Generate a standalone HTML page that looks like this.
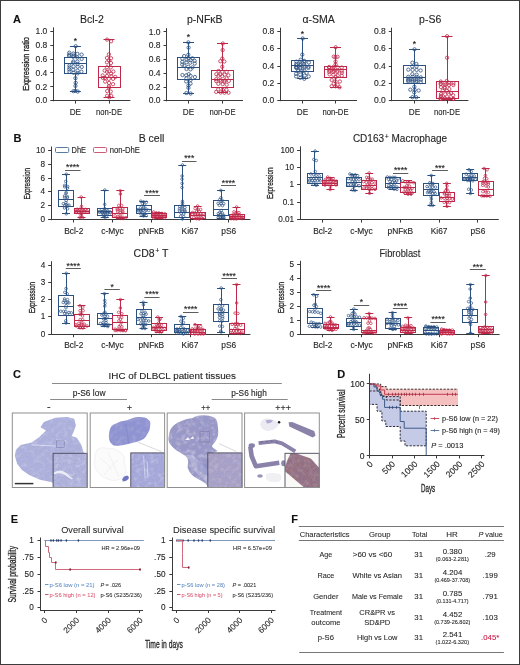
<!DOCTYPE html>
<html><head><meta charset="utf-8"><style>
html,body{margin:0;padding:0;background:#fff;}
body{width:520px;height:665px;position:relative;overflow:hidden;font-family:"Liberation Sans",sans-serif;}
#frame{position:absolute;left:0;top:0;width:518px;height:663px;border:1px solid #3c3c3c;pointer-events:none;}
</style></head><body>
<svg width="520" height="665" viewBox="0 0 520 665" style="position:absolute;left:0;top:0;will-change:transform">
<g font-family='"Liberation Sans", sans-serif' fill="#262626">
<rect x="0" y="0" width="520" height="665" fill="#fff"/>
<text x="13.00" y="23.00" font-size="11" fill="#111" font-weight="bold" stroke="#111" stroke-width="0.12" >A</text>
<line x1="53.50" y1="27.40" x2="53.50" y2="101.30" stroke="#3a3a3a" stroke-width="1" />
<line x1="50.30" y1="100.50" x2="53.40" y2="100.50" stroke="#3a3a3a" stroke-width="1" />
<text x="47.30" y="103.44" font-size="8.5" text-anchor="end" stroke="#262626" stroke-width="0.12" >0.0</text>
<line x1="50.30" y1="86.50" x2="53.40" y2="86.50" stroke="#3a3a3a" stroke-width="1" />
<text x="47.30" y="89.52" font-size="8.5" text-anchor="end" stroke="#262626" stroke-width="0.12" >0.2</text>
<line x1="50.30" y1="72.50" x2="53.40" y2="72.50" stroke="#3a3a3a" stroke-width="1" />
<text x="47.30" y="75.60" font-size="8.5" text-anchor="end" stroke="#262626" stroke-width="0.12" >0.4</text>
<line x1="50.30" y1="59.50" x2="53.40" y2="59.50" stroke="#3a3a3a" stroke-width="1" />
<text x="47.30" y="61.67" font-size="8.5" text-anchor="end" stroke="#262626" stroke-width="0.12" >0.6</text>
<line x1="50.30" y1="45.50" x2="53.40" y2="45.50" stroke="#3a3a3a" stroke-width="1" />
<text x="47.30" y="47.76" font-size="8.5" text-anchor="end" stroke="#262626" stroke-width="0.12" >0.8</text>
<line x1="50.30" y1="31.50" x2="53.40" y2="31.50" stroke="#3a3a3a" stroke-width="1" />
<text x="47.30" y="33.84" font-size="8.5" text-anchor="end" stroke="#262626" stroke-width="0.12" >1.0</text>
<line x1="52.90" y1="100.50" x2="130.40" y2="100.50" stroke="#3a3a3a" stroke-width="1" />
<line x1="75.50" y1="46.20" x2="75.50" y2="57.30" stroke="#2b5182" stroke-width="1.0" />
<line x1="75.50" y1="73.90" x2="75.50" y2="91.50" stroke="#2b5182" stroke-width="1.0" />
<line x1="69.90" y1="46.50" x2="80.90" y2="46.50" stroke="#2b5182" stroke-width="1.0" />
<line x1="69.90" y1="91.50" x2="80.90" y2="91.50" stroke="#2b5182" stroke-width="1.0" />
<rect x="64.50" y="57.50" width="22.00" height="16.00" fill="none" stroke="#2b5182" stroke-width="1.0"/>
<line x1="64.50" y1="63.50" x2="86.50" y2="63.50" stroke="#2b5182" stroke-width="1.0" />
<circle cx="75.68" cy="46.20" r="1.65" fill="none" stroke="#2b5182" stroke-width="0.8"/>
<circle cx="69.31" cy="52.69" r="1.65" fill="none" stroke="#2b5182" stroke-width="0.8"/>
<circle cx="73.40" cy="53.54" r="1.65" fill="none" stroke="#2b5182" stroke-width="0.8"/>
<circle cx="77.42" cy="53.93" r="1.65" fill="none" stroke="#2b5182" stroke-width="0.8"/>
<circle cx="81.61" cy="54.61" r="1.65" fill="none" stroke="#2b5182" stroke-width="0.8"/>
<circle cx="69.18" cy="54.66" r="1.65" fill="none" stroke="#2b5182" stroke-width="0.8"/>
<circle cx="73.40" cy="55.46" r="1.65" fill="none" stroke="#2b5182" stroke-width="0.8"/>
<circle cx="69.12" cy="56.00" r="1.65" fill="none" stroke="#2b5182" stroke-width="0.8"/>
<circle cx="73.16" cy="56.80" r="1.65" fill="none" stroke="#2b5182" stroke-width="0.8"/>
<circle cx="77.26" cy="57.53" r="1.65" fill="none" stroke="#2b5182" stroke-width="0.8"/>
<circle cx="81.62" cy="58.97" r="1.65" fill="none" stroke="#2b5182" stroke-width="0.8"/>
<circle cx="73.44" cy="61.46" r="1.65" fill="none" stroke="#2b5182" stroke-width="0.8"/>
<circle cx="77.44" cy="61.60" r="1.65" fill="none" stroke="#2b5182" stroke-width="0.8"/>
<circle cx="73.10" cy="62.61" r="1.65" fill="none" stroke="#2b5182" stroke-width="0.8"/>
<circle cx="77.60" cy="64.02" r="1.65" fill="none" stroke="#2b5182" stroke-width="0.8"/>
<circle cx="69.48" cy="65.49" r="1.65" fill="none" stroke="#2b5182" stroke-width="0.8"/>
<circle cx="73.60" cy="66.45" r="1.65" fill="none" stroke="#2b5182" stroke-width="0.8"/>
<circle cx="77.66" cy="66.72" r="1.65" fill="none" stroke="#2b5182" stroke-width="0.8"/>
<circle cx="81.79" cy="66.98" r="1.65" fill="none" stroke="#2b5182" stroke-width="0.8"/>
<circle cx="69.50" cy="67.44" r="1.65" fill="none" stroke="#2b5182" stroke-width="0.8"/>
<circle cx="69.27" cy="69.42" r="1.65" fill="none" stroke="#2b5182" stroke-width="0.8"/>
<circle cx="73.28" cy="69.85" r="1.65" fill="none" stroke="#2b5182" stroke-width="0.8"/>
<circle cx="77.57" cy="70.66" r="1.65" fill="none" stroke="#2b5182" stroke-width="0.8"/>
<circle cx="81.42" cy="71.66" r="1.65" fill="none" stroke="#2b5182" stroke-width="0.8"/>
<circle cx="69.44" cy="71.75" r="1.65" fill="none" stroke="#2b5182" stroke-width="0.8"/>
<circle cx="73.56" cy="72.79" r="1.65" fill="none" stroke="#2b5182" stroke-width="0.8"/>
<circle cx="77.69" cy="73.36" r="1.65" fill="none" stroke="#2b5182" stroke-width="0.8"/>
<circle cx="75.45" cy="78.19" r="1.65" fill="none" stroke="#2b5182" stroke-width="0.8"/>
<circle cx="75.67" cy="82.78" r="1.65" fill="none" stroke="#2b5182" stroke-width="0.8"/>
<circle cx="75.45" cy="85.94" r="1.65" fill="none" stroke="#2b5182" stroke-width="0.8"/>
<circle cx="75.37" cy="90.91" r="1.65" fill="none" stroke="#2b5182" stroke-width="0.8"/>
<circle cx="73.45" cy="91.20" r="1.65" fill="none" stroke="#2b5182" stroke-width="0.8"/>
<circle cx="77.75" cy="91.50" r="1.65" fill="none" stroke="#2b5182" stroke-width="0.8"/>
<line x1="75.50" y1="100.80" x2="75.50" y2="103.60" stroke="#3a3a3a" stroke-width="1" />
<line x1="109.50" y1="39.60" x2="109.50" y2="66.80" stroke="#c0284a" stroke-width="1.0" />
<line x1="109.50" y1="87.30" x2="109.50" y2="97.30" stroke="#c0284a" stroke-width="1.0" />
<line x1="103.50" y1="39.50" x2="114.50" y2="39.50" stroke="#c0284a" stroke-width="1.0" />
<line x1="103.50" y1="97.50" x2="114.50" y2="97.50" stroke="#c0284a" stroke-width="1.0" />
<rect x="98.50" y="66.50" width="22.00" height="21.00" fill="none" stroke="#c0284a" stroke-width="1.0"/>
<line x1="98.50" y1="77.50" x2="120.50" y2="77.50" stroke="#c0284a" stroke-width="1.0" />
<circle cx="107.07" cy="39.60" r="1.65" fill="none" stroke="#c0284a" stroke-width="0.8"/>
<circle cx="111.15" cy="41.30" r="1.65" fill="none" stroke="#c0284a" stroke-width="0.8"/>
<circle cx="108.92" cy="54.31" r="1.65" fill="none" stroke="#c0284a" stroke-width="0.8"/>
<circle cx="106.91" cy="57.90" r="1.65" fill="none" stroke="#c0284a" stroke-width="0.8"/>
<circle cx="111.06" cy="58.26" r="1.65" fill="none" stroke="#c0284a" stroke-width="0.8"/>
<circle cx="109.17" cy="60.49" r="1.65" fill="none" stroke="#c0284a" stroke-width="0.8"/>
<circle cx="106.96" cy="62.32" r="1.65" fill="none" stroke="#c0284a" stroke-width="0.8"/>
<circle cx="110.99" cy="62.93" r="1.65" fill="none" stroke="#c0284a" stroke-width="0.8"/>
<circle cx="106.94" cy="67.24" r="1.65" fill="none" stroke="#c0284a" stroke-width="0.8"/>
<circle cx="110.77" cy="67.38" r="1.65" fill="none" stroke="#c0284a" stroke-width="0.8"/>
<circle cx="104.63" cy="70.61" r="1.65" fill="none" stroke="#c0284a" stroke-width="0.8"/>
<circle cx="109.12" cy="71.34" r="1.65" fill="none" stroke="#c0284a" stroke-width="0.8"/>
<circle cx="113.39" cy="71.53" r="1.65" fill="none" stroke="#c0284a" stroke-width="0.8"/>
<circle cx="107.01" cy="71.78" r="1.65" fill="none" stroke="#c0284a" stroke-width="0.8"/>
<circle cx="110.99" cy="73.62" r="1.65" fill="none" stroke="#c0284a" stroke-width="0.8"/>
<circle cx="102.65" cy="75.45" r="1.65" fill="none" stroke="#c0284a" stroke-width="0.8"/>
<circle cx="106.95" cy="76.01" r="1.65" fill="none" stroke="#c0284a" stroke-width="0.8"/>
<circle cx="111.34" cy="76.22" r="1.65" fill="none" stroke="#c0284a" stroke-width="0.8"/>
<circle cx="115.31" cy="76.96" r="1.65" fill="none" stroke="#c0284a" stroke-width="0.8"/>
<circle cx="102.87" cy="77.90" r="1.65" fill="none" stroke="#c0284a" stroke-width="0.8"/>
<circle cx="105.12" cy="78.05" r="1.65" fill="none" stroke="#c0284a" stroke-width="0.8"/>
<circle cx="108.84" cy="78.85" r="1.65" fill="none" stroke="#c0284a" stroke-width="0.8"/>
<circle cx="113.11" cy="78.87" r="1.65" fill="none" stroke="#c0284a" stroke-width="0.8"/>
<circle cx="105.17" cy="81.59" r="1.65" fill="none" stroke="#c0284a" stroke-width="0.8"/>
<circle cx="109.05" cy="82.97" r="1.65" fill="none" stroke="#c0284a" stroke-width="0.8"/>
<circle cx="113.08" cy="84.17" r="1.65" fill="none" stroke="#c0284a" stroke-width="0.8"/>
<circle cx="108.86" cy="86.18" r="1.65" fill="none" stroke="#c0284a" stroke-width="0.8"/>
<circle cx="109.03" cy="87.61" r="1.65" fill="none" stroke="#c0284a" stroke-width="0.8"/>
<circle cx="107.22" cy="91.11" r="1.65" fill="none" stroke="#c0284a" stroke-width="0.8"/>
<circle cx="110.75" cy="91.52" r="1.65" fill="none" stroke="#c0284a" stroke-width="0.8"/>
<circle cx="107.12" cy="95.76" r="1.65" fill="none" stroke="#c0284a" stroke-width="0.8"/>
<circle cx="111.24" cy="95.90" r="1.65" fill="none" stroke="#c0284a" stroke-width="0.8"/>
<circle cx="109.23" cy="97.30" r="1.65" fill="none" stroke="#c0284a" stroke-width="0.8"/>
<line x1="109.50" y1="100.80" x2="109.50" y2="103.60" stroke="#3a3a3a" stroke-width="1" />
<text x="75.40" y="43.80" font-size="8.6" text-anchor="middle" fill="#111" stroke="#111" stroke-width="0.12" >*</text>
<text x="75.40" y="115.00" font-size="8.2" text-anchor="middle" stroke="#262626" stroke-width="0.12" >DE</text>
<text x="109.00" y="115.00" font-size="8.2" text-anchor="middle" textLength="26.00" lengthAdjust="spacingAndGlyphs" stroke="#262626" stroke-width="0.12" >non-DE</text>
<text x="91.90" y="22.70" font-size="10.5" text-anchor="middle" stroke="#262626" stroke-width="0.12" >Bcl-2</text>
<line x1="166.50" y1="28.10" x2="166.50" y2="101.30" stroke="#3a3a3a" stroke-width="1" />
<line x1="163.50" y1="100.50" x2="166.60" y2="100.50" stroke="#3a3a3a" stroke-width="1" />
<text x="160.50" y="103.44" font-size="8.5" text-anchor="end" stroke="#262626" stroke-width="0.12" >0.0</text>
<line x1="163.50" y1="87.50" x2="166.60" y2="87.50" stroke="#3a3a3a" stroke-width="1" />
<text x="160.50" y="89.66" font-size="8.5" text-anchor="end" stroke="#262626" stroke-width="0.12" >0.2</text>
<line x1="163.50" y1="73.50" x2="166.60" y2="73.50" stroke="#3a3a3a" stroke-width="1" />
<text x="160.50" y="75.88" font-size="8.5" text-anchor="end" stroke="#262626" stroke-width="0.12" >0.4</text>
<line x1="163.50" y1="59.50" x2="166.60" y2="59.50" stroke="#3a3a3a" stroke-width="1" />
<text x="160.50" y="62.09" font-size="8.5" text-anchor="end" stroke="#262626" stroke-width="0.12" >0.6</text>
<line x1="163.50" y1="45.50" x2="166.60" y2="45.50" stroke="#3a3a3a" stroke-width="1" />
<text x="160.50" y="48.31" font-size="8.5" text-anchor="end" stroke="#262626" stroke-width="0.12" >0.8</text>
<line x1="163.50" y1="31.50" x2="166.60" y2="31.50" stroke="#3a3a3a" stroke-width="1" />
<text x="160.50" y="34.53" font-size="8.5" text-anchor="end" stroke="#262626" stroke-width="0.12" >1.0</text>
<line x1="166.10" y1="100.50" x2="243.00" y2="100.50" stroke="#3a3a3a" stroke-width="1" />
<line x1="188.50" y1="42.40" x2="188.50" y2="57.30" stroke="#2b5182" stroke-width="1.0" />
<line x1="188.50" y1="79.30" x2="188.50" y2="93.50" stroke="#2b5182" stroke-width="1.0" />
<line x1="183.00" y1="42.50" x2="194.00" y2="42.50" stroke="#2b5182" stroke-width="1.0" />
<line x1="183.00" y1="93.50" x2="194.00" y2="93.50" stroke="#2b5182" stroke-width="1.0" />
<rect x="177.50" y="57.50" width="22.00" height="22.00" fill="none" stroke="#2b5182" stroke-width="1.0"/>
<line x1="177.50" y1="67.50" x2="199.50" y2="67.50" stroke="#2b5182" stroke-width="1.0" />
<circle cx="188.36" cy="42.40" r="1.65" fill="none" stroke="#2b5182" stroke-width="0.8"/>
<circle cx="188.57" cy="47.61" r="1.65" fill="none" stroke="#2b5182" stroke-width="0.8"/>
<circle cx="188.31" cy="54.77" r="1.65" fill="none" stroke="#2b5182" stroke-width="0.8"/>
<circle cx="184.17" cy="56.05" r="1.65" fill="none" stroke="#2b5182" stroke-width="0.8"/>
<circle cx="188.47" cy="58.11" r="1.65" fill="none" stroke="#2b5182" stroke-width="0.8"/>
<circle cx="192.40" cy="58.27" r="1.65" fill="none" stroke="#2b5182" stroke-width="0.8"/>
<circle cx="182.44" cy="58.73" r="1.65" fill="none" stroke="#2b5182" stroke-width="0.8"/>
<circle cx="186.64" cy="59.78" r="1.65" fill="none" stroke="#2b5182" stroke-width="0.8"/>
<circle cx="190.72" cy="60.25" r="1.65" fill="none" stroke="#2b5182" stroke-width="0.8"/>
<circle cx="194.64" cy="60.83" r="1.65" fill="none" stroke="#2b5182" stroke-width="0.8"/>
<circle cx="182.26" cy="61.83" r="1.65" fill="none" stroke="#2b5182" stroke-width="0.8"/>
<circle cx="186.41" cy="62.23" r="1.65" fill="none" stroke="#2b5182" stroke-width="0.8"/>
<circle cx="190.25" cy="62.70" r="1.65" fill="none" stroke="#2b5182" stroke-width="0.8"/>
<circle cx="194.78" cy="63.54" r="1.65" fill="none" stroke="#2b5182" stroke-width="0.8"/>
<circle cx="182.25" cy="64.51" r="1.65" fill="none" stroke="#2b5182" stroke-width="0.8"/>
<circle cx="184.29" cy="65.53" r="1.65" fill="none" stroke="#2b5182" stroke-width="0.8"/>
<circle cx="188.25" cy="66.74" r="1.65" fill="none" stroke="#2b5182" stroke-width="0.8"/>
<circle cx="192.57" cy="67.35" r="1.65" fill="none" stroke="#2b5182" stroke-width="0.8"/>
<circle cx="186.50" cy="69.04" r="1.65" fill="none" stroke="#2b5182" stroke-width="0.8"/>
<circle cx="190.48" cy="69.38" r="1.65" fill="none" stroke="#2b5182" stroke-width="0.8"/>
<circle cx="188.72" cy="74.19" r="1.65" fill="none" stroke="#2b5182" stroke-width="0.8"/>
<circle cx="182.45" cy="75.06" r="1.65" fill="none" stroke="#2b5182" stroke-width="0.8"/>
<circle cx="186.29" cy="75.30" r="1.65" fill="none" stroke="#2b5182" stroke-width="0.8"/>
<circle cx="190.57" cy="75.87" r="1.65" fill="none" stroke="#2b5182" stroke-width="0.8"/>
<circle cx="194.90" cy="77.06" r="1.65" fill="none" stroke="#2b5182" stroke-width="0.8"/>
<circle cx="186.46" cy="78.26" r="1.65" fill="none" stroke="#2b5182" stroke-width="0.8"/>
<circle cx="190.61" cy="79.93" r="1.65" fill="none" stroke="#2b5182" stroke-width="0.8"/>
<circle cx="186.19" cy="81.43" r="1.65" fill="none" stroke="#2b5182" stroke-width="0.8"/>
<circle cx="190.54" cy="83.60" r="1.65" fill="none" stroke="#2b5182" stroke-width="0.8"/>
<circle cx="188.48" cy="85.45" r="1.65" fill="none" stroke="#2b5182" stroke-width="0.8"/>
<circle cx="188.44" cy="87.87" r="1.65" fill="none" stroke="#2b5182" stroke-width="0.8"/>
<circle cx="186.40" cy="93.07" r="1.65" fill="none" stroke="#2b5182" stroke-width="0.8"/>
<circle cx="190.60" cy="93.50" r="1.65" fill="none" stroke="#2b5182" stroke-width="0.8"/>
<line x1="188.50" y1="100.80" x2="188.50" y2="103.60" stroke="#3a3a3a" stroke-width="1" />
<line x1="222.50" y1="43.50" x2="222.50" y2="70.70" stroke="#c0284a" stroke-width="1.0" />
<line x1="222.50" y1="87.30" x2="222.50" y2="92.70" stroke="#c0284a" stroke-width="1.0" />
<line x1="217.00" y1="43.50" x2="228.00" y2="43.50" stroke="#c0284a" stroke-width="1.0" />
<line x1="217.00" y1="92.50" x2="228.00" y2="92.50" stroke="#c0284a" stroke-width="1.0" />
<rect x="211.50" y="70.50" width="22.00" height="17.00" fill="none" stroke="#c0284a" stroke-width="1.0"/>
<line x1="211.50" y1="79.50" x2="233.50" y2="79.50" stroke="#c0284a" stroke-width="1.0" />
<circle cx="222.78" cy="43.50" r="1.65" fill="none" stroke="#c0284a" stroke-width="0.8"/>
<circle cx="222.65" cy="50.02" r="1.65" fill="none" stroke="#c0284a" stroke-width="0.8"/>
<circle cx="222.27" cy="58.58" r="1.65" fill="none" stroke="#c0284a" stroke-width="0.8"/>
<circle cx="220.30" cy="61.23" r="1.65" fill="none" stroke="#c0284a" stroke-width="0.8"/>
<circle cx="224.31" cy="61.52" r="1.65" fill="none" stroke="#c0284a" stroke-width="0.8"/>
<circle cx="222.24" cy="66.78" r="1.65" fill="none" stroke="#c0284a" stroke-width="0.8"/>
<circle cx="218.58" cy="70.95" r="1.65" fill="none" stroke="#c0284a" stroke-width="0.8"/>
<circle cx="222.31" cy="71.69" r="1.65" fill="none" stroke="#c0284a" stroke-width="0.8"/>
<circle cx="226.64" cy="71.87" r="1.65" fill="none" stroke="#c0284a" stroke-width="0.8"/>
<circle cx="216.32" cy="74.18" r="1.65" fill="none" stroke="#c0284a" stroke-width="0.8"/>
<circle cx="220.26" cy="74.51" r="1.65" fill="none" stroke="#c0284a" stroke-width="0.8"/>
<circle cx="224.69" cy="74.72" r="1.65" fill="none" stroke="#c0284a" stroke-width="0.8"/>
<circle cx="228.43" cy="75.32" r="1.65" fill="none" stroke="#c0284a" stroke-width="0.8"/>
<circle cx="218.49" cy="75.74" r="1.65" fill="none" stroke="#c0284a" stroke-width="0.8"/>
<circle cx="222.27" cy="76.22" r="1.65" fill="none" stroke="#c0284a" stroke-width="0.8"/>
<circle cx="226.55" cy="78.40" r="1.65" fill="none" stroke="#c0284a" stroke-width="0.8"/>
<circle cx="216.18" cy="79.20" r="1.65" fill="none" stroke="#c0284a" stroke-width="0.8"/>
<circle cx="220.31" cy="79.99" r="1.65" fill="none" stroke="#c0284a" stroke-width="0.8"/>
<circle cx="224.83" cy="80.45" r="1.65" fill="none" stroke="#c0284a" stroke-width="0.8"/>
<circle cx="228.83" cy="80.92" r="1.65" fill="none" stroke="#c0284a" stroke-width="0.8"/>
<circle cx="216.23" cy="81.15" r="1.65" fill="none" stroke="#c0284a" stroke-width="0.8"/>
<circle cx="220.68" cy="81.33" r="1.65" fill="none" stroke="#c0284a" stroke-width="0.8"/>
<circle cx="224.38" cy="81.70" r="1.65" fill="none" stroke="#c0284a" stroke-width="0.8"/>
<circle cx="218.34" cy="83.86" r="1.65" fill="none" stroke="#c0284a" stroke-width="0.8"/>
<circle cx="222.71" cy="84.14" r="1.65" fill="none" stroke="#c0284a" stroke-width="0.8"/>
<circle cx="226.69" cy="84.68" r="1.65" fill="none" stroke="#c0284a" stroke-width="0.8"/>
<circle cx="218.16" cy="89.45" r="1.65" fill="none" stroke="#c0284a" stroke-width="0.8"/>
<circle cx="222.79" cy="89.81" r="1.65" fill="none" stroke="#c0284a" stroke-width="0.8"/>
<circle cx="226.43" cy="89.84" r="1.65" fill="none" stroke="#c0284a" stroke-width="0.8"/>
<circle cx="216.20" cy="91.88" r="1.65" fill="none" stroke="#c0284a" stroke-width="0.8"/>
<circle cx="220.61" cy="92.51" r="1.65" fill="none" stroke="#c0284a" stroke-width="0.8"/>
<circle cx="224.45" cy="92.68" r="1.65" fill="none" stroke="#c0284a" stroke-width="0.8"/>
<circle cx="228.53" cy="92.70" r="1.65" fill="none" stroke="#c0284a" stroke-width="0.8"/>
<line x1="222.50" y1="100.80" x2="222.50" y2="103.60" stroke="#3a3a3a" stroke-width="1" />
<text x="188.50" y="40.10" font-size="8.6" text-anchor="middle" fill="#111" stroke="#111" stroke-width="0.12" >*</text>
<text x="188.50" y="115.00" font-size="8.2" text-anchor="middle" stroke="#262626" stroke-width="0.12" >DE</text>
<text x="222.50" y="115.00" font-size="8.2" text-anchor="middle" textLength="26.00" lengthAdjust="spacingAndGlyphs" stroke="#262626" stroke-width="0.12" >non-DE</text>
<text x="204.80" y="22.70" font-size="10.5" text-anchor="middle" stroke="#262626" stroke-width="0.12" >p-NF&#954;B</text>
<line x1="280.50" y1="27.70" x2="280.50" y2="101.20" stroke="#3a3a3a" stroke-width="1" />
<line x1="277.30" y1="100.50" x2="280.40" y2="100.50" stroke="#3a3a3a" stroke-width="1" />
<text x="274.30" y="103.34" font-size="8.5" text-anchor="end" stroke="#262626" stroke-width="0.12" >0.0</text>
<line x1="277.30" y1="83.50" x2="280.40" y2="83.50" stroke="#3a3a3a" stroke-width="1" />
<text x="274.30" y="86.04" font-size="8.5" text-anchor="end" stroke="#262626" stroke-width="0.12" >0.2</text>
<line x1="277.30" y1="66.50" x2="280.40" y2="66.50" stroke="#3a3a3a" stroke-width="1" />
<text x="274.30" y="68.73" font-size="8.5" text-anchor="end" stroke="#262626" stroke-width="0.12" >0.4</text>
<line x1="277.30" y1="48.50" x2="280.40" y2="48.50" stroke="#3a3a3a" stroke-width="1" />
<text x="274.30" y="51.43" font-size="8.5" text-anchor="end" stroke="#262626" stroke-width="0.12" >0.6</text>
<line x1="277.30" y1="31.50" x2="280.40" y2="31.50" stroke="#3a3a3a" stroke-width="1" />
<text x="274.30" y="34.13" font-size="8.5" text-anchor="end" stroke="#262626" stroke-width="0.12" >0.8</text>
<line x1="279.90" y1="100.50" x2="357.00" y2="100.50" stroke="#3a3a3a" stroke-width="1" />
<line x1="302.50" y1="38.50" x2="302.50" y2="60.70" stroke="#2b5182" stroke-width="1.0" />
<line x1="302.50" y1="71.20" x2="302.50" y2="78.80" stroke="#2b5182" stroke-width="1.0" />
<line x1="297.00" y1="38.50" x2="308.00" y2="38.50" stroke="#2b5182" stroke-width="1.0" />
<line x1="297.00" y1="78.50" x2="308.00" y2="78.50" stroke="#2b5182" stroke-width="1.0" />
<rect x="291.50" y="60.50" width="22.00" height="11.00" fill="none" stroke="#2b5182" stroke-width="1.0"/>
<line x1="291.50" y1="65.50" x2="313.50" y2="65.50" stroke="#2b5182" stroke-width="1.0" />
<circle cx="302.70" cy="38.50" r="1.65" fill="none" stroke="#2b5182" stroke-width="0.8"/>
<circle cx="302.27" cy="54.64" r="1.65" fill="none" stroke="#2b5182" stroke-width="0.8"/>
<circle cx="300.68" cy="59.72" r="1.65" fill="none" stroke="#2b5182" stroke-width="0.8"/>
<circle cx="304.25" cy="60.84" r="1.65" fill="none" stroke="#2b5182" stroke-width="0.8"/>
<circle cx="296.44" cy="61.69" r="1.65" fill="none" stroke="#2b5182" stroke-width="0.8"/>
<circle cx="300.34" cy="61.92" r="1.65" fill="none" stroke="#2b5182" stroke-width="0.8"/>
<circle cx="304.69" cy="61.94" r="1.65" fill="none" stroke="#2b5182" stroke-width="0.8"/>
<circle cx="308.92" cy="62.48" r="1.65" fill="none" stroke="#2b5182" stroke-width="0.8"/>
<circle cx="296.37" cy="63.86" r="1.65" fill="none" stroke="#2b5182" stroke-width="0.8"/>
<circle cx="300.61" cy="64.03" r="1.65" fill="none" stroke="#2b5182" stroke-width="0.8"/>
<circle cx="304.28" cy="64.05" r="1.65" fill="none" stroke="#2b5182" stroke-width="0.8"/>
<circle cx="296.45" cy="65.25" r="1.65" fill="none" stroke="#2b5182" stroke-width="0.8"/>
<circle cx="300.22" cy="65.40" r="1.65" fill="none" stroke="#2b5182" stroke-width="0.8"/>
<circle cx="304.52" cy="66.15" r="1.65" fill="none" stroke="#2b5182" stroke-width="0.8"/>
<circle cx="308.55" cy="66.72" r="1.65" fill="none" stroke="#2b5182" stroke-width="0.8"/>
<circle cx="296.09" cy="67.29" r="1.65" fill="none" stroke="#2b5182" stroke-width="0.8"/>
<circle cx="296.50" cy="67.38" r="1.65" fill="none" stroke="#2b5182" stroke-width="0.8"/>
<circle cx="300.21" cy="67.41" r="1.65" fill="none" stroke="#2b5182" stroke-width="0.8"/>
<circle cx="304.40" cy="67.49" r="1.65" fill="none" stroke="#2b5182" stroke-width="0.8"/>
<circle cx="308.40" cy="67.95" r="1.65" fill="none" stroke="#2b5182" stroke-width="0.8"/>
<circle cx="296.45" cy="67.98" r="1.65" fill="none" stroke="#2b5182" stroke-width="0.8"/>
<circle cx="300.33" cy="68.11" r="1.65" fill="none" stroke="#2b5182" stroke-width="0.8"/>
<circle cx="304.28" cy="70.45" r="1.65" fill="none" stroke="#2b5182" stroke-width="0.8"/>
<circle cx="298.12" cy="71.12" r="1.65" fill="none" stroke="#2b5182" stroke-width="0.8"/>
<circle cx="302.33" cy="71.14" r="1.65" fill="none" stroke="#2b5182" stroke-width="0.8"/>
<circle cx="306.60" cy="72.87" r="1.65" fill="none" stroke="#2b5182" stroke-width="0.8"/>
<circle cx="296.06" cy="73.75" r="1.65" fill="none" stroke="#2b5182" stroke-width="0.8"/>
<circle cx="300.16" cy="74.62" r="1.65" fill="none" stroke="#2b5182" stroke-width="0.8"/>
<circle cx="304.65" cy="75.61" r="1.65" fill="none" stroke="#2b5182" stroke-width="0.8"/>
<circle cx="308.67" cy="76.42" r="1.65" fill="none" stroke="#2b5182" stroke-width="0.8"/>
<circle cx="296.13" cy="76.44" r="1.65" fill="none" stroke="#2b5182" stroke-width="0.8"/>
<circle cx="300.34" cy="77.83" r="1.65" fill="none" stroke="#2b5182" stroke-width="0.8"/>
<circle cx="304.33" cy="78.80" r="1.65" fill="none" stroke="#2b5182" stroke-width="0.8"/>
<line x1="302.50" y1="100.70" x2="302.50" y2="103.50" stroke="#3a3a3a" stroke-width="1" />
<line x1="335.50" y1="47.30" x2="335.50" y2="66.50" stroke="#c0284a" stroke-width="1.0" />
<line x1="335.50" y1="77.80" x2="335.50" y2="87.30" stroke="#c0284a" stroke-width="1.0" />
<line x1="330.00" y1="47.50" x2="341.00" y2="47.50" stroke="#c0284a" stroke-width="1.0" />
<line x1="330.00" y1="87.50" x2="341.00" y2="87.50" stroke="#c0284a" stroke-width="1.0" />
<rect x="324.50" y="66.50" width="22.00" height="11.00" fill="none" stroke="#c0284a" stroke-width="1.0"/>
<line x1="324.50" y1="69.50" x2="346.50" y2="69.50" stroke="#c0284a" stroke-width="1.0" />
<circle cx="335.63" cy="47.30" r="1.65" fill="none" stroke="#c0284a" stroke-width="0.8"/>
<circle cx="333.75" cy="56.63" r="1.65" fill="none" stroke="#c0284a" stroke-width="0.8"/>
<circle cx="337.55" cy="56.78" r="1.65" fill="none" stroke="#c0284a" stroke-width="0.8"/>
<circle cx="335.49" cy="57.25" r="1.65" fill="none" stroke="#c0284a" stroke-width="0.8"/>
<circle cx="335.53" cy="61.51" r="1.65" fill="none" stroke="#c0284a" stroke-width="0.8"/>
<circle cx="335.65" cy="64.30" r="1.65" fill="none" stroke="#c0284a" stroke-width="0.8"/>
<circle cx="329.18" cy="66.92" r="1.65" fill="none" stroke="#c0284a" stroke-width="0.8"/>
<circle cx="333.52" cy="66.98" r="1.65" fill="none" stroke="#c0284a" stroke-width="0.8"/>
<circle cx="337.58" cy="67.28" r="1.65" fill="none" stroke="#c0284a" stroke-width="0.8"/>
<circle cx="341.72" cy="67.55" r="1.65" fill="none" stroke="#c0284a" stroke-width="0.8"/>
<circle cx="329.16" cy="67.81" r="1.65" fill="none" stroke="#c0284a" stroke-width="0.8"/>
<circle cx="333.25" cy="69.17" r="1.65" fill="none" stroke="#c0284a" stroke-width="0.8"/>
<circle cx="329.26" cy="70.22" r="1.65" fill="none" stroke="#c0284a" stroke-width="0.8"/>
<circle cx="333.71" cy="70.63" r="1.65" fill="none" stroke="#c0284a" stroke-width="0.8"/>
<circle cx="337.46" cy="70.69" r="1.65" fill="none" stroke="#c0284a" stroke-width="0.8"/>
<circle cx="341.71" cy="70.86" r="1.65" fill="none" stroke="#c0284a" stroke-width="0.8"/>
<circle cx="329.23" cy="71.88" r="1.65" fill="none" stroke="#c0284a" stroke-width="0.8"/>
<circle cx="333.21" cy="71.91" r="1.65" fill="none" stroke="#c0284a" stroke-width="0.8"/>
<circle cx="337.29" cy="71.98" r="1.65" fill="none" stroke="#c0284a" stroke-width="0.8"/>
<circle cx="341.84" cy="72.74" r="1.65" fill="none" stroke="#c0284a" stroke-width="0.8"/>
<circle cx="329.52" cy="74.29" r="1.65" fill="none" stroke="#c0284a" stroke-width="0.8"/>
<circle cx="333.37" cy="74.75" r="1.65" fill="none" stroke="#c0284a" stroke-width="0.8"/>
<circle cx="337.66" cy="75.46" r="1.65" fill="none" stroke="#c0284a" stroke-width="0.8"/>
<circle cx="341.76" cy="75.74" r="1.65" fill="none" stroke="#c0284a" stroke-width="0.8"/>
<circle cx="335.74" cy="76.99" r="1.65" fill="none" stroke="#c0284a" stroke-width="0.8"/>
<circle cx="331.67" cy="80.03" r="1.65" fill="none" stroke="#c0284a" stroke-width="0.8"/>
<circle cx="335.44" cy="81.30" r="1.65" fill="none" stroke="#c0284a" stroke-width="0.8"/>
<circle cx="339.89" cy="81.47" r="1.65" fill="none" stroke="#c0284a" stroke-width="0.8"/>
<circle cx="333.73" cy="83.65" r="1.65" fill="none" stroke="#c0284a" stroke-width="0.8"/>
<circle cx="337.60" cy="84.82" r="1.65" fill="none" stroke="#c0284a" stroke-width="0.8"/>
<circle cx="331.63" cy="86.23" r="1.65" fill="none" stroke="#c0284a" stroke-width="0.8"/>
<circle cx="335.49" cy="86.29" r="1.65" fill="none" stroke="#c0284a" stroke-width="0.8"/>
<circle cx="339.53" cy="87.30" r="1.65" fill="none" stroke="#c0284a" stroke-width="0.8"/>
<line x1="335.50" y1="100.70" x2="335.50" y2="103.50" stroke="#3a3a3a" stroke-width="1" />
<text x="302.50" y="37.00" font-size="8.6" text-anchor="middle" fill="#111" stroke="#111" stroke-width="0.12" >*</text>
<text x="302.50" y="115.00" font-size="8.2" text-anchor="middle" stroke="#262626" stroke-width="0.12" >DE</text>
<text x="335.50" y="115.00" font-size="8.2" text-anchor="middle" textLength="26.00" lengthAdjust="spacingAndGlyphs" stroke="#262626" stroke-width="0.12" >non-DE</text>
<text x="318.70" y="22.70" font-size="10.5" text-anchor="middle" stroke="#262626" stroke-width="0.12" >&#945;-SMA</text>
<line x1="391.50" y1="27.70" x2="391.50" y2="101.20" stroke="#3a3a3a" stroke-width="1" />
<line x1="388.80" y1="100.50" x2="391.90" y2="100.50" stroke="#3a3a3a" stroke-width="1" />
<text x="385.80" y="103.34" font-size="8.5" text-anchor="end" stroke="#262626" stroke-width="0.12" >0.0</text>
<line x1="388.80" y1="83.50" x2="391.90" y2="83.50" stroke="#3a3a3a" stroke-width="1" />
<text x="385.80" y="86.04" font-size="8.5" text-anchor="end" stroke="#262626" stroke-width="0.12" >0.2</text>
<line x1="388.80" y1="66.50" x2="391.90" y2="66.50" stroke="#3a3a3a" stroke-width="1" />
<text x="385.80" y="68.73" font-size="8.5" text-anchor="end" stroke="#262626" stroke-width="0.12" >0.4</text>
<line x1="388.80" y1="48.50" x2="391.90" y2="48.50" stroke="#3a3a3a" stroke-width="1" />
<text x="385.80" y="51.43" font-size="8.5" text-anchor="end" stroke="#262626" stroke-width="0.12" >0.6</text>
<line x1="388.80" y1="31.50" x2="391.90" y2="31.50" stroke="#3a3a3a" stroke-width="1" />
<text x="385.80" y="34.13" font-size="8.5" text-anchor="end" stroke="#262626" stroke-width="0.12" >0.8</text>
<line x1="391.40" y1="100.50" x2="468.40" y2="100.50" stroke="#3a3a3a" stroke-width="1" />
<line x1="414.50" y1="49.30" x2="414.50" y2="65.30" stroke="#2b5182" stroke-width="1.0" />
<line x1="414.50" y1="83.20" x2="414.50" y2="97.30" stroke="#2b5182" stroke-width="1.0" />
<line x1="409.00" y1="49.50" x2="420.00" y2="49.50" stroke="#2b5182" stroke-width="1.0" />
<line x1="409.00" y1="97.50" x2="420.00" y2="97.50" stroke="#2b5182" stroke-width="1.0" />
<rect x="403.50" y="65.50" width="22.00" height="18.00" fill="none" stroke="#2b5182" stroke-width="1.0"/>
<line x1="403.50" y1="77.50" x2="425.50" y2="77.50" stroke="#2b5182" stroke-width="1.0" />
<circle cx="414.51" cy="49.30" r="1.65" fill="none" stroke="#2b5182" stroke-width="0.8"/>
<circle cx="412.40" cy="62.71" r="1.65" fill="none" stroke="#2b5182" stroke-width="0.8"/>
<circle cx="416.39" cy="64.00" r="1.65" fill="none" stroke="#2b5182" stroke-width="0.8"/>
<circle cx="412.28" cy="66.51" r="1.65" fill="none" stroke="#2b5182" stroke-width="0.8"/>
<circle cx="416.47" cy="66.60" r="1.65" fill="none" stroke="#2b5182" stroke-width="0.8"/>
<circle cx="408.31" cy="69.65" r="1.65" fill="none" stroke="#2b5182" stroke-width="0.8"/>
<circle cx="412.59" cy="69.88" r="1.65" fill="none" stroke="#2b5182" stroke-width="0.8"/>
<circle cx="416.62" cy="69.91" r="1.65" fill="none" stroke="#2b5182" stroke-width="0.8"/>
<circle cx="420.66" cy="70.48" r="1.65" fill="none" stroke="#2b5182" stroke-width="0.8"/>
<circle cx="412.38" cy="74.15" r="1.65" fill="none" stroke="#2b5182" stroke-width="0.8"/>
<circle cx="416.63" cy="74.67" r="1.65" fill="none" stroke="#2b5182" stroke-width="0.8"/>
<circle cx="408.28" cy="76.78" r="1.65" fill="none" stroke="#2b5182" stroke-width="0.8"/>
<circle cx="412.63" cy="76.85" r="1.65" fill="none" stroke="#2b5182" stroke-width="0.8"/>
<circle cx="416.64" cy="77.00" r="1.65" fill="none" stroke="#2b5182" stroke-width="0.8"/>
<circle cx="420.77" cy="77.36" r="1.65" fill="none" stroke="#2b5182" stroke-width="0.8"/>
<circle cx="408.27" cy="78.72" r="1.65" fill="none" stroke="#2b5182" stroke-width="0.8"/>
<circle cx="412.46" cy="78.96" r="1.65" fill="none" stroke="#2b5182" stroke-width="0.8"/>
<circle cx="416.68" cy="79.08" r="1.65" fill="none" stroke="#2b5182" stroke-width="0.8"/>
<circle cx="420.92" cy="79.71" r="1.65" fill="none" stroke="#2b5182" stroke-width="0.8"/>
<circle cx="408.37" cy="80.15" r="1.65" fill="none" stroke="#2b5182" stroke-width="0.8"/>
<circle cx="412.34" cy="80.37" r="1.65" fill="none" stroke="#2b5182" stroke-width="0.8"/>
<circle cx="416.66" cy="80.74" r="1.65" fill="none" stroke="#2b5182" stroke-width="0.8"/>
<circle cx="408.12" cy="81.32" r="1.65" fill="none" stroke="#2b5182" stroke-width="0.8"/>
<circle cx="412.35" cy="81.72" r="1.65" fill="none" stroke="#2b5182" stroke-width="0.8"/>
<circle cx="416.27" cy="81.99" r="1.65" fill="none" stroke="#2b5182" stroke-width="0.8"/>
<circle cx="420.68" cy="82.08" r="1.65" fill="none" stroke="#2b5182" stroke-width="0.8"/>
<circle cx="414.35" cy="86.75" r="1.65" fill="none" stroke="#2b5182" stroke-width="0.8"/>
<circle cx="410.34" cy="89.71" r="1.65" fill="none" stroke="#2b5182" stroke-width="0.8"/>
<circle cx="414.67" cy="89.89" r="1.65" fill="none" stroke="#2b5182" stroke-width="0.8"/>
<circle cx="418.68" cy="90.53" r="1.65" fill="none" stroke="#2b5182" stroke-width="0.8"/>
<circle cx="414.22" cy="92.43" r="1.65" fill="none" stroke="#2b5182" stroke-width="0.8"/>
<circle cx="412.42" cy="97.20" r="1.65" fill="none" stroke="#2b5182" stroke-width="0.8"/>
<circle cx="416.25" cy="97.30" r="1.65" fill="none" stroke="#2b5182" stroke-width="0.8"/>
<line x1="414.50" y1="100.70" x2="414.50" y2="103.50" stroke="#3a3a3a" stroke-width="1" />
<line x1="447.50" y1="36.20" x2="447.50" y2="81.20" stroke="#c0284a" stroke-width="1.0" />
<line x1="447.50" y1="98.80" x2="447.50" y2="99.00" stroke="#c0284a" stroke-width="1.0" />
<line x1="441.50" y1="36.50" x2="452.50" y2="36.50" stroke="#c0284a" stroke-width="1.0" />
<line x1="441.50" y1="99.50" x2="452.50" y2="99.50" stroke="#c0284a" stroke-width="1.0" />
<rect x="436.50" y="81.50" width="22.00" height="17.00" fill="none" stroke="#c0284a" stroke-width="1.0"/>
<line x1="436.50" y1="91.50" x2="458.50" y2="91.50" stroke="#c0284a" stroke-width="1.0" />
<circle cx="447.06" cy="36.20" r="1.65" fill="none" stroke="#c0284a" stroke-width="0.8"/>
<circle cx="447.12" cy="57.70" r="1.65" fill="none" stroke="#c0284a" stroke-width="0.8"/>
<circle cx="446.76" cy="80.98" r="1.65" fill="none" stroke="#c0284a" stroke-width="0.8"/>
<circle cx="440.79" cy="81.56" r="1.65" fill="none" stroke="#c0284a" stroke-width="0.8"/>
<circle cx="445.20" cy="82.85" r="1.65" fill="none" stroke="#c0284a" stroke-width="0.8"/>
<circle cx="449.14" cy="83.18" r="1.65" fill="none" stroke="#c0284a" stroke-width="0.8"/>
<circle cx="453.44" cy="83.18" r="1.65" fill="none" stroke="#c0284a" stroke-width="0.8"/>
<circle cx="440.67" cy="83.60" r="1.65" fill="none" stroke="#c0284a" stroke-width="0.8"/>
<circle cx="440.82" cy="84.30" r="1.65" fill="none" stroke="#c0284a" stroke-width="0.8"/>
<circle cx="445.13" cy="84.79" r="1.65" fill="none" stroke="#c0284a" stroke-width="0.8"/>
<circle cx="449.02" cy="85.02" r="1.65" fill="none" stroke="#c0284a" stroke-width="0.8"/>
<circle cx="453.32" cy="85.06" r="1.65" fill="none" stroke="#c0284a" stroke-width="0.8"/>
<circle cx="440.89" cy="87.01" r="1.65" fill="none" stroke="#c0284a" stroke-width="0.8"/>
<circle cx="444.72" cy="87.11" r="1.65" fill="none" stroke="#c0284a" stroke-width="0.8"/>
<circle cx="444.71" cy="88.17" r="1.65" fill="none" stroke="#c0284a" stroke-width="0.8"/>
<circle cx="449.34" cy="89.08" r="1.65" fill="none" stroke="#c0284a" stroke-width="0.8"/>
<circle cx="442.67" cy="90.81" r="1.65" fill="none" stroke="#c0284a" stroke-width="0.8"/>
<circle cx="446.82" cy="90.83" r="1.65" fill="none" stroke="#c0284a" stroke-width="0.8"/>
<circle cx="451.00" cy="93.24" r="1.65" fill="none" stroke="#c0284a" stroke-width="0.8"/>
<circle cx="440.98" cy="94.14" r="1.65" fill="none" stroke="#c0284a" stroke-width="0.8"/>
<circle cx="445.16" cy="94.24" r="1.65" fill="none" stroke="#c0284a" stroke-width="0.8"/>
<circle cx="449.04" cy="94.53" r="1.65" fill="none" stroke="#c0284a" stroke-width="0.8"/>
<circle cx="453.15" cy="95.22" r="1.65" fill="none" stroke="#c0284a" stroke-width="0.8"/>
<circle cx="441.02" cy="95.92" r="1.65" fill="none" stroke="#c0284a" stroke-width="0.8"/>
<circle cx="440.72" cy="97.41" r="1.65" fill="none" stroke="#c0284a" stroke-width="0.8"/>
<circle cx="444.87" cy="98.01" r="1.65" fill="none" stroke="#c0284a" stroke-width="0.8"/>
<circle cx="449.12" cy="98.74" r="1.65" fill="none" stroke="#c0284a" stroke-width="0.8"/>
<circle cx="453.23" cy="98.88" r="1.65" fill="none" stroke="#c0284a" stroke-width="0.8"/>
<circle cx="440.57" cy="98.93" r="1.65" fill="none" stroke="#c0284a" stroke-width="0.8"/>
<circle cx="444.72" cy="98.96" r="1.65" fill="none" stroke="#c0284a" stroke-width="0.8"/>
<circle cx="448.83" cy="98.97" r="1.65" fill="none" stroke="#c0284a" stroke-width="0.8"/>
<circle cx="453.29" cy="99.00" r="1.65" fill="none" stroke="#c0284a" stroke-width="0.8"/>
<circle cx="440.97" cy="99.00" r="1.65" fill="none" stroke="#c0284a" stroke-width="0.8"/>
<line x1="447.50" y1="100.70" x2="447.50" y2="103.50" stroke="#3a3a3a" stroke-width="1" />
<text x="414.50" y="47.30" font-size="8.6" text-anchor="middle" fill="#111" stroke="#111" stroke-width="0.12" >*</text>
<text x="414.50" y="115.00" font-size="8.2" text-anchor="middle" stroke="#262626" stroke-width="0.12" >DE</text>
<text x="447.00" y="115.00" font-size="8.2" text-anchor="middle" textLength="26.00" lengthAdjust="spacingAndGlyphs" stroke="#262626" stroke-width="0.12" >non-DE</text>
<text x="430.15" y="22.70" font-size="10.5" text-anchor="middle" stroke="#262626" stroke-width="0.12" >p-S6</text>
<text x="29.30" y="63.80" font-size="9.4" text-anchor="middle" textLength="53.70" lengthAdjust="spacingAndGlyphs" transform="rotate(-90 29.30 63.80)" stroke="#262626" stroke-width="0.32" >Expression ratio</text>
<text x="13.40" y="141.80" font-size="11" fill="#111" font-weight="bold" stroke="#111" stroke-width="0.12" >B</text>
<line x1="51.50" y1="146.50" x2="51.50" y2="220.20" stroke="#3a3a3a" stroke-width="1" />
<line x1="48.10" y1="219.50" x2="51.20" y2="219.50" stroke="#3a3a3a" stroke-width="1" />
<text x="45.10" y="222.24" font-size="8.2" text-anchor="end" stroke="#262626" stroke-width="0.12" >0</text>
<line x1="48.10" y1="205.50" x2="51.20" y2="205.50" stroke="#3a3a3a" stroke-width="1" />
<text x="45.10" y="208.36" font-size="8.2" text-anchor="end" stroke="#262626" stroke-width="0.12" >2</text>
<line x1="48.10" y1="191.50" x2="51.20" y2="191.50" stroke="#3a3a3a" stroke-width="1" />
<text x="45.10" y="194.48" font-size="8.2" text-anchor="end" stroke="#262626" stroke-width="0.12" >4</text>
<line x1="48.10" y1="178.50" x2="51.20" y2="178.50" stroke="#3a3a3a" stroke-width="1" />
<text x="45.10" y="180.60" font-size="8.2" text-anchor="end" stroke="#262626" stroke-width="0.12" >6</text>
<line x1="48.10" y1="164.50" x2="51.20" y2="164.50" stroke="#3a3a3a" stroke-width="1" />
<text x="45.10" y="166.72" font-size="8.2" text-anchor="end" stroke="#262626" stroke-width="0.12" >8</text>
<line x1="48.10" y1="150.50" x2="51.20" y2="150.50" stroke="#3a3a3a" stroke-width="1" />
<text x="45.10" y="152.84" font-size="8.2" text-anchor="end" stroke="#262626" stroke-width="0.12" >10</text>
<line x1="50.70" y1="219.50" x2="250.40" y2="219.50" stroke="#3a3a3a" stroke-width="1" />
<line x1="73.50" y1="219.70" x2="73.50" y2="222.50" stroke="#3a3a3a" stroke-width="1" />
<text x="73.75" y="234.10" font-size="8.4" text-anchor="middle" stroke="#262626" stroke-width="0.12" >Bcl-2</text>
<line x1="66.50" y1="174.20" x2="66.50" y2="190.50" stroke="#2b5182" stroke-width="1.0" />
<line x1="66.50" y1="206.20" x2="66.50" y2="213.80" stroke="#2b5182" stroke-width="1.0" />
<line x1="62.00" y1="174.50" x2="70.00" y2="174.50" stroke="#2b5182" stroke-width="1.0" />
<line x1="62.00" y1="213.50" x2="70.00" y2="213.50" stroke="#2b5182" stroke-width="1.0" />
<rect x="58.50" y="190.50" width="15.00" height="16.00" fill="none" stroke="#2b5182" stroke-width="1.0"/>
<line x1="58.50" y1="199.50" x2="73.50" y2="199.50" stroke="#2b5182" stroke-width="1.0" />
<circle cx="66.24" cy="174.20" r="1.3" fill="none" stroke="#2b5182" stroke-width="0.7"/>
<circle cx="65.78" cy="181.35" r="1.3" fill="none" stroke="#2b5182" stroke-width="0.7"/>
<circle cx="64.67" cy="185.39" r="1.3" fill="none" stroke="#2b5182" stroke-width="0.7"/>
<circle cx="67.65" cy="186.48" r="1.3" fill="none" stroke="#2b5182" stroke-width="0.7"/>
<circle cx="64.70" cy="186.82" r="1.3" fill="none" stroke="#2b5182" stroke-width="0.7"/>
<circle cx="67.50" cy="188.13" r="1.3" fill="none" stroke="#2b5182" stroke-width="0.7"/>
<circle cx="66.16" cy="192.45" r="1.3" fill="none" stroke="#2b5182" stroke-width="0.7"/>
<circle cx="66.00" cy="193.30" r="1.3" fill="none" stroke="#2b5182" stroke-width="0.7"/>
<circle cx="64.51" cy="195.95" r="1.3" fill="none" stroke="#2b5182" stroke-width="0.7"/>
<circle cx="67.42" cy="196.71" r="1.3" fill="none" stroke="#2b5182" stroke-width="0.7"/>
<circle cx="64.65" cy="197.64" r="1.3" fill="none" stroke="#2b5182" stroke-width="0.7"/>
<circle cx="67.27" cy="197.66" r="1.3" fill="none" stroke="#2b5182" stroke-width="0.7"/>
<circle cx="66.21" cy="200.51" r="1.3" fill="none" stroke="#2b5182" stroke-width="0.7"/>
<circle cx="65.92" cy="202.56" r="1.3" fill="none" stroke="#2b5182" stroke-width="0.7"/>
<circle cx="63.26" cy="203.71" r="1.3" fill="none" stroke="#2b5182" stroke-width="0.7"/>
<circle cx="66.16" cy="204.65" r="1.3" fill="none" stroke="#2b5182" stroke-width="0.7"/>
<circle cx="68.92" cy="205.15" r="1.3" fill="none" stroke="#2b5182" stroke-width="0.7"/>
<circle cx="64.87" cy="205.51" r="1.3" fill="none" stroke="#2b5182" stroke-width="0.7"/>
<circle cx="67.46" cy="205.62" r="1.3" fill="none" stroke="#2b5182" stroke-width="0.7"/>
<circle cx="64.49" cy="208.00" r="1.3" fill="none" stroke="#2b5182" stroke-width="0.7"/>
<circle cx="67.57" cy="208.75" r="1.3" fill="none" stroke="#2b5182" stroke-width="0.7"/>
<circle cx="66.25" cy="213.80" r="1.3" fill="none" stroke="#2b5182" stroke-width="0.7"/>
<line x1="81.50" y1="197.00" x2="81.50" y2="208.20" stroke="#c0284a" stroke-width="1.0" />
<line x1="81.50" y1="213.80" x2="81.50" y2="217.70" stroke="#c0284a" stroke-width="1.0" />
<line x1="77.50" y1="197.50" x2="85.50" y2="197.50" stroke="#c0284a" stroke-width="1.0" />
<line x1="77.50" y1="217.50" x2="85.50" y2="217.50" stroke="#c0284a" stroke-width="1.0" />
<rect x="74.50" y="208.50" width="15.00" height="5.00" fill="none" stroke="#c0284a" stroke-width="1.0"/>
<line x1="74.50" y1="211.50" x2="89.50" y2="211.50" stroke="#c0284a" stroke-width="1.0" />
<circle cx="81.21" cy="197.00" r="1.3" fill="none" stroke="#c0284a" stroke-width="0.7"/>
<circle cx="81.54" cy="206.32" r="1.3" fill="none" stroke="#c0284a" stroke-width="0.7"/>
<circle cx="77.20" cy="209.28" r="1.3" fill="none" stroke="#c0284a" stroke-width="0.7"/>
<circle cx="79.86" cy="209.29" r="1.3" fill="none" stroke="#c0284a" stroke-width="0.7"/>
<circle cx="82.67" cy="209.37" r="1.3" fill="none" stroke="#c0284a" stroke-width="0.7"/>
<circle cx="85.33" cy="209.44" r="1.3" fill="none" stroke="#c0284a" stroke-width="0.7"/>
<circle cx="75.83" cy="209.90" r="1.3" fill="none" stroke="#c0284a" stroke-width="0.7"/>
<circle cx="78.88" cy="210.13" r="1.3" fill="none" stroke="#c0284a" stroke-width="0.7"/>
<circle cx="81.64" cy="210.57" r="1.3" fill="none" stroke="#c0284a" stroke-width="0.7"/>
<circle cx="84.15" cy="210.80" r="1.3" fill="none" stroke="#c0284a" stroke-width="0.7"/>
<circle cx="87.05" cy="210.84" r="1.3" fill="none" stroke="#c0284a" stroke-width="0.7"/>
<circle cx="76.03" cy="211.77" r="1.3" fill="none" stroke="#c0284a" stroke-width="0.7"/>
<circle cx="78.77" cy="211.92" r="1.3" fill="none" stroke="#c0284a" stroke-width="0.7"/>
<circle cx="81.73" cy="211.95" r="1.3" fill="none" stroke="#c0284a" stroke-width="0.7"/>
<circle cx="84.12" cy="212.08" r="1.3" fill="none" stroke="#c0284a" stroke-width="0.7"/>
<circle cx="87.18" cy="212.15" r="1.3" fill="none" stroke="#c0284a" stroke-width="0.7"/>
<circle cx="76.15" cy="212.51" r="1.3" fill="none" stroke="#c0284a" stroke-width="0.7"/>
<circle cx="78.88" cy="212.81" r="1.3" fill="none" stroke="#c0284a" stroke-width="0.7"/>
<circle cx="81.20" cy="213.64" r="1.3" fill="none" stroke="#c0284a" stroke-width="0.7"/>
<circle cx="81.25" cy="215.34" r="1.3" fill="none" stroke="#c0284a" stroke-width="0.7"/>
<circle cx="79.85" cy="217.40" r="1.3" fill="none" stroke="#c0284a" stroke-width="0.7"/>
<circle cx="82.77" cy="217.70" r="1.3" fill="none" stroke="#c0284a" stroke-width="0.7"/>
<line x1="112.50" y1="219.70" x2="112.50" y2="222.50" stroke="#3a3a3a" stroke-width="1" />
<text x="112.50" y="234.10" font-size="8.4" text-anchor="middle" stroke="#262626" stroke-width="0.12" >c-Myc</text>
<line x1="104.50" y1="190.00" x2="104.50" y2="208.00" stroke="#2b5182" stroke-width="1.0" />
<line x1="104.50" y1="215.00" x2="104.50" y2="217.20" stroke="#2b5182" stroke-width="1.0" />
<line x1="100.75" y1="190.50" x2="108.75" y2="190.50" stroke="#2b5182" stroke-width="1.0" />
<line x1="100.75" y1="217.50" x2="108.75" y2="217.50" stroke="#2b5182" stroke-width="1.0" />
<rect x="97.50" y="208.50" width="15.00" height="7.00" fill="none" stroke="#2b5182" stroke-width="1.0"/>
<line x1="97.50" y1="211.50" x2="112.50" y2="211.50" stroke="#2b5182" stroke-width="1.0" />
<circle cx="104.83" cy="190.00" r="1.3" fill="none" stroke="#2b5182" stroke-width="0.7"/>
<circle cx="104.71" cy="204.40" r="1.3" fill="none" stroke="#2b5182" stroke-width="0.7"/>
<circle cx="104.78" cy="208.64" r="1.3" fill="none" stroke="#2b5182" stroke-width="0.7"/>
<circle cx="101.98" cy="209.59" r="1.3" fill="none" stroke="#2b5182" stroke-width="0.7"/>
<circle cx="104.85" cy="210.69" r="1.3" fill="none" stroke="#2b5182" stroke-width="0.7"/>
<circle cx="107.71" cy="210.79" r="1.3" fill="none" stroke="#2b5182" stroke-width="0.7"/>
<circle cx="99.49" cy="211.51" r="1.3" fill="none" stroke="#2b5182" stroke-width="0.7"/>
<circle cx="102.10" cy="211.64" r="1.3" fill="none" stroke="#2b5182" stroke-width="0.7"/>
<circle cx="104.73" cy="211.71" r="1.3" fill="none" stroke="#2b5182" stroke-width="0.7"/>
<circle cx="107.75" cy="211.71" r="1.3" fill="none" stroke="#2b5182" stroke-width="0.7"/>
<circle cx="110.18" cy="211.96" r="1.3" fill="none" stroke="#2b5182" stroke-width="0.7"/>
<circle cx="99.37" cy="212.12" r="1.3" fill="none" stroke="#2b5182" stroke-width="0.7"/>
<circle cx="102.24" cy="212.31" r="1.3" fill="none" stroke="#2b5182" stroke-width="0.7"/>
<circle cx="104.86" cy="212.35" r="1.3" fill="none" stroke="#2b5182" stroke-width="0.7"/>
<circle cx="107.41" cy="212.69" r="1.3" fill="none" stroke="#2b5182" stroke-width="0.7"/>
<circle cx="110.36" cy="212.81" r="1.3" fill="none" stroke="#2b5182" stroke-width="0.7"/>
<circle cx="102.08" cy="212.99" r="1.3" fill="none" stroke="#2b5182" stroke-width="0.7"/>
<circle cx="105.00" cy="213.23" r="1.3" fill="none" stroke="#2b5182" stroke-width="0.7"/>
<circle cx="107.55" cy="213.67" r="1.3" fill="none" stroke="#2b5182" stroke-width="0.7"/>
<circle cx="103.41" cy="215.37" r="1.3" fill="none" stroke="#2b5182" stroke-width="0.7"/>
<circle cx="106.40" cy="216.62" r="1.3" fill="none" stroke="#2b5182" stroke-width="0.7"/>
<circle cx="104.77" cy="217.20" r="1.3" fill="none" stroke="#2b5182" stroke-width="0.7"/>
<line x1="120.50" y1="190.80" x2="120.50" y2="207.70" stroke="#c0284a" stroke-width="1.0" />
<line x1="120.50" y1="217.50" x2="120.50" y2="218.50" stroke="#c0284a" stroke-width="1.0" />
<line x1="116.25" y1="190.50" x2="124.25" y2="190.50" stroke="#c0284a" stroke-width="1.0" />
<line x1="116.25" y1="218.50" x2="124.25" y2="218.50" stroke="#c0284a" stroke-width="1.0" />
<rect x="112.50" y="207.50" width="15.00" height="10.00" fill="none" stroke="#c0284a" stroke-width="1.0"/>
<line x1="112.50" y1="213.50" x2="127.50" y2="213.50" stroke="#c0284a" stroke-width="1.0" />
<circle cx="120.27" cy="190.80" r="1.3" fill="none" stroke="#c0284a" stroke-width="0.7"/>
<circle cx="120.38" cy="194.00" r="1.3" fill="none" stroke="#c0284a" stroke-width="0.7"/>
<circle cx="118.76" cy="205.40" r="1.3" fill="none" stroke="#c0284a" stroke-width="0.7"/>
<circle cx="121.60" cy="205.51" r="1.3" fill="none" stroke="#c0284a" stroke-width="0.7"/>
<circle cx="117.31" cy="208.46" r="1.3" fill="none" stroke="#c0284a" stroke-width="0.7"/>
<circle cx="120.20" cy="208.75" r="1.3" fill="none" stroke="#c0284a" stroke-width="0.7"/>
<circle cx="122.83" cy="208.89" r="1.3" fill="none" stroke="#c0284a" stroke-width="0.7"/>
<circle cx="117.28" cy="209.88" r="1.3" fill="none" stroke="#c0284a" stroke-width="0.7"/>
<circle cx="120.50" cy="210.46" r="1.3" fill="none" stroke="#c0284a" stroke-width="0.7"/>
<circle cx="122.74" cy="211.32" r="1.3" fill="none" stroke="#c0284a" stroke-width="0.7"/>
<circle cx="117.71" cy="211.71" r="1.3" fill="none" stroke="#c0284a" stroke-width="0.7"/>
<circle cx="120.37" cy="212.35" r="1.3" fill="none" stroke="#c0284a" stroke-width="0.7"/>
<circle cx="122.73" cy="212.83" r="1.3" fill="none" stroke="#c0284a" stroke-width="0.7"/>
<circle cx="120.24" cy="215.40" r="1.3" fill="none" stroke="#c0284a" stroke-width="0.7"/>
<circle cx="115.09" cy="215.80" r="1.3" fill="none" stroke="#c0284a" stroke-width="0.7"/>
<circle cx="117.81" cy="216.42" r="1.3" fill="none" stroke="#c0284a" stroke-width="0.7"/>
<circle cx="120.29" cy="216.97" r="1.3" fill="none" stroke="#c0284a" stroke-width="0.7"/>
<circle cx="123.14" cy="217.37" r="1.3" fill="none" stroke="#c0284a" stroke-width="0.7"/>
<circle cx="125.84" cy="217.62" r="1.3" fill="none" stroke="#c0284a" stroke-width="0.7"/>
<circle cx="117.40" cy="217.96" r="1.3" fill="none" stroke="#c0284a" stroke-width="0.7"/>
<circle cx="120.28" cy="218.39" r="1.3" fill="none" stroke="#c0284a" stroke-width="0.7"/>
<circle cx="123.04" cy="218.50" r="1.3" fill="none" stroke="#c0284a" stroke-width="0.7"/>
<line x1="151.50" y1="219.70" x2="151.50" y2="222.50" stroke="#3a3a3a" stroke-width="1" />
<text x="151.25" y="234.10" font-size="8.4" text-anchor="middle" stroke="#262626" stroke-width="0.12" >pNF&#954;B</text>
<line x1="143.50" y1="201.20" x2="143.50" y2="205.40" stroke="#2b5182" stroke-width="1.0" />
<line x1="143.50" y1="213.00" x2="143.50" y2="216.00" stroke="#2b5182" stroke-width="1.0" />
<line x1="139.50" y1="201.50" x2="147.50" y2="201.50" stroke="#2b5182" stroke-width="1.0" />
<line x1="139.50" y1="216.50" x2="147.50" y2="216.50" stroke="#2b5182" stroke-width="1.0" />
<rect x="136.50" y="205.50" width="15.00" height="8.00" fill="none" stroke="#2b5182" stroke-width="1.0"/>
<line x1="136.50" y1="209.50" x2="151.50" y2="209.50" stroke="#2b5182" stroke-width="1.0" />
<circle cx="140.80" cy="201.20" r="1.3" fill="none" stroke="#2b5182" stroke-width="0.7"/>
<circle cx="143.58" cy="201.87" r="1.3" fill="none" stroke="#2b5182" stroke-width="0.7"/>
<circle cx="146.48" cy="202.20" r="1.3" fill="none" stroke="#2b5182" stroke-width="0.7"/>
<circle cx="142.43" cy="203.36" r="1.3" fill="none" stroke="#2b5182" stroke-width="0.7"/>
<circle cx="144.67" cy="205.06" r="1.3" fill="none" stroke="#2b5182" stroke-width="0.7"/>
<circle cx="143.51" cy="207.36" r="1.3" fill="none" stroke="#2b5182" stroke-width="0.7"/>
<circle cx="140.49" cy="207.85" r="1.3" fill="none" stroke="#2b5182" stroke-width="0.7"/>
<circle cx="143.43" cy="208.55" r="1.3" fill="none" stroke="#2b5182" stroke-width="0.7"/>
<circle cx="146.02" cy="208.94" r="1.3" fill="none" stroke="#2b5182" stroke-width="0.7"/>
<circle cx="137.84" cy="209.72" r="1.3" fill="none" stroke="#2b5182" stroke-width="0.7"/>
<circle cx="140.84" cy="209.94" r="1.3" fill="none" stroke="#2b5182" stroke-width="0.7"/>
<circle cx="143.25" cy="210.18" r="1.3" fill="none" stroke="#2b5182" stroke-width="0.7"/>
<circle cx="146.02" cy="210.31" r="1.3" fill="none" stroke="#2b5182" stroke-width="0.7"/>
<circle cx="148.67" cy="210.38" r="1.3" fill="none" stroke="#2b5182" stroke-width="0.7"/>
<circle cx="138.23" cy="210.82" r="1.3" fill="none" stroke="#2b5182" stroke-width="0.7"/>
<circle cx="140.62" cy="211.52" r="1.3" fill="none" stroke="#2b5182" stroke-width="0.7"/>
<circle cx="141.88" cy="212.21" r="1.3" fill="none" stroke="#2b5182" stroke-width="0.7"/>
<circle cx="144.94" cy="213.60" r="1.3" fill="none" stroke="#2b5182" stroke-width="0.7"/>
<circle cx="140.90" cy="214.05" r="1.3" fill="none" stroke="#2b5182" stroke-width="0.7"/>
<circle cx="143.58" cy="214.74" r="1.3" fill="none" stroke="#2b5182" stroke-width="0.7"/>
<circle cx="146.26" cy="215.62" r="1.3" fill="none" stroke="#2b5182" stroke-width="0.7"/>
<circle cx="143.52" cy="216.00" r="1.3" fill="none" stroke="#2b5182" stroke-width="0.7"/>
<line x1="159.50" y1="212.00" x2="159.50" y2="213.00" stroke="#c0284a" stroke-width="1.0" />
<line x1="159.50" y1="217.00" x2="159.50" y2="218.00" stroke="#c0284a" stroke-width="1.0" />
<line x1="155.00" y1="212.50" x2="163.00" y2="212.50" stroke="#c0284a" stroke-width="1.0" />
<line x1="155.00" y1="218.50" x2="163.00" y2="218.50" stroke="#c0284a" stroke-width="1.0" />
<rect x="151.50" y="213.50" width="15.00" height="4.00" fill="none" stroke="#c0284a" stroke-width="1.0"/>
<line x1="151.50" y1="215.50" x2="166.50" y2="215.50" stroke="#c0284a" stroke-width="1.0" />
<circle cx="153.62" cy="212.00" r="1.3" fill="none" stroke="#c0284a" stroke-width="0.7"/>
<circle cx="156.47" cy="212.89" r="1.3" fill="none" stroke="#c0284a" stroke-width="0.7"/>
<circle cx="159.01" cy="212.98" r="1.3" fill="none" stroke="#c0284a" stroke-width="0.7"/>
<circle cx="161.78" cy="213.47" r="1.3" fill="none" stroke="#c0284a" stroke-width="0.7"/>
<circle cx="164.74" cy="213.66" r="1.3" fill="none" stroke="#c0284a" stroke-width="0.7"/>
<circle cx="153.72" cy="213.68" r="1.3" fill="none" stroke="#c0284a" stroke-width="0.7"/>
<circle cx="156.53" cy="214.00" r="1.3" fill="none" stroke="#c0284a" stroke-width="0.7"/>
<circle cx="153.66" cy="214.55" r="1.3" fill="none" stroke="#c0284a" stroke-width="0.7"/>
<circle cx="156.04" cy="215.13" r="1.3" fill="none" stroke="#c0284a" stroke-width="0.7"/>
<circle cx="158.95" cy="215.64" r="1.3" fill="none" stroke="#c0284a" stroke-width="0.7"/>
<circle cx="161.60" cy="216.00" r="1.3" fill="none" stroke="#c0284a" stroke-width="0.7"/>
<circle cx="164.32" cy="216.04" r="1.3" fill="none" stroke="#c0284a" stroke-width="0.7"/>
<circle cx="153.32" cy="216.07" r="1.3" fill="none" stroke="#c0284a" stroke-width="0.7"/>
<circle cx="153.31" cy="216.52" r="1.3" fill="none" stroke="#c0284a" stroke-width="0.7"/>
<circle cx="156.26" cy="217.23" r="1.3" fill="none" stroke="#c0284a" stroke-width="0.7"/>
<circle cx="159.17" cy="217.35" r="1.3" fill="none" stroke="#c0284a" stroke-width="0.7"/>
<circle cx="161.95" cy="217.61" r="1.3" fill="none" stroke="#c0284a" stroke-width="0.7"/>
<circle cx="164.74" cy="217.74" r="1.3" fill="none" stroke="#c0284a" stroke-width="0.7"/>
<circle cx="153.59" cy="217.82" r="1.3" fill="none" stroke="#c0284a" stroke-width="0.7"/>
<circle cx="155.98" cy="217.98" r="1.3" fill="none" stroke="#c0284a" stroke-width="0.7"/>
<circle cx="158.81" cy="218.00" r="1.3" fill="none" stroke="#c0284a" stroke-width="0.7"/>
<circle cx="161.46" cy="218.00" r="1.3" fill="none" stroke="#c0284a" stroke-width="0.7"/>
<line x1="190.50" y1="219.70" x2="190.50" y2="222.50" stroke="#3a3a3a" stroke-width="1" />
<text x="190.00" y="234.10" font-size="8.4" text-anchor="middle" stroke="#262626" stroke-width="0.12" >Ki67</text>
<line x1="182.50" y1="165.00" x2="182.50" y2="205.00" stroke="#2b5182" stroke-width="1.0" />
<line x1="182.50" y1="217.00" x2="182.50" y2="219.00" stroke="#2b5182" stroke-width="1.0" />
<line x1="178.25" y1="165.50" x2="186.25" y2="165.50" stroke="#2b5182" stroke-width="1.0" />
<line x1="178.25" y1="219.50" x2="186.25" y2="219.50" stroke="#2b5182" stroke-width="1.0" />
<rect x="174.50" y="205.50" width="15.00" height="12.00" fill="none" stroke="#2b5182" stroke-width="1.0"/>
<line x1="174.50" y1="212.50" x2="189.50" y2="212.50" stroke="#2b5182" stroke-width="1.0" />
<circle cx="182.49" cy="165.00" r="1.3" fill="none" stroke="#2b5182" stroke-width="0.7"/>
<circle cx="182.08" cy="175.99" r="1.3" fill="none" stroke="#2b5182" stroke-width="0.7"/>
<circle cx="182.03" cy="179.20" r="1.3" fill="none" stroke="#2b5182" stroke-width="0.7"/>
<circle cx="182.11" cy="183.43" r="1.3" fill="none" stroke="#2b5182" stroke-width="0.7"/>
<circle cx="182.03" cy="187.49" r="1.3" fill="none" stroke="#2b5182" stroke-width="0.7"/>
<circle cx="182.45" cy="201.27" r="1.3" fill="none" stroke="#2b5182" stroke-width="0.7"/>
<circle cx="182.52" cy="203.17" r="1.3" fill="none" stroke="#2b5182" stroke-width="0.7"/>
<circle cx="182.41" cy="205.45" r="1.3" fill="none" stroke="#2b5182" stroke-width="0.7"/>
<circle cx="179.79" cy="206.65" r="1.3" fill="none" stroke="#2b5182" stroke-width="0.7"/>
<circle cx="182.28" cy="206.84" r="1.3" fill="none" stroke="#2b5182" stroke-width="0.7"/>
<circle cx="184.95" cy="207.45" r="1.3" fill="none" stroke="#2b5182" stroke-width="0.7"/>
<circle cx="179.45" cy="208.86" r="1.3" fill="none" stroke="#2b5182" stroke-width="0.7"/>
<circle cx="182.34" cy="209.19" r="1.3" fill="none" stroke="#2b5182" stroke-width="0.7"/>
<circle cx="184.82" cy="210.41" r="1.3" fill="none" stroke="#2b5182" stroke-width="0.7"/>
<circle cx="179.53" cy="210.89" r="1.3" fill="none" stroke="#2b5182" stroke-width="0.7"/>
<circle cx="182.18" cy="210.96" r="1.3" fill="none" stroke="#2b5182" stroke-width="0.7"/>
<circle cx="185.08" cy="211.64" r="1.3" fill="none" stroke="#2b5182" stroke-width="0.7"/>
<circle cx="181.11" cy="213.28" r="1.3" fill="none" stroke="#2b5182" stroke-width="0.7"/>
<circle cx="183.71" cy="213.94" r="1.3" fill="none" stroke="#2b5182" stroke-width="0.7"/>
<circle cx="180.67" cy="216.30" r="1.3" fill="none" stroke="#2b5182" stroke-width="0.7"/>
<circle cx="183.67" cy="216.66" r="1.3" fill="none" stroke="#2b5182" stroke-width="0.7"/>
<circle cx="182.39" cy="219.00" r="1.3" fill="none" stroke="#2b5182" stroke-width="0.7"/>
<line x1="197.50" y1="206.00" x2="197.50" y2="212.00" stroke="#c0284a" stroke-width="1.0" />
<line x1="197.50" y1="218.00" x2="197.50" y2="219.00" stroke="#c0284a" stroke-width="1.0" />
<line x1="193.75" y1="206.50" x2="201.75" y2="206.50" stroke="#c0284a" stroke-width="1.0" />
<line x1="193.75" y1="219.50" x2="201.75" y2="219.50" stroke="#c0284a" stroke-width="1.0" />
<rect x="190.50" y="212.50" width="15.00" height="6.00" fill="none" stroke="#c0284a" stroke-width="1.0"/>
<line x1="190.50" y1="215.50" x2="205.50" y2="215.50" stroke="#c0284a" stroke-width="1.0" />
<circle cx="197.59" cy="206.00" r="1.3" fill="none" stroke="#c0284a" stroke-width="0.7"/>
<circle cx="195.06" cy="208.47" r="1.3" fill="none" stroke="#c0284a" stroke-width="0.7"/>
<circle cx="197.82" cy="209.22" r="1.3" fill="none" stroke="#c0284a" stroke-width="0.7"/>
<circle cx="200.65" cy="209.48" r="1.3" fill="none" stroke="#c0284a" stroke-width="0.7"/>
<circle cx="196.63" cy="211.56" r="1.3" fill="none" stroke="#c0284a" stroke-width="0.7"/>
<circle cx="199.29" cy="211.69" r="1.3" fill="none" stroke="#c0284a" stroke-width="0.7"/>
<circle cx="192.58" cy="212.46" r="1.3" fill="none" stroke="#c0284a" stroke-width="0.7"/>
<circle cx="195.12" cy="213.12" r="1.3" fill="none" stroke="#c0284a" stroke-width="0.7"/>
<circle cx="197.86" cy="213.62" r="1.3" fill="none" stroke="#c0284a" stroke-width="0.7"/>
<circle cx="200.66" cy="213.79" r="1.3" fill="none" stroke="#c0284a" stroke-width="0.7"/>
<circle cx="203.21" cy="213.85" r="1.3" fill="none" stroke="#c0284a" stroke-width="0.7"/>
<circle cx="192.47" cy="214.40" r="1.3" fill="none" stroke="#c0284a" stroke-width="0.7"/>
<circle cx="195.25" cy="214.53" r="1.3" fill="none" stroke="#c0284a" stroke-width="0.7"/>
<circle cx="197.76" cy="214.96" r="1.3" fill="none" stroke="#c0284a" stroke-width="0.7"/>
<circle cx="200.39" cy="215.49" r="1.3" fill="none" stroke="#c0284a" stroke-width="0.7"/>
<circle cx="203.14" cy="216.25" r="1.3" fill="none" stroke="#c0284a" stroke-width="0.7"/>
<circle cx="193.72" cy="217.53" r="1.3" fill="none" stroke="#c0284a" stroke-width="0.7"/>
<circle cx="196.42" cy="217.99" r="1.3" fill="none" stroke="#c0284a" stroke-width="0.7"/>
<circle cx="199.11" cy="218.24" r="1.3" fill="none" stroke="#c0284a" stroke-width="0.7"/>
<circle cx="201.78" cy="218.28" r="1.3" fill="none" stroke="#c0284a" stroke-width="0.7"/>
<circle cx="196.53" cy="218.66" r="1.3" fill="none" stroke="#c0284a" stroke-width="0.7"/>
<circle cx="199.23" cy="219.00" r="1.3" fill="none" stroke="#c0284a" stroke-width="0.7"/>
<line x1="228.50" y1="219.70" x2="228.50" y2="222.50" stroke="#3a3a3a" stroke-width="1" />
<text x="228.75" y="234.10" font-size="8.4" text-anchor="middle" stroke="#262626" stroke-width="0.12" >pS6</text>
<line x1="221.50" y1="190.40" x2="221.50" y2="200.60" stroke="#2b5182" stroke-width="1.0" />
<line x1="221.50" y1="215.00" x2="221.50" y2="218.00" stroke="#2b5182" stroke-width="1.0" />
<line x1="217.00" y1="190.50" x2="225.00" y2="190.50" stroke="#2b5182" stroke-width="1.0" />
<line x1="217.00" y1="218.50" x2="225.00" y2="218.50" stroke="#2b5182" stroke-width="1.0" />
<rect x="213.50" y="200.50" width="15.00" height="15.00" fill="none" stroke="#2b5182" stroke-width="1.0"/>
<line x1="213.50" y1="209.50" x2="228.50" y2="209.50" stroke="#2b5182" stroke-width="1.0" />
<circle cx="220.84" cy="190.40" r="1.3" fill="none" stroke="#2b5182" stroke-width="0.7"/>
<circle cx="220.96" cy="197.80" r="1.3" fill="none" stroke="#2b5182" stroke-width="0.7"/>
<circle cx="219.71" cy="199.70" r="1.3" fill="none" stroke="#2b5182" stroke-width="0.7"/>
<circle cx="222.28" cy="200.55" r="1.3" fill="none" stroke="#2b5182" stroke-width="0.7"/>
<circle cx="221.17" cy="201.40" r="1.3" fill="none" stroke="#2b5182" stroke-width="0.7"/>
<circle cx="218.08" cy="203.34" r="1.3" fill="none" stroke="#2b5182" stroke-width="0.7"/>
<circle cx="221.06" cy="203.42" r="1.3" fill="none" stroke="#2b5182" stroke-width="0.7"/>
<circle cx="223.76" cy="203.69" r="1.3" fill="none" stroke="#2b5182" stroke-width="0.7"/>
<circle cx="219.35" cy="205.25" r="1.3" fill="none" stroke="#2b5182" stroke-width="0.7"/>
<circle cx="222.54" cy="205.58" r="1.3" fill="none" stroke="#2b5182" stroke-width="0.7"/>
<circle cx="221.17" cy="210.56" r="1.3" fill="none" stroke="#2b5182" stroke-width="0.7"/>
<circle cx="219.85" cy="212.35" r="1.3" fill="none" stroke="#2b5182" stroke-width="0.7"/>
<circle cx="222.18" cy="212.90" r="1.3" fill="none" stroke="#2b5182" stroke-width="0.7"/>
<circle cx="218.29" cy="213.59" r="1.3" fill="none" stroke="#2b5182" stroke-width="0.7"/>
<circle cx="220.79" cy="214.23" r="1.3" fill="none" stroke="#2b5182" stroke-width="0.7"/>
<circle cx="223.87" cy="215.33" r="1.3" fill="none" stroke="#2b5182" stroke-width="0.7"/>
<circle cx="218.34" cy="215.60" r="1.3" fill="none" stroke="#2b5182" stroke-width="0.7"/>
<circle cx="221.23" cy="216.16" r="1.3" fill="none" stroke="#2b5182" stroke-width="0.7"/>
<circle cx="223.51" cy="216.17" r="1.3" fill="none" stroke="#2b5182" stroke-width="0.7"/>
<circle cx="218.12" cy="217.75" r="1.3" fill="none" stroke="#2b5182" stroke-width="0.7"/>
<circle cx="220.74" cy="217.91" r="1.3" fill="none" stroke="#2b5182" stroke-width="0.7"/>
<circle cx="223.99" cy="218.00" r="1.3" fill="none" stroke="#2b5182" stroke-width="0.7"/>
<line x1="236.50" y1="207.00" x2="236.50" y2="214.00" stroke="#c0284a" stroke-width="1.0" />
<line x1="236.50" y1="218.00" x2="236.50" y2="219.00" stroke="#c0284a" stroke-width="1.0" />
<line x1="232.50" y1="207.50" x2="240.50" y2="207.50" stroke="#c0284a" stroke-width="1.0" />
<line x1="232.50" y1="219.50" x2="240.50" y2="219.50" stroke="#c0284a" stroke-width="1.0" />
<rect x="229.50" y="214.50" width="15.00" height="4.00" fill="none" stroke="#c0284a" stroke-width="1.0"/>
<line x1="229.50" y1="216.50" x2="244.50" y2="216.50" stroke="#c0284a" stroke-width="1.0" />
<circle cx="236.59" cy="207.00" r="1.3" fill="none" stroke="#c0284a" stroke-width="0.7"/>
<circle cx="233.95" cy="211.89" r="1.3" fill="none" stroke="#c0284a" stroke-width="0.7"/>
<circle cx="236.60" cy="212.24" r="1.3" fill="none" stroke="#c0284a" stroke-width="0.7"/>
<circle cx="238.96" cy="212.65" r="1.3" fill="none" stroke="#c0284a" stroke-width="0.7"/>
<circle cx="233.75" cy="214.26" r="1.3" fill="none" stroke="#c0284a" stroke-width="0.7"/>
<circle cx="236.55" cy="214.41" r="1.3" fill="none" stroke="#c0284a" stroke-width="0.7"/>
<circle cx="239.33" cy="214.61" r="1.3" fill="none" stroke="#c0284a" stroke-width="0.7"/>
<circle cx="231.30" cy="215.56" r="1.3" fill="none" stroke="#c0284a" stroke-width="0.7"/>
<circle cx="233.94" cy="215.78" r="1.3" fill="none" stroke="#c0284a" stroke-width="0.7"/>
<circle cx="236.45" cy="215.84" r="1.3" fill="none" stroke="#c0284a" stroke-width="0.7"/>
<circle cx="239.22" cy="216.08" r="1.3" fill="none" stroke="#c0284a" stroke-width="0.7"/>
<circle cx="242.13" cy="216.90" r="1.3" fill="none" stroke="#c0284a" stroke-width="0.7"/>
<circle cx="231.19" cy="217.09" r="1.3" fill="none" stroke="#c0284a" stroke-width="0.7"/>
<circle cx="233.69" cy="217.36" r="1.3" fill="none" stroke="#c0284a" stroke-width="0.7"/>
<circle cx="230.98" cy="217.56" r="1.3" fill="none" stroke="#c0284a" stroke-width="0.7"/>
<circle cx="233.84" cy="217.83" r="1.3" fill="none" stroke="#c0284a" stroke-width="0.7"/>
<circle cx="236.50" cy="217.87" r="1.3" fill="none" stroke="#c0284a" stroke-width="0.7"/>
<circle cx="239.33" cy="217.93" r="1.3" fill="none" stroke="#c0284a" stroke-width="0.7"/>
<circle cx="242.17" cy="218.55" r="1.3" fill="none" stroke="#c0284a" stroke-width="0.7"/>
<circle cx="230.99" cy="218.69" r="1.3" fill="none" stroke="#c0284a" stroke-width="0.7"/>
<circle cx="233.82" cy="218.87" r="1.3" fill="none" stroke="#c0284a" stroke-width="0.7"/>
<circle cx="236.32" cy="219.00" r="1.3" fill="none" stroke="#c0284a" stroke-width="0.7"/>
<line x1="65.00" y1="170.50" x2="80.50" y2="170.50" stroke="#333" stroke-width="0.8" />
<text x="72.75" y="170.20" font-size="8.6" text-anchor="middle" fill="#1a1a1a" stroke="#1a1a1a" stroke-width="0.12" >****</text>
<line x1="144.00" y1="195.50" x2="160.00" y2="195.50" stroke="#333" stroke-width="0.8" />
<text x="152.00" y="195.90" font-size="8.6" text-anchor="middle" fill="#1a1a1a" stroke="#1a1a1a" stroke-width="0.12" >****</text>
<line x1="182.00" y1="161.50" x2="196.50" y2="161.50" stroke="#333" stroke-width="0.8" />
<text x="189.25" y="161.40" font-size="8.6" text-anchor="middle" fill="#1a1a1a" stroke="#1a1a1a" stroke-width="0.12" >***</text>
<line x1="221.00" y1="185.50" x2="236.00" y2="185.50" stroke="#333" stroke-width="0.8" />
<text x="228.50" y="186.00" font-size="8.6" text-anchor="middle" fill="#1a1a1a" stroke="#1a1a1a" stroke-width="0.12" >****</text>
<text x="151.50" y="142.10" font-size="10.5" text-anchor="middle" stroke="#262626" stroke-width="0.12" >B cell</text>
<text x="30.00" y="183.75" font-size="9.4" text-anchor="middle" textLength="31.50" lengthAdjust="spacingAndGlyphs" transform="rotate(-90 30.00 183.75)" stroke="#262626" stroke-width="0.32" >Expression</text>
<rect x="55.5" y="147.5" width="13.2" height="5" rx="1" fill="none" stroke="#5a7aa6" stroke-width="1"/>
<text x="71.50" y="153.00" font-size="8.2" textLength="14.50" lengthAdjust="spacingAndGlyphs" stroke="#262626" stroke-width="0.12" >DhE</text>
<rect x="93.5" y="147.5" width="13.1" height="5" rx="1" fill="none" stroke="#cc5a78" stroke-width="1"/>
<text x="109.70" y="153.30" font-size="8.2" textLength="30.30" lengthAdjust="spacingAndGlyphs" stroke="#262626" stroke-width="0.12" >non-DhE</text>
<line x1="300.50" y1="146.30" x2="300.50" y2="219.80" stroke="#3a3a3a" stroke-width="1" />
<line x1="297.10" y1="150.50" x2="300.20" y2="150.50" stroke="#3a3a3a" stroke-width="1" />
<text x="294.10" y="152.64" font-size="8.2" text-anchor="end" stroke="#262626" stroke-width="0.12" >100</text>
<line x1="297.10" y1="167.50" x2="300.20" y2="167.50" stroke="#3a3a3a" stroke-width="1" />
<text x="294.10" y="169.94" font-size="8.2" text-anchor="end" stroke="#262626" stroke-width="0.12" >10</text>
<line x1="297.10" y1="184.50" x2="300.20" y2="184.50" stroke="#3a3a3a" stroke-width="1" />
<text x="294.10" y="187.24" font-size="8.2" text-anchor="end" stroke="#262626" stroke-width="0.12" >1</text>
<line x1="297.10" y1="202.50" x2="300.20" y2="202.50" stroke="#3a3a3a" stroke-width="1" />
<text x="294.10" y="204.54" font-size="8.2" text-anchor="end" stroke="#262626" stroke-width="0.12" >0.1</text>
<line x1="297.10" y1="219.50" x2="300.20" y2="219.50" stroke="#3a3a3a" stroke-width="1" />
<text x="294.10" y="221.84" font-size="8.2" text-anchor="end" stroke="#262626" stroke-width="0.12" >0.01</text>
<line x1="299.70" y1="219.50" x2="498.80" y2="219.50" stroke="#3a3a3a" stroke-width="1" />
<line x1="322.50" y1="219.80" x2="322.50" y2="222.60" stroke="#3a3a3a" stroke-width="1" />
<text x="322.70" y="234.20" font-size="8.4" text-anchor="middle" stroke="#262626" stroke-width="0.12" >Bcl-2</text>
<line x1="314.50" y1="151.00" x2="314.50" y2="173.80" stroke="#2b5182" stroke-width="1.0" />
<line x1="314.50" y1="183.80" x2="314.50" y2="185.30" stroke="#2b5182" stroke-width="1.0" />
<line x1="310.95" y1="151.50" x2="318.95" y2="151.50" stroke="#2b5182" stroke-width="1.0" />
<line x1="310.95" y1="185.50" x2="318.95" y2="185.50" stroke="#2b5182" stroke-width="1.0" />
<rect x="307.50" y="173.50" width="15.00" height="10.00" fill="none" stroke="#2b5182" stroke-width="1.0"/>
<line x1="307.50" y1="177.50" x2="322.50" y2="177.50" stroke="#2b5182" stroke-width="1.0" />
<circle cx="315.12" cy="151.00" r="1.3" fill="none" stroke="#2b5182" stroke-width="0.7"/>
<circle cx="313.88" cy="159.49" r="1.3" fill="none" stroke="#2b5182" stroke-width="0.7"/>
<circle cx="316.29" cy="160.50" r="1.3" fill="none" stroke="#2b5182" stroke-width="0.7"/>
<circle cx="315.25" cy="171.55" r="1.3" fill="none" stroke="#2b5182" stroke-width="0.7"/>
<circle cx="310.73" cy="173.96" r="1.3" fill="none" stroke="#2b5182" stroke-width="0.7"/>
<circle cx="313.81" cy="174.81" r="1.3" fill="none" stroke="#2b5182" stroke-width="0.7"/>
<circle cx="316.08" cy="175.20" r="1.3" fill="none" stroke="#2b5182" stroke-width="0.7"/>
<circle cx="319.17" cy="175.83" r="1.3" fill="none" stroke="#2b5182" stroke-width="0.7"/>
<circle cx="311.09" cy="178.20" r="1.3" fill="none" stroke="#2b5182" stroke-width="0.7"/>
<circle cx="313.62" cy="178.40" r="1.3" fill="none" stroke="#2b5182" stroke-width="0.7"/>
<circle cx="316.23" cy="178.72" r="1.3" fill="none" stroke="#2b5182" stroke-width="0.7"/>
<circle cx="319.24" cy="179.21" r="1.3" fill="none" stroke="#2b5182" stroke-width="0.7"/>
<circle cx="309.68" cy="180.22" r="1.3" fill="none" stroke="#2b5182" stroke-width="0.7"/>
<circle cx="312.35" cy="180.53" r="1.3" fill="none" stroke="#2b5182" stroke-width="0.7"/>
<circle cx="314.86" cy="180.66" r="1.3" fill="none" stroke="#2b5182" stroke-width="0.7"/>
<circle cx="317.69" cy="180.69" r="1.3" fill="none" stroke="#2b5182" stroke-width="0.7"/>
<circle cx="320.11" cy="180.81" r="1.3" fill="none" stroke="#2b5182" stroke-width="0.7"/>
<circle cx="309.51" cy="181.29" r="1.3" fill="none" stroke="#2b5182" stroke-width="0.7"/>
<circle cx="313.47" cy="182.33" r="1.3" fill="none" stroke="#2b5182" stroke-width="0.7"/>
<circle cx="316.42" cy="184.20" r="1.3" fill="none" stroke="#2b5182" stroke-width="0.7"/>
<circle cx="313.30" cy="184.37" r="1.3" fill="none" stroke="#2b5182" stroke-width="0.7"/>
<circle cx="316.28" cy="185.30" r="1.3" fill="none" stroke="#2b5182" stroke-width="0.7"/>
<line x1="330.50" y1="177.00" x2="330.50" y2="180.00" stroke="#c0284a" stroke-width="1.0" />
<line x1="330.50" y1="185.70" x2="330.50" y2="189.50" stroke="#c0284a" stroke-width="1.0" />
<line x1="326.45" y1="177.50" x2="334.45" y2="177.50" stroke="#c0284a" stroke-width="1.0" />
<line x1="326.45" y1="189.50" x2="334.45" y2="189.50" stroke="#c0284a" stroke-width="1.0" />
<rect x="322.50" y="180.50" width="15.00" height="5.00" fill="none" stroke="#c0284a" stroke-width="1.0"/>
<line x1="322.50" y1="183.50" x2="337.50" y2="183.50" stroke="#c0284a" stroke-width="1.0" />
<circle cx="327.67" cy="177.00" r="1.3" fill="none" stroke="#c0284a" stroke-width="0.7"/>
<circle cx="330.58" cy="178.42" r="1.3" fill="none" stroke="#c0284a" stroke-width="0.7"/>
<circle cx="333.13" cy="178.73" r="1.3" fill="none" stroke="#c0284a" stroke-width="0.7"/>
<circle cx="325.27" cy="179.50" r="1.3" fill="none" stroke="#c0284a" stroke-width="0.7"/>
<circle cx="327.43" cy="179.55" r="1.3" fill="none" stroke="#c0284a" stroke-width="0.7"/>
<circle cx="330.40" cy="179.68" r="1.3" fill="none" stroke="#c0284a" stroke-width="0.7"/>
<circle cx="333.39" cy="180.80" r="1.3" fill="none" stroke="#c0284a" stroke-width="0.7"/>
<circle cx="336.18" cy="181.03" r="1.3" fill="none" stroke="#c0284a" stroke-width="0.7"/>
<circle cx="324.99" cy="181.23" r="1.3" fill="none" stroke="#c0284a" stroke-width="0.7"/>
<circle cx="327.57" cy="181.37" r="1.3" fill="none" stroke="#c0284a" stroke-width="0.7"/>
<circle cx="330.50" cy="181.61" r="1.3" fill="none" stroke="#c0284a" stroke-width="0.7"/>
<circle cx="333.07" cy="181.86" r="1.3" fill="none" stroke="#c0284a" stroke-width="0.7"/>
<circle cx="336.03" cy="182.72" r="1.3" fill="none" stroke="#c0284a" stroke-width="0.7"/>
<circle cx="324.90" cy="183.07" r="1.3" fill="none" stroke="#c0284a" stroke-width="0.7"/>
<circle cx="324.81" cy="183.28" r="1.3" fill="none" stroke="#c0284a" stroke-width="0.7"/>
<circle cx="327.77" cy="183.33" r="1.3" fill="none" stroke="#c0284a" stroke-width="0.7"/>
<circle cx="330.61" cy="183.67" r="1.3" fill="none" stroke="#c0284a" stroke-width="0.7"/>
<circle cx="333.17" cy="184.30" r="1.3" fill="none" stroke="#c0284a" stroke-width="0.7"/>
<circle cx="335.97" cy="184.93" r="1.3" fill="none" stroke="#c0284a" stroke-width="0.7"/>
<circle cx="325.03" cy="185.09" r="1.3" fill="none" stroke="#c0284a" stroke-width="0.7"/>
<circle cx="330.46" cy="186.41" r="1.3" fill="none" stroke="#c0284a" stroke-width="0.7"/>
<circle cx="330.15" cy="189.50" r="1.3" fill="none" stroke="#c0284a" stroke-width="0.7"/>
<line x1="361.50" y1="219.80" x2="361.50" y2="222.60" stroke="#3a3a3a" stroke-width="1" />
<text x="361.50" y="234.20" font-size="8.4" text-anchor="middle" stroke="#262626" stroke-width="0.12" >c-Myc</text>
<line x1="353.50" y1="174.00" x2="353.50" y2="177.50" stroke="#2b5182" stroke-width="1.0" />
<line x1="353.50" y1="186.00" x2="353.50" y2="190.50" stroke="#2b5182" stroke-width="1.0" />
<line x1="349.75" y1="174.50" x2="357.75" y2="174.50" stroke="#2b5182" stroke-width="1.0" />
<line x1="349.75" y1="190.50" x2="357.75" y2="190.50" stroke="#2b5182" stroke-width="1.0" />
<rect x="346.50" y="177.50" width="15.00" height="9.00" fill="none" stroke="#2b5182" stroke-width="1.0"/>
<line x1="346.50" y1="182.50" x2="361.50" y2="182.50" stroke="#2b5182" stroke-width="1.0" />
<circle cx="349.95" cy="174.00" r="1.3" fill="none" stroke="#2b5182" stroke-width="0.7"/>
<circle cx="352.27" cy="174.79" r="1.3" fill="none" stroke="#2b5182" stroke-width="0.7"/>
<circle cx="355.21" cy="174.81" r="1.3" fill="none" stroke="#2b5182" stroke-width="0.7"/>
<circle cx="357.66" cy="175.69" r="1.3" fill="none" stroke="#2b5182" stroke-width="0.7"/>
<circle cx="352.26" cy="176.87" r="1.3" fill="none" stroke="#2b5182" stroke-width="0.7"/>
<circle cx="355.33" cy="177.89" r="1.3" fill="none" stroke="#2b5182" stroke-width="0.7"/>
<circle cx="348.59" cy="178.59" r="1.3" fill="none" stroke="#2b5182" stroke-width="0.7"/>
<circle cx="350.87" cy="179.00" r="1.3" fill="none" stroke="#2b5182" stroke-width="0.7"/>
<circle cx="353.66" cy="179.18" r="1.3" fill="none" stroke="#2b5182" stroke-width="0.7"/>
<circle cx="356.21" cy="179.38" r="1.3" fill="none" stroke="#2b5182" stroke-width="0.7"/>
<circle cx="359.03" cy="179.66" r="1.3" fill="none" stroke="#2b5182" stroke-width="0.7"/>
<circle cx="352.32" cy="181.70" r="1.3" fill="none" stroke="#2b5182" stroke-width="0.7"/>
<circle cx="355.13" cy="181.99" r="1.3" fill="none" stroke="#2b5182" stroke-width="0.7"/>
<circle cx="353.79" cy="183.58" r="1.3" fill="none" stroke="#2b5182" stroke-width="0.7"/>
<circle cx="348.20" cy="184.73" r="1.3" fill="none" stroke="#2b5182" stroke-width="0.7"/>
<circle cx="350.81" cy="184.78" r="1.3" fill="none" stroke="#2b5182" stroke-width="0.7"/>
<circle cx="353.78" cy="184.82" r="1.3" fill="none" stroke="#2b5182" stroke-width="0.7"/>
<circle cx="356.39" cy="184.89" r="1.3" fill="none" stroke="#2b5182" stroke-width="0.7"/>
<circle cx="359.12" cy="185.74" r="1.3" fill="none" stroke="#2b5182" stroke-width="0.7"/>
<circle cx="354.03" cy="186.56" r="1.3" fill="none" stroke="#2b5182" stroke-width="0.7"/>
<circle cx="352.44" cy="189.91" r="1.3" fill="none" stroke="#2b5182" stroke-width="0.7"/>
<circle cx="354.82" cy="190.50" r="1.3" fill="none" stroke="#2b5182" stroke-width="0.7"/>
<line x1="369.50" y1="173.00" x2="369.50" y2="180.80" stroke="#c0284a" stroke-width="1.0" />
<line x1="369.50" y1="189.40" x2="369.50" y2="193.30" stroke="#c0284a" stroke-width="1.0" />
<line x1="365.25" y1="173.50" x2="373.25" y2="173.50" stroke="#c0284a" stroke-width="1.0" />
<line x1="365.25" y1="193.50" x2="373.25" y2="193.50" stroke="#c0284a" stroke-width="1.0" />
<rect x="361.50" y="180.50" width="15.00" height="9.00" fill="none" stroke="#c0284a" stroke-width="1.0"/>
<line x1="361.50" y1="185.50" x2="376.50" y2="185.50" stroke="#c0284a" stroke-width="1.0" />
<circle cx="369.09" cy="173.00" r="1.3" fill="none" stroke="#c0284a" stroke-width="0.7"/>
<circle cx="366.66" cy="177.41" r="1.3" fill="none" stroke="#c0284a" stroke-width="0.7"/>
<circle cx="368.98" cy="177.52" r="1.3" fill="none" stroke="#c0284a" stroke-width="0.7"/>
<circle cx="372.15" cy="179.17" r="1.3" fill="none" stroke="#c0284a" stroke-width="0.7"/>
<circle cx="367.63" cy="179.25" r="1.3" fill="none" stroke="#c0284a" stroke-width="0.7"/>
<circle cx="370.79" cy="179.95" r="1.3" fill="none" stroke="#c0284a" stroke-width="0.7"/>
<circle cx="363.53" cy="181.62" r="1.3" fill="none" stroke="#c0284a" stroke-width="0.7"/>
<circle cx="366.35" cy="182.34" r="1.3" fill="none" stroke="#c0284a" stroke-width="0.7"/>
<circle cx="369.11" cy="182.54" r="1.3" fill="none" stroke="#c0284a" stroke-width="0.7"/>
<circle cx="371.85" cy="182.63" r="1.3" fill="none" stroke="#c0284a" stroke-width="0.7"/>
<circle cx="374.88" cy="183.05" r="1.3" fill="none" stroke="#c0284a" stroke-width="0.7"/>
<circle cx="369.25" cy="183.69" r="1.3" fill="none" stroke="#c0284a" stroke-width="0.7"/>
<circle cx="366.25" cy="185.92" r="1.3" fill="none" stroke="#c0284a" stroke-width="0.7"/>
<circle cx="369.06" cy="185.96" r="1.3" fill="none" stroke="#c0284a" stroke-width="0.7"/>
<circle cx="371.93" cy="186.25" r="1.3" fill="none" stroke="#c0284a" stroke-width="0.7"/>
<circle cx="363.92" cy="188.01" r="1.3" fill="none" stroke="#c0284a" stroke-width="0.7"/>
<circle cx="366.60" cy="188.04" r="1.3" fill="none" stroke="#c0284a" stroke-width="0.7"/>
<circle cx="369.24" cy="188.28" r="1.3" fill="none" stroke="#c0284a" stroke-width="0.7"/>
<circle cx="372.16" cy="188.93" r="1.3" fill="none" stroke="#c0284a" stroke-width="0.7"/>
<circle cx="374.98" cy="189.33" r="1.3" fill="none" stroke="#c0284a" stroke-width="0.7"/>
<circle cx="369.52" cy="189.86" r="1.3" fill="none" stroke="#c0284a" stroke-width="0.7"/>
<circle cx="369.54" cy="193.30" r="1.3" fill="none" stroke="#c0284a" stroke-width="0.7"/>
<line x1="400.50" y1="219.80" x2="400.50" y2="222.60" stroke="#3a3a3a" stroke-width="1" />
<text x="400.30" y="234.20" font-size="8.4" text-anchor="middle" stroke="#262626" stroke-width="0.12" >pNF&#954;B</text>
<line x1="392.50" y1="177.00" x2="392.50" y2="177.90" stroke="#2b5182" stroke-width="1.0" />
<line x1="392.50" y1="187.50" x2="392.50" y2="189.40" stroke="#2b5182" stroke-width="1.0" />
<line x1="388.55" y1="177.50" x2="396.55" y2="177.50" stroke="#2b5182" stroke-width="1.0" />
<line x1="388.55" y1="189.50" x2="396.55" y2="189.50" stroke="#2b5182" stroke-width="1.0" />
<rect x="385.50" y="177.50" width="15.00" height="10.00" fill="none" stroke="#2b5182" stroke-width="1.0"/>
<line x1="385.50" y1="183.50" x2="400.50" y2="183.50" stroke="#2b5182" stroke-width="1.0" />
<circle cx="387.29" cy="177.00" r="1.3" fill="none" stroke="#2b5182" stroke-width="0.7"/>
<circle cx="389.99" cy="177.36" r="1.3" fill="none" stroke="#2b5182" stroke-width="0.7"/>
<circle cx="392.76" cy="177.38" r="1.3" fill="none" stroke="#2b5182" stroke-width="0.7"/>
<circle cx="395.07" cy="177.39" r="1.3" fill="none" stroke="#2b5182" stroke-width="0.7"/>
<circle cx="398.11" cy="178.72" r="1.3" fill="none" stroke="#2b5182" stroke-width="0.7"/>
<circle cx="388.46" cy="179.17" r="1.3" fill="none" stroke="#2b5182" stroke-width="0.7"/>
<circle cx="391.48" cy="179.54" r="1.3" fill="none" stroke="#2b5182" stroke-width="0.7"/>
<circle cx="394.20" cy="180.72" r="1.3" fill="none" stroke="#2b5182" stroke-width="0.7"/>
<circle cx="396.58" cy="181.09" r="1.3" fill="none" stroke="#2b5182" stroke-width="0.7"/>
<circle cx="390.00" cy="181.52" r="1.3" fill="none" stroke="#2b5182" stroke-width="0.7"/>
<circle cx="392.47" cy="182.12" r="1.3" fill="none" stroke="#2b5182" stroke-width="0.7"/>
<circle cx="395.22" cy="182.20" r="1.3" fill="none" stroke="#2b5182" stroke-width="0.7"/>
<circle cx="391.32" cy="184.37" r="1.3" fill="none" stroke="#2b5182" stroke-width="0.7"/>
<circle cx="394.14" cy="184.91" r="1.3" fill="none" stroke="#2b5182" stroke-width="0.7"/>
<circle cx="388.62" cy="185.65" r="1.3" fill="none" stroke="#2b5182" stroke-width="0.7"/>
<circle cx="391.00" cy="186.56" r="1.3" fill="none" stroke="#2b5182" stroke-width="0.7"/>
<circle cx="393.65" cy="186.79" r="1.3" fill="none" stroke="#2b5182" stroke-width="0.7"/>
<circle cx="396.91" cy="186.97" r="1.3" fill="none" stroke="#2b5182" stroke-width="0.7"/>
<circle cx="388.48" cy="187.64" r="1.3" fill="none" stroke="#2b5182" stroke-width="0.7"/>
<circle cx="391.23" cy="187.85" r="1.3" fill="none" stroke="#2b5182" stroke-width="0.7"/>
<circle cx="394.04" cy="189.14" r="1.3" fill="none" stroke="#2b5182" stroke-width="0.7"/>
<circle cx="396.91" cy="189.40" r="1.3" fill="none" stroke="#2b5182" stroke-width="0.7"/>
<line x1="408.50" y1="180.80" x2="408.50" y2="182.70" stroke="#c0284a" stroke-width="1.0" />
<line x1="408.50" y1="192.30" x2="408.50" y2="194.20" stroke="#c0284a" stroke-width="1.0" />
<line x1="404.05" y1="180.50" x2="412.05" y2="180.50" stroke="#c0284a" stroke-width="1.0" />
<line x1="404.05" y1="194.50" x2="412.05" y2="194.50" stroke="#c0284a" stroke-width="1.0" />
<rect x="400.50" y="182.50" width="15.00" height="10.00" fill="none" stroke="#c0284a" stroke-width="1.0"/>
<line x1="400.50" y1="187.50" x2="415.50" y2="187.50" stroke="#c0284a" stroke-width="1.0" />
<circle cx="402.70" cy="180.80" r="1.3" fill="none" stroke="#c0284a" stroke-width="0.7"/>
<circle cx="405.11" cy="181.73" r="1.3" fill="none" stroke="#c0284a" stroke-width="0.7"/>
<circle cx="408.05" cy="181.77" r="1.3" fill="none" stroke="#c0284a" stroke-width="0.7"/>
<circle cx="410.91" cy="181.91" r="1.3" fill="none" stroke="#c0284a" stroke-width="0.7"/>
<circle cx="413.78" cy="182.70" r="1.3" fill="none" stroke="#c0284a" stroke-width="0.7"/>
<circle cx="407.97" cy="183.61" r="1.3" fill="none" stroke="#c0284a" stroke-width="0.7"/>
<circle cx="406.64" cy="185.92" r="1.3" fill="none" stroke="#c0284a" stroke-width="0.7"/>
<circle cx="409.60" cy="186.20" r="1.3" fill="none" stroke="#c0284a" stroke-width="0.7"/>
<circle cx="403.97" cy="187.47" r="1.3" fill="none" stroke="#c0284a" stroke-width="0.7"/>
<circle cx="406.45" cy="187.81" r="1.3" fill="none" stroke="#c0284a" stroke-width="0.7"/>
<circle cx="409.32" cy="188.51" r="1.3" fill="none" stroke="#c0284a" stroke-width="0.7"/>
<circle cx="411.99" cy="188.71" r="1.3" fill="none" stroke="#c0284a" stroke-width="0.7"/>
<circle cx="405.47" cy="189.54" r="1.3" fill="none" stroke="#c0284a" stroke-width="0.7"/>
<circle cx="408.14" cy="189.66" r="1.3" fill="none" stroke="#c0284a" stroke-width="0.7"/>
<circle cx="410.53" cy="189.78" r="1.3" fill="none" stroke="#c0284a" stroke-width="0.7"/>
<circle cx="403.95" cy="192.04" r="1.3" fill="none" stroke="#c0284a" stroke-width="0.7"/>
<circle cx="406.85" cy="192.31" r="1.3" fill="none" stroke="#c0284a" stroke-width="0.7"/>
<circle cx="409.62" cy="192.69" r="1.3" fill="none" stroke="#c0284a" stroke-width="0.7"/>
<circle cx="412.28" cy="192.91" r="1.3" fill="none" stroke="#c0284a" stroke-width="0.7"/>
<circle cx="405.37" cy="193.28" r="1.3" fill="none" stroke="#c0284a" stroke-width="0.7"/>
<circle cx="408.04" cy="194.17" r="1.3" fill="none" stroke="#c0284a" stroke-width="0.7"/>
<circle cx="411.05" cy="194.20" r="1.3" fill="none" stroke="#c0284a" stroke-width="0.7"/>
<line x1="439.50" y1="219.80" x2="439.50" y2="222.60" stroke="#3a3a3a" stroke-width="1" />
<text x="439.10" y="234.20" font-size="8.4" text-anchor="middle" stroke="#262626" stroke-width="0.12" >Ki67</text>
<line x1="431.50" y1="175.50" x2="431.50" y2="183.30" stroke="#2b5182" stroke-width="1.0" />
<line x1="431.50" y1="195.80" x2="431.50" y2="205.40" stroke="#2b5182" stroke-width="1.0" />
<line x1="427.35" y1="175.50" x2="435.35" y2="175.50" stroke="#2b5182" stroke-width="1.0" />
<line x1="427.35" y1="205.50" x2="435.35" y2="205.50" stroke="#2b5182" stroke-width="1.0" />
<rect x="423.50" y="183.50" width="15.00" height="12.00" fill="none" stroke="#2b5182" stroke-width="1.0"/>
<line x1="423.50" y1="189.50" x2="438.50" y2="189.50" stroke="#2b5182" stroke-width="1.0" />
<circle cx="431.28" cy="175.50" r="1.3" fill="none" stroke="#2b5182" stroke-width="0.7"/>
<circle cx="429.79" cy="182.72" r="1.3" fill="none" stroke="#2b5182" stroke-width="0.7"/>
<circle cx="432.94" cy="183.46" r="1.3" fill="none" stroke="#2b5182" stroke-width="0.7"/>
<circle cx="430.28" cy="184.17" r="1.3" fill="none" stroke="#2b5182" stroke-width="0.7"/>
<circle cx="432.49" cy="184.56" r="1.3" fill="none" stroke="#2b5182" stroke-width="0.7"/>
<circle cx="426.99" cy="186.55" r="1.3" fill="none" stroke="#2b5182" stroke-width="0.7"/>
<circle cx="429.75" cy="187.09" r="1.3" fill="none" stroke="#2b5182" stroke-width="0.7"/>
<circle cx="432.61" cy="187.11" r="1.3" fill="none" stroke="#2b5182" stroke-width="0.7"/>
<circle cx="435.54" cy="187.11" r="1.3" fill="none" stroke="#2b5182" stroke-width="0.7"/>
<circle cx="431.47" cy="189.65" r="1.3" fill="none" stroke="#2b5182" stroke-width="0.7"/>
<circle cx="428.45" cy="191.43" r="1.3" fill="none" stroke="#2b5182" stroke-width="0.7"/>
<circle cx="431.15" cy="191.79" r="1.3" fill="none" stroke="#2b5182" stroke-width="0.7"/>
<circle cx="434.10" cy="191.86" r="1.3" fill="none" stroke="#2b5182" stroke-width="0.7"/>
<circle cx="427.54" cy="192.57" r="1.3" fill="none" stroke="#2b5182" stroke-width="0.7"/>
<circle cx="430.28" cy="192.71" r="1.3" fill="none" stroke="#2b5182" stroke-width="0.7"/>
<circle cx="432.45" cy="193.46" r="1.3" fill="none" stroke="#2b5182" stroke-width="0.7"/>
<circle cx="435.21" cy="193.52" r="1.3" fill="none" stroke="#2b5182" stroke-width="0.7"/>
<circle cx="431.07" cy="196.70" r="1.3" fill="none" stroke="#2b5182" stroke-width="0.7"/>
<circle cx="431.38" cy="199.12" r="1.3" fill="none" stroke="#2b5182" stroke-width="0.7"/>
<circle cx="431.32" cy="202.48" r="1.3" fill="none" stroke="#2b5182" stroke-width="0.7"/>
<circle cx="430.13" cy="205.13" r="1.3" fill="none" stroke="#2b5182" stroke-width="0.7"/>
<circle cx="432.61" cy="205.40" r="1.3" fill="none" stroke="#2b5182" stroke-width="0.7"/>
<line x1="446.50" y1="183.30" x2="446.50" y2="192.30" stroke="#c0284a" stroke-width="1.0" />
<line x1="446.50" y1="201.20" x2="446.50" y2="206.30" stroke="#c0284a" stroke-width="1.0" />
<line x1="442.85" y1="183.50" x2="450.85" y2="183.50" stroke="#c0284a" stroke-width="1.0" />
<line x1="442.85" y1="206.50" x2="450.85" y2="206.50" stroke="#c0284a" stroke-width="1.0" />
<rect x="439.50" y="192.50" width="15.00" height="9.00" fill="none" stroke="#c0284a" stroke-width="1.0"/>
<line x1="439.50" y1="197.50" x2="454.50" y2="197.50" stroke="#c0284a" stroke-width="1.0" />
<circle cx="446.70" cy="183.30" r="1.3" fill="none" stroke="#c0284a" stroke-width="0.7"/>
<circle cx="447.00" cy="185.83" r="1.3" fill="none" stroke="#c0284a" stroke-width="0.7"/>
<circle cx="446.72" cy="189.05" r="1.3" fill="none" stroke="#c0284a" stroke-width="0.7"/>
<circle cx="445.49" cy="190.91" r="1.3" fill="none" stroke="#c0284a" stroke-width="0.7"/>
<circle cx="448.10" cy="191.19" r="1.3" fill="none" stroke="#c0284a" stroke-width="0.7"/>
<circle cx="444.37" cy="192.68" r="1.3" fill="none" stroke="#c0284a" stroke-width="0.7"/>
<circle cx="446.85" cy="193.43" r="1.3" fill="none" stroke="#c0284a" stroke-width="0.7"/>
<circle cx="449.40" cy="193.63" r="1.3" fill="none" stroke="#c0284a" stroke-width="0.7"/>
<circle cx="444.36" cy="193.91" r="1.3" fill="none" stroke="#c0284a" stroke-width="0.7"/>
<circle cx="446.56" cy="195.54" r="1.3" fill="none" stroke="#c0284a" stroke-width="0.7"/>
<circle cx="449.45" cy="195.55" r="1.3" fill="none" stroke="#c0284a" stroke-width="0.7"/>
<circle cx="446.94" cy="195.81" r="1.3" fill="none" stroke="#c0284a" stroke-width="0.7"/>
<circle cx="441.30" cy="197.90" r="1.3" fill="none" stroke="#c0284a" stroke-width="0.7"/>
<circle cx="444.30" cy="198.25" r="1.3" fill="none" stroke="#c0284a" stroke-width="0.7"/>
<circle cx="447.14" cy="198.30" r="1.3" fill="none" stroke="#c0284a" stroke-width="0.7"/>
<circle cx="449.61" cy="198.48" r="1.3" fill="none" stroke="#c0284a" stroke-width="0.7"/>
<circle cx="452.31" cy="199.06" r="1.3" fill="none" stroke="#c0284a" stroke-width="0.7"/>
<circle cx="447.12" cy="200.59" r="1.3" fill="none" stroke="#c0284a" stroke-width="0.7"/>
<circle cx="444.21" cy="202.33" r="1.3" fill="none" stroke="#c0284a" stroke-width="0.7"/>
<circle cx="446.96" cy="202.36" r="1.3" fill="none" stroke="#c0284a" stroke-width="0.7"/>
<circle cx="449.61" cy="202.50" r="1.3" fill="none" stroke="#c0284a" stroke-width="0.7"/>
<circle cx="447.03" cy="206.30" r="1.3" fill="none" stroke="#c0284a" stroke-width="0.7"/>
<line x1="477.50" y1="219.80" x2="477.50" y2="222.60" stroke="#3a3a3a" stroke-width="1" />
<text x="477.90" y="234.20" font-size="8.4" text-anchor="middle" stroke="#262626" stroke-width="0.12" >pS6</text>
<line x1="470.50" y1="169.80" x2="470.50" y2="173.00" stroke="#2b5182" stroke-width="1.0" />
<line x1="470.50" y1="180.80" x2="470.50" y2="193.50" stroke="#2b5182" stroke-width="1.0" />
<line x1="466.15" y1="169.50" x2="474.15" y2="169.50" stroke="#2b5182" stroke-width="1.0" />
<line x1="466.15" y1="193.50" x2="474.15" y2="193.50" stroke="#2b5182" stroke-width="1.0" />
<rect x="462.50" y="173.50" width="15.00" height="7.00" fill="none" stroke="#2b5182" stroke-width="1.0"/>
<line x1="462.50" y1="177.50" x2="477.50" y2="177.50" stroke="#2b5182" stroke-width="1.0" />
<circle cx="469.00" cy="169.80" r="1.3" fill="none" stroke="#2b5182" stroke-width="0.7"/>
<circle cx="471.23" cy="171.54" r="1.3" fill="none" stroke="#2b5182" stroke-width="0.7"/>
<circle cx="466.20" cy="174.18" r="1.3" fill="none" stroke="#2b5182" stroke-width="0.7"/>
<circle cx="468.80" cy="174.76" r="1.3" fill="none" stroke="#2b5182" stroke-width="0.7"/>
<circle cx="471.60" cy="175.69" r="1.3" fill="none" stroke="#2b5182" stroke-width="0.7"/>
<circle cx="474.16" cy="175.95" r="1.3" fill="none" stroke="#2b5182" stroke-width="0.7"/>
<circle cx="469.05" cy="177.30" r="1.3" fill="none" stroke="#2b5182" stroke-width="0.7"/>
<circle cx="471.36" cy="177.41" r="1.3" fill="none" stroke="#2b5182" stroke-width="0.7"/>
<circle cx="464.72" cy="178.38" r="1.3" fill="none" stroke="#2b5182" stroke-width="0.7"/>
<circle cx="467.51" cy="178.68" r="1.3" fill="none" stroke="#2b5182" stroke-width="0.7"/>
<circle cx="470.11" cy="179.09" r="1.3" fill="none" stroke="#2b5182" stroke-width="0.7"/>
<circle cx="472.60" cy="179.22" r="1.3" fill="none" stroke="#2b5182" stroke-width="0.7"/>
<circle cx="475.33" cy="179.38" r="1.3" fill="none" stroke="#2b5182" stroke-width="0.7"/>
<circle cx="464.71" cy="179.46" r="1.3" fill="none" stroke="#2b5182" stroke-width="0.7"/>
<circle cx="467.59" cy="179.52" r="1.3" fill="none" stroke="#2b5182" stroke-width="0.7"/>
<circle cx="469.93" cy="179.71" r="1.3" fill="none" stroke="#2b5182" stroke-width="0.7"/>
<circle cx="467.55" cy="180.41" r="1.3" fill="none" stroke="#2b5182" stroke-width="0.7"/>
<circle cx="469.94" cy="180.55" r="1.3" fill="none" stroke="#2b5182" stroke-width="0.7"/>
<circle cx="472.89" cy="180.78" r="1.3" fill="none" stroke="#2b5182" stroke-width="0.7"/>
<circle cx="468.69" cy="189.24" r="1.3" fill="none" stroke="#2b5182" stroke-width="0.7"/>
<circle cx="471.32" cy="189.94" r="1.3" fill="none" stroke="#2b5182" stroke-width="0.7"/>
<circle cx="470.43" cy="193.50" r="1.3" fill="none" stroke="#2b5182" stroke-width="0.7"/>
<line x1="485.50" y1="168.50" x2="485.50" y2="181.30" stroke="#c0284a" stroke-width="1.0" />
<line x1="485.50" y1="195.80" x2="485.50" y2="196.20" stroke="#c0284a" stroke-width="1.0" />
<line x1="481.65" y1="168.50" x2="489.65" y2="168.50" stroke="#c0284a" stroke-width="1.0" />
<line x1="481.65" y1="196.50" x2="489.65" y2="196.50" stroke="#c0284a" stroke-width="1.0" />
<rect x="478.50" y="181.50" width="15.00" height="14.00" fill="none" stroke="#c0284a" stroke-width="1.0"/>
<line x1="478.50" y1="189.50" x2="493.50" y2="189.50" stroke="#c0284a" stroke-width="1.0" />
<circle cx="484.11" cy="168.50" r="1.3" fill="none" stroke="#c0284a" stroke-width="0.7"/>
<circle cx="487.05" cy="169.81" r="1.3" fill="none" stroke="#c0284a" stroke-width="0.7"/>
<circle cx="485.43" cy="175.44" r="1.3" fill="none" stroke="#c0284a" stroke-width="0.7"/>
<circle cx="484.47" cy="178.46" r="1.3" fill="none" stroke="#c0284a" stroke-width="0.7"/>
<circle cx="486.74" cy="178.72" r="1.3" fill="none" stroke="#c0284a" stroke-width="0.7"/>
<circle cx="482.97" cy="181.64" r="1.3" fill="none" stroke="#c0284a" stroke-width="0.7"/>
<circle cx="485.79" cy="181.90" r="1.3" fill="none" stroke="#c0284a" stroke-width="0.7"/>
<circle cx="488.27" cy="182.29" r="1.3" fill="none" stroke="#c0284a" stroke-width="0.7"/>
<circle cx="482.78" cy="183.13" r="1.3" fill="none" stroke="#c0284a" stroke-width="0.7"/>
<circle cx="485.80" cy="183.25" r="1.3" fill="none" stroke="#c0284a" stroke-width="0.7"/>
<circle cx="488.41" cy="183.95" r="1.3" fill="none" stroke="#c0284a" stroke-width="0.7"/>
<circle cx="482.74" cy="185.28" r="1.3" fill="none" stroke="#c0284a" stroke-width="0.7"/>
<circle cx="485.90" cy="185.95" r="1.3" fill="none" stroke="#c0284a" stroke-width="0.7"/>
<circle cx="488.33" cy="186.99" r="1.3" fill="none" stroke="#c0284a" stroke-width="0.7"/>
<circle cx="485.59" cy="190.72" r="1.3" fill="none" stroke="#c0284a" stroke-width="0.7"/>
<circle cx="482.83" cy="191.63" r="1.3" fill="none" stroke="#c0284a" stroke-width="0.7"/>
<circle cx="485.85" cy="192.11" r="1.3" fill="none" stroke="#c0284a" stroke-width="0.7"/>
<circle cx="488.38" cy="192.39" r="1.3" fill="none" stroke="#c0284a" stroke-width="0.7"/>
<circle cx="481.71" cy="195.91" r="1.3" fill="none" stroke="#c0284a" stroke-width="0.7"/>
<circle cx="484.11" cy="195.93" r="1.3" fill="none" stroke="#c0284a" stroke-width="0.7"/>
<circle cx="486.74" cy="195.94" r="1.3" fill="none" stroke="#c0284a" stroke-width="0.7"/>
<circle cx="489.98" cy="196.20" r="1.3" fill="none" stroke="#c0284a" stroke-width="0.7"/>
<line x1="393.00" y1="173.50" x2="408.30" y2="173.50" stroke="#333" stroke-width="0.8" />
<text x="400.65" y="173.20" font-size="8.6" text-anchor="middle" fill="#1a1a1a" stroke="#1a1a1a" stroke-width="0.12" >****</text>
<line x1="432.00" y1="170.50" x2="447.90" y2="170.50" stroke="#333" stroke-width="0.8" />
<text x="439.95" y="170.60" font-size="8.6" text-anchor="middle" fill="#1a1a1a" stroke="#1a1a1a" stroke-width="0.12" >***</text>
<text x="400.00" y="142.30" font-size="10" text-anchor="middle" stroke="#262626" stroke-width="0.12" >CD163<tspan font-size="7" dx="0.6" dy="-3.8">+</tspan><tspan dy="3.8"> Macrophage</tspan></text>
<text x="273.00" y="183.20" font-size="9.4" text-anchor="middle" textLength="31.50" lengthAdjust="spacingAndGlyphs" transform="rotate(-90 273.00 183.20)" stroke="#262626" stroke-width="0.32" >Expression</text>
<line x1="51.50" y1="261.20" x2="51.50" y2="334.70" stroke="#3a3a3a" stroke-width="1" />
<line x1="48.20" y1="334.50" x2="51.30" y2="334.50" stroke="#3a3a3a" stroke-width="1" />
<text x="45.20" y="336.74" font-size="8.2" text-anchor="end" stroke="#262626" stroke-width="0.12" >0</text>
<line x1="48.20" y1="316.50" x2="51.30" y2="316.50" stroke="#3a3a3a" stroke-width="1" />
<text x="45.20" y="319.44" font-size="8.2" text-anchor="end" stroke="#262626" stroke-width="0.12" >1</text>
<line x1="48.20" y1="299.50" x2="51.30" y2="299.50" stroke="#3a3a3a" stroke-width="1" />
<text x="45.20" y="302.14" font-size="8.2" text-anchor="end" stroke="#262626" stroke-width="0.12" >2</text>
<line x1="48.20" y1="282.50" x2="51.30" y2="282.50" stroke="#3a3a3a" stroke-width="1" />
<text x="45.20" y="284.84" font-size="8.2" text-anchor="end" stroke="#262626" stroke-width="0.12" >3</text>
<line x1="48.20" y1="265.50" x2="51.30" y2="265.50" stroke="#3a3a3a" stroke-width="1" />
<text x="45.20" y="267.54" font-size="8.2" text-anchor="end" stroke="#262626" stroke-width="0.12" >4</text>
<line x1="50.80" y1="334.50" x2="250.40" y2="334.50" stroke="#3a3a3a" stroke-width="1" />
<line x1="73.50" y1="334.40" x2="73.50" y2="337.20" stroke="#3a3a3a" stroke-width="1" />
<text x="73.75" y="348.30" font-size="8.4" text-anchor="middle" stroke="#262626" stroke-width="0.12" >Bcl-2</text>
<line x1="66.50" y1="273.30" x2="66.50" y2="295.80" stroke="#2b5182" stroke-width="1.0" />
<line x1="66.50" y1="315.00" x2="66.50" y2="323.00" stroke="#2b5182" stroke-width="1.0" />
<line x1="62.00" y1="273.50" x2="70.00" y2="273.50" stroke="#2b5182" stroke-width="1.0" />
<line x1="62.00" y1="323.50" x2="70.00" y2="323.50" stroke="#2b5182" stroke-width="1.0" />
<rect x="58.50" y="295.50" width="15.00" height="20.00" fill="none" stroke="#2b5182" stroke-width="1.0"/>
<line x1="58.50" y1="306.50" x2="73.50" y2="306.50" stroke="#2b5182" stroke-width="1.0" />
<circle cx="66.24" cy="273.30" r="1.3" fill="none" stroke="#2b5182" stroke-width="0.7"/>
<circle cx="66.08" cy="288.58" r="1.3" fill="none" stroke="#2b5182" stroke-width="0.7"/>
<circle cx="64.86" cy="292.34" r="1.3" fill="none" stroke="#2b5182" stroke-width="0.7"/>
<circle cx="67.21" cy="293.81" r="1.3" fill="none" stroke="#2b5182" stroke-width="0.7"/>
<circle cx="64.58" cy="298.90" r="1.3" fill="none" stroke="#2b5182" stroke-width="0.7"/>
<circle cx="67.56" cy="299.57" r="1.3" fill="none" stroke="#2b5182" stroke-width="0.7"/>
<circle cx="64.42" cy="300.53" r="1.3" fill="none" stroke="#2b5182" stroke-width="0.7"/>
<circle cx="67.38" cy="302.42" r="1.3" fill="none" stroke="#2b5182" stroke-width="0.7"/>
<circle cx="63.24" cy="302.45" r="1.3" fill="none" stroke="#2b5182" stroke-width="0.7"/>
<circle cx="65.84" cy="302.53" r="1.3" fill="none" stroke="#2b5182" stroke-width="0.7"/>
<circle cx="68.88" cy="302.87" r="1.3" fill="none" stroke="#2b5182" stroke-width="0.7"/>
<circle cx="66.10" cy="305.69" r="1.3" fill="none" stroke="#2b5182" stroke-width="0.7"/>
<circle cx="65.94" cy="307.67" r="1.3" fill="none" stroke="#2b5182" stroke-width="0.7"/>
<circle cx="60.70" cy="311.24" r="1.3" fill="none" stroke="#2b5182" stroke-width="0.7"/>
<circle cx="63.56" cy="311.33" r="1.3" fill="none" stroke="#2b5182" stroke-width="0.7"/>
<circle cx="65.75" cy="311.60" r="1.3" fill="none" stroke="#2b5182" stroke-width="0.7"/>
<circle cx="69.03" cy="312.48" r="1.3" fill="none" stroke="#2b5182" stroke-width="0.7"/>
<circle cx="71.32" cy="312.82" r="1.3" fill="none" stroke="#2b5182" stroke-width="0.7"/>
<circle cx="64.59" cy="313.45" r="1.3" fill="none" stroke="#2b5182" stroke-width="0.7"/>
<circle cx="67.19" cy="314.18" r="1.3" fill="none" stroke="#2b5182" stroke-width="0.7"/>
<circle cx="65.73" cy="320.85" r="1.3" fill="none" stroke="#2b5182" stroke-width="0.7"/>
<circle cx="66.04" cy="323.00" r="1.3" fill="none" stroke="#2b5182" stroke-width="0.7"/>
<line x1="81.50" y1="305.80" x2="81.50" y2="314.00" stroke="#c0284a" stroke-width="1.0" />
<line x1="81.50" y1="326.50" x2="81.50" y2="328.00" stroke="#c0284a" stroke-width="1.0" />
<line x1="77.50" y1="305.50" x2="85.50" y2="305.50" stroke="#c0284a" stroke-width="1.0" />
<line x1="77.50" y1="328.50" x2="85.50" y2="328.50" stroke="#c0284a" stroke-width="1.0" />
<rect x="74.50" y="314.50" width="15.00" height="12.00" fill="none" stroke="#c0284a" stroke-width="1.0"/>
<line x1="74.50" y1="320.50" x2="89.50" y2="320.50" stroke="#c0284a" stroke-width="1.0" />
<circle cx="79.89" cy="305.80" r="1.3" fill="none" stroke="#c0284a" stroke-width="0.7"/>
<circle cx="82.84" cy="307.13" r="1.3" fill="none" stroke="#c0284a" stroke-width="0.7"/>
<circle cx="80.01" cy="310.64" r="1.3" fill="none" stroke="#c0284a" stroke-width="0.7"/>
<circle cx="83.12" cy="310.69" r="1.3" fill="none" stroke="#c0284a" stroke-width="0.7"/>
<circle cx="81.43" cy="313.87" r="1.3" fill="none" stroke="#c0284a" stroke-width="0.7"/>
<circle cx="79.90" cy="314.30" r="1.3" fill="none" stroke="#c0284a" stroke-width="0.7"/>
<circle cx="82.57" cy="316.06" r="1.3" fill="none" stroke="#c0284a" stroke-width="0.7"/>
<circle cx="80.26" cy="319.58" r="1.3" fill="none" stroke="#c0284a" stroke-width="0.7"/>
<circle cx="82.63" cy="319.74" r="1.3" fill="none" stroke="#c0284a" stroke-width="0.7"/>
<circle cx="81.77" cy="322.35" r="1.3" fill="none" stroke="#c0284a" stroke-width="0.7"/>
<circle cx="78.92" cy="323.22" r="1.3" fill="none" stroke="#c0284a" stroke-width="0.7"/>
<circle cx="81.54" cy="323.99" r="1.3" fill="none" stroke="#c0284a" stroke-width="0.7"/>
<circle cx="84.27" cy="324.22" r="1.3" fill="none" stroke="#c0284a" stroke-width="0.7"/>
<circle cx="75.91" cy="324.72" r="1.3" fill="none" stroke="#c0284a" stroke-width="0.7"/>
<circle cx="79.01" cy="325.76" r="1.3" fill="none" stroke="#c0284a" stroke-width="0.7"/>
<circle cx="81.39" cy="325.88" r="1.3" fill="none" stroke="#c0284a" stroke-width="0.7"/>
<circle cx="84.02" cy="325.94" r="1.3" fill="none" stroke="#c0284a" stroke-width="0.7"/>
<circle cx="87.01" cy="326.02" r="1.3" fill="none" stroke="#c0284a" stroke-width="0.7"/>
<circle cx="76.26" cy="326.06" r="1.3" fill="none" stroke="#c0284a" stroke-width="0.7"/>
<circle cx="79.05" cy="326.14" r="1.3" fill="none" stroke="#c0284a" stroke-width="0.7"/>
<circle cx="80.06" cy="327.74" r="1.3" fill="none" stroke="#c0284a" stroke-width="0.7"/>
<circle cx="82.71" cy="328.00" r="1.3" fill="none" stroke="#c0284a" stroke-width="0.7"/>
<line x1="112.50" y1="334.40" x2="112.50" y2="337.20" stroke="#3a3a3a" stroke-width="1" />
<text x="112.50" y="348.30" font-size="8.4" text-anchor="middle" stroke="#262626" stroke-width="0.12" >c-Myc</text>
<line x1="104.50" y1="293.80" x2="104.50" y2="313.80" stroke="#2b5182" stroke-width="1.0" />
<line x1="104.50" y1="324.00" x2="104.50" y2="326.50" stroke="#2b5182" stroke-width="1.0" />
<line x1="100.75" y1="293.50" x2="108.75" y2="293.50" stroke="#2b5182" stroke-width="1.0" />
<line x1="100.75" y1="326.50" x2="108.75" y2="326.50" stroke="#2b5182" stroke-width="1.0" />
<rect x="97.50" y="313.50" width="15.00" height="11.00" fill="none" stroke="#2b5182" stroke-width="1.0"/>
<line x1="97.50" y1="318.50" x2="112.50" y2="318.50" stroke="#2b5182" stroke-width="1.0" />
<circle cx="104.46" cy="293.80" r="1.3" fill="none" stroke="#2b5182" stroke-width="0.7"/>
<circle cx="104.73" cy="300.51" r="1.3" fill="none" stroke="#2b5182" stroke-width="0.7"/>
<circle cx="105.02" cy="303.40" r="1.3" fill="none" stroke="#2b5182" stroke-width="0.7"/>
<circle cx="104.76" cy="306.10" r="1.3" fill="none" stroke="#2b5182" stroke-width="0.7"/>
<circle cx="104.88" cy="312.17" r="1.3" fill="none" stroke="#2b5182" stroke-width="0.7"/>
<circle cx="103.18" cy="314.09" r="1.3" fill="none" stroke="#2b5182" stroke-width="0.7"/>
<circle cx="105.85" cy="314.18" r="1.3" fill="none" stroke="#2b5182" stroke-width="0.7"/>
<circle cx="101.85" cy="315.10" r="1.3" fill="none" stroke="#2b5182" stroke-width="0.7"/>
<circle cx="105.02" cy="316.26" r="1.3" fill="none" stroke="#2b5182" stroke-width="0.7"/>
<circle cx="107.60" cy="316.33" r="1.3" fill="none" stroke="#2b5182" stroke-width="0.7"/>
<circle cx="105.01" cy="318.64" r="1.3" fill="none" stroke="#2b5182" stroke-width="0.7"/>
<circle cx="103.55" cy="318.94" r="1.3" fill="none" stroke="#2b5182" stroke-width="0.7"/>
<circle cx="105.97" cy="320.49" r="1.3" fill="none" stroke="#2b5182" stroke-width="0.7"/>
<circle cx="103.20" cy="322.54" r="1.3" fill="none" stroke="#2b5182" stroke-width="0.7"/>
<circle cx="106.18" cy="322.60" r="1.3" fill="none" stroke="#2b5182" stroke-width="0.7"/>
<circle cx="100.44" cy="323.42" r="1.3" fill="none" stroke="#2b5182" stroke-width="0.7"/>
<circle cx="103.38" cy="324.28" r="1.3" fill="none" stroke="#2b5182" stroke-width="0.7"/>
<circle cx="106.14" cy="324.73" r="1.3" fill="none" stroke="#2b5182" stroke-width="0.7"/>
<circle cx="108.70" cy="324.94" r="1.3" fill="none" stroke="#2b5182" stroke-width="0.7"/>
<circle cx="102.30" cy="325.35" r="1.3" fill="none" stroke="#2b5182" stroke-width="0.7"/>
<circle cx="104.49" cy="325.70" r="1.3" fill="none" stroke="#2b5182" stroke-width="0.7"/>
<circle cx="107.73" cy="326.50" r="1.3" fill="none" stroke="#2b5182" stroke-width="0.7"/>
<line x1="120.50" y1="299.60" x2="120.50" y2="315.00" stroke="#c0284a" stroke-width="1.0" />
<line x1="120.50" y1="329.80" x2="120.50" y2="330.80" stroke="#c0284a" stroke-width="1.0" />
<line x1="116.25" y1="299.50" x2="124.25" y2="299.50" stroke="#c0284a" stroke-width="1.0" />
<line x1="116.25" y1="330.50" x2="124.25" y2="330.50" stroke="#c0284a" stroke-width="1.0" />
<rect x="112.50" y="315.50" width="15.00" height="14.00" fill="none" stroke="#c0284a" stroke-width="1.0"/>
<line x1="112.50" y1="322.50" x2="127.50" y2="322.50" stroke="#c0284a" stroke-width="1.0" />
<circle cx="120.44" cy="299.60" r="1.3" fill="none" stroke="#c0284a" stroke-width="0.7"/>
<circle cx="120.36" cy="307.95" r="1.3" fill="none" stroke="#c0284a" stroke-width="0.7"/>
<circle cx="118.66" cy="312.31" r="1.3" fill="none" stroke="#c0284a" stroke-width="0.7"/>
<circle cx="121.82" cy="313.74" r="1.3" fill="none" stroke="#c0284a" stroke-width="0.7"/>
<circle cx="118.80" cy="316.80" r="1.3" fill="none" stroke="#c0284a" stroke-width="0.7"/>
<circle cx="121.70" cy="317.32" r="1.3" fill="none" stroke="#c0284a" stroke-width="0.7"/>
<circle cx="120.49" cy="319.15" r="1.3" fill="none" stroke="#c0284a" stroke-width="0.7"/>
<circle cx="118.88" cy="320.89" r="1.3" fill="none" stroke="#c0284a" stroke-width="0.7"/>
<circle cx="121.48" cy="322.29" r="1.3" fill="none" stroke="#c0284a" stroke-width="0.7"/>
<circle cx="120.28" cy="325.15" r="1.3" fill="none" stroke="#c0284a" stroke-width="0.7"/>
<circle cx="119.11" cy="326.69" r="1.3" fill="none" stroke="#c0284a" stroke-width="0.7"/>
<circle cx="121.82" cy="326.78" r="1.3" fill="none" stroke="#c0284a" stroke-width="0.7"/>
<circle cx="115.09" cy="329.19" r="1.3" fill="none" stroke="#c0284a" stroke-width="0.7"/>
<circle cx="117.76" cy="329.34" r="1.3" fill="none" stroke="#c0284a" stroke-width="0.7"/>
<circle cx="120.43" cy="329.72" r="1.3" fill="none" stroke="#c0284a" stroke-width="0.7"/>
<circle cx="122.97" cy="330.03" r="1.3" fill="none" stroke="#c0284a" stroke-width="0.7"/>
<circle cx="125.52" cy="330.06" r="1.3" fill="none" stroke="#c0284a" stroke-width="0.7"/>
<circle cx="115.05" cy="330.53" r="1.3" fill="none" stroke="#c0284a" stroke-width="0.7"/>
<circle cx="117.24" cy="330.56" r="1.3" fill="none" stroke="#c0284a" stroke-width="0.7"/>
<circle cx="120.52" cy="330.62" r="1.3" fill="none" stroke="#c0284a" stroke-width="0.7"/>
<circle cx="123.06" cy="330.68" r="1.3" fill="none" stroke="#c0284a" stroke-width="0.7"/>
<circle cx="125.55" cy="330.80" r="1.3" fill="none" stroke="#c0284a" stroke-width="0.7"/>
<line x1="151.50" y1="334.40" x2="151.50" y2="337.20" stroke="#3a3a3a" stroke-width="1" />
<text x="151.25" y="348.30" font-size="8.4" text-anchor="middle" stroke="#262626" stroke-width="0.12" >pNF&#954;B</text>
<line x1="143.50" y1="302.30" x2="143.50" y2="309.60" stroke="#2b5182" stroke-width="1.0" />
<line x1="143.50" y1="324.00" x2="143.50" y2="328.50" stroke="#2b5182" stroke-width="1.0" />
<line x1="139.50" y1="302.50" x2="147.50" y2="302.50" stroke="#2b5182" stroke-width="1.0" />
<line x1="139.50" y1="328.50" x2="147.50" y2="328.50" stroke="#2b5182" stroke-width="1.0" />
<rect x="136.50" y="309.50" width="15.00" height="15.00" fill="none" stroke="#2b5182" stroke-width="1.0"/>
<line x1="136.50" y1="317.50" x2="151.50" y2="317.50" stroke="#2b5182" stroke-width="1.0" />
<circle cx="143.23" cy="302.30" r="1.3" fill="none" stroke="#2b5182" stroke-width="0.7"/>
<circle cx="143.42" cy="304.84" r="1.3" fill="none" stroke="#2b5182" stroke-width="0.7"/>
<circle cx="141.98" cy="311.06" r="1.3" fill="none" stroke="#2b5182" stroke-width="0.7"/>
<circle cx="145.10" cy="312.28" r="1.3" fill="none" stroke="#2b5182" stroke-width="0.7"/>
<circle cx="140.96" cy="313.77" r="1.3" fill="none" stroke="#2b5182" stroke-width="0.7"/>
<circle cx="143.66" cy="313.80" r="1.3" fill="none" stroke="#2b5182" stroke-width="0.7"/>
<circle cx="146.10" cy="314.17" r="1.3" fill="none" stroke="#2b5182" stroke-width="0.7"/>
<circle cx="143.27" cy="315.75" r="1.3" fill="none" stroke="#2b5182" stroke-width="0.7"/>
<circle cx="142.38" cy="317.74" r="1.3" fill="none" stroke="#2b5182" stroke-width="0.7"/>
<circle cx="144.70" cy="318.01" r="1.3" fill="none" stroke="#2b5182" stroke-width="0.7"/>
<circle cx="137.87" cy="319.23" r="1.3" fill="none" stroke="#2b5182" stroke-width="0.7"/>
<circle cx="140.52" cy="320.18" r="1.3" fill="none" stroke="#2b5182" stroke-width="0.7"/>
<circle cx="143.69" cy="320.48" r="1.3" fill="none" stroke="#2b5182" stroke-width="0.7"/>
<circle cx="146.20" cy="320.61" r="1.3" fill="none" stroke="#2b5182" stroke-width="0.7"/>
<circle cx="148.77" cy="320.98" r="1.3" fill="none" stroke="#2b5182" stroke-width="0.7"/>
<circle cx="143.21" cy="322.18" r="1.3" fill="none" stroke="#2b5182" stroke-width="0.7"/>
<circle cx="140.74" cy="323.97" r="1.3" fill="none" stroke="#2b5182" stroke-width="0.7"/>
<circle cx="143.22" cy="324.01" r="1.3" fill="none" stroke="#2b5182" stroke-width="0.7"/>
<circle cx="145.93" cy="324.39" r="1.3" fill="none" stroke="#2b5182" stroke-width="0.7"/>
<circle cx="143.49" cy="326.03" r="1.3" fill="none" stroke="#2b5182" stroke-width="0.7"/>
<circle cx="142.17" cy="328.26" r="1.3" fill="none" stroke="#2b5182" stroke-width="0.7"/>
<circle cx="144.89" cy="328.50" r="1.3" fill="none" stroke="#2b5182" stroke-width="0.7"/>
<line x1="159.50" y1="317.00" x2="159.50" y2="323.60" stroke="#c0284a" stroke-width="1.0" />
<line x1="159.50" y1="330.80" x2="159.50" y2="332.00" stroke="#c0284a" stroke-width="1.0" />
<line x1="155.00" y1="317.50" x2="163.00" y2="317.50" stroke="#c0284a" stroke-width="1.0" />
<line x1="155.00" y1="332.50" x2="163.00" y2="332.50" stroke="#c0284a" stroke-width="1.0" />
<rect x="151.50" y="323.50" width="15.00" height="7.00" fill="none" stroke="#c0284a" stroke-width="1.0"/>
<line x1="151.50" y1="327.50" x2="166.50" y2="327.50" stroke="#c0284a" stroke-width="1.0" />
<circle cx="157.79" cy="317.00" r="1.3" fill="none" stroke="#c0284a" stroke-width="0.7"/>
<circle cx="160.15" cy="318.94" r="1.3" fill="none" stroke="#c0284a" stroke-width="0.7"/>
<circle cx="159.25" cy="319.93" r="1.3" fill="none" stroke="#c0284a" stroke-width="0.7"/>
<circle cx="158.75" cy="323.05" r="1.3" fill="none" stroke="#c0284a" stroke-width="0.7"/>
<circle cx="156.45" cy="324.66" r="1.3" fill="none" stroke="#c0284a" stroke-width="0.7"/>
<circle cx="159.02" cy="324.93" r="1.3" fill="none" stroke="#c0284a" stroke-width="0.7"/>
<circle cx="161.52" cy="325.31" r="1.3" fill="none" stroke="#c0284a" stroke-width="0.7"/>
<circle cx="157.50" cy="325.64" r="1.3" fill="none" stroke="#c0284a" stroke-width="0.7"/>
<circle cx="160.65" cy="327.18" r="1.3" fill="none" stroke="#c0284a" stroke-width="0.7"/>
<circle cx="153.64" cy="327.42" r="1.3" fill="none" stroke="#c0284a" stroke-width="0.7"/>
<circle cx="156.33" cy="327.48" r="1.3" fill="none" stroke="#c0284a" stroke-width="0.7"/>
<circle cx="159.12" cy="327.68" r="1.3" fill="none" stroke="#c0284a" stroke-width="0.7"/>
<circle cx="161.53" cy="328.21" r="1.3" fill="none" stroke="#c0284a" stroke-width="0.7"/>
<circle cx="164.48" cy="328.31" r="1.3" fill="none" stroke="#c0284a" stroke-width="0.7"/>
<circle cx="153.77" cy="328.59" r="1.3" fill="none" stroke="#c0284a" stroke-width="0.7"/>
<circle cx="156.15" cy="329.19" r="1.3" fill="none" stroke="#c0284a" stroke-width="0.7"/>
<circle cx="156.24" cy="330.25" r="1.3" fill="none" stroke="#c0284a" stroke-width="0.7"/>
<circle cx="159.30" cy="331.22" r="1.3" fill="none" stroke="#c0284a" stroke-width="0.7"/>
<circle cx="161.98" cy="331.39" r="1.3" fill="none" stroke="#c0284a" stroke-width="0.7"/>
<circle cx="156.15" cy="331.62" r="1.3" fill="none" stroke="#c0284a" stroke-width="0.7"/>
<circle cx="159.26" cy="331.86" r="1.3" fill="none" stroke="#c0284a" stroke-width="0.7"/>
<circle cx="161.43" cy="332.00" r="1.3" fill="none" stroke="#c0284a" stroke-width="0.7"/>
<line x1="190.50" y1="334.40" x2="190.50" y2="337.20" stroke="#3a3a3a" stroke-width="1" />
<text x="190.00" y="348.30" font-size="8.4" text-anchor="middle" stroke="#262626" stroke-width="0.12" >Ki67</text>
<line x1="182.50" y1="316.50" x2="182.50" y2="324.60" stroke="#2b5182" stroke-width="1.0" />
<line x1="182.50" y1="332.00" x2="182.50" y2="334.00" stroke="#2b5182" stroke-width="1.0" />
<line x1="178.25" y1="316.50" x2="186.25" y2="316.50" stroke="#2b5182" stroke-width="1.0" />
<line x1="178.25" y1="334.50" x2="186.25" y2="334.50" stroke="#2b5182" stroke-width="1.0" />
<rect x="174.50" y="324.50" width="15.00" height="8.00" fill="none" stroke="#2b5182" stroke-width="1.0"/>
<line x1="174.50" y1="328.50" x2="189.50" y2="328.50" stroke="#2b5182" stroke-width="1.0" />
<circle cx="180.91" cy="316.50" r="1.3" fill="none" stroke="#2b5182" stroke-width="0.7"/>
<circle cx="183.35" cy="318.31" r="1.3" fill="none" stroke="#2b5182" stroke-width="0.7"/>
<circle cx="180.89" cy="321.09" r="1.3" fill="none" stroke="#2b5182" stroke-width="0.7"/>
<circle cx="183.43" cy="322.52" r="1.3" fill="none" stroke="#2b5182" stroke-width="0.7"/>
<circle cx="181.97" cy="324.66" r="1.3" fill="none" stroke="#2b5182" stroke-width="0.7"/>
<circle cx="180.75" cy="327.56" r="1.3" fill="none" stroke="#2b5182" stroke-width="0.7"/>
<circle cx="183.66" cy="328.48" r="1.3" fill="none" stroke="#2b5182" stroke-width="0.7"/>
<circle cx="177.00" cy="329.05" r="1.3" fill="none" stroke="#2b5182" stroke-width="0.7"/>
<circle cx="179.32" cy="329.46" r="1.3" fill="none" stroke="#2b5182" stroke-width="0.7"/>
<circle cx="182.18" cy="329.59" r="1.3" fill="none" stroke="#2b5182" stroke-width="0.7"/>
<circle cx="185.11" cy="329.96" r="1.3" fill="none" stroke="#2b5182" stroke-width="0.7"/>
<circle cx="187.52" cy="330.25" r="1.3" fill="none" stroke="#2b5182" stroke-width="0.7"/>
<circle cx="177.03" cy="330.54" r="1.3" fill="none" stroke="#2b5182" stroke-width="0.7"/>
<circle cx="179.53" cy="330.69" r="1.3" fill="none" stroke="#2b5182" stroke-width="0.7"/>
<circle cx="176.89" cy="331.12" r="1.3" fill="none" stroke="#2b5182" stroke-width="0.7"/>
<circle cx="179.24" cy="332.11" r="1.3" fill="none" stroke="#2b5182" stroke-width="0.7"/>
<circle cx="182.27" cy="332.12" r="1.3" fill="none" stroke="#2b5182" stroke-width="0.7"/>
<circle cx="184.81" cy="332.15" r="1.3" fill="none" stroke="#2b5182" stroke-width="0.7"/>
<circle cx="187.50" cy="332.83" r="1.3" fill="none" stroke="#2b5182" stroke-width="0.7"/>
<circle cx="176.79" cy="333.08" r="1.3" fill="none" stroke="#2b5182" stroke-width="0.7"/>
<circle cx="181.07" cy="333.15" r="1.3" fill="none" stroke="#2b5182" stroke-width="0.7"/>
<circle cx="183.39" cy="334.00" r="1.3" fill="none" stroke="#2b5182" stroke-width="0.7"/>
<line x1="197.50" y1="324.60" x2="197.50" y2="329.40" stroke="#c0284a" stroke-width="1.0" />
<line x1="197.50" y1="334.50" x2="197.50" y2="334.50" stroke="#c0284a" stroke-width="1.0" />
<line x1="193.75" y1="324.50" x2="201.75" y2="324.50" stroke="#c0284a" stroke-width="1.0" />
<line x1="193.75" y1="334.50" x2="201.75" y2="334.50" stroke="#c0284a" stroke-width="1.0" />
<rect x="190.50" y="329.50" width="15.00" height="5.00" fill="none" stroke="#c0284a" stroke-width="1.0"/>
<line x1="190.50" y1="332.50" x2="205.50" y2="332.50" stroke="#c0284a" stroke-width="1.0" />
<circle cx="194.89" cy="324.60" r="1.3" fill="none" stroke="#c0284a" stroke-width="0.7"/>
<circle cx="197.62" cy="326.59" r="1.3" fill="none" stroke="#c0284a" stroke-width="0.7"/>
<circle cx="200.73" cy="326.65" r="1.3" fill="none" stroke="#c0284a" stroke-width="0.7"/>
<circle cx="197.89" cy="328.18" r="1.3" fill="none" stroke="#c0284a" stroke-width="0.7"/>
<circle cx="192.24" cy="328.84" r="1.3" fill="none" stroke="#c0284a" stroke-width="0.7"/>
<circle cx="194.89" cy="329.01" r="1.3" fill="none" stroke="#c0284a" stroke-width="0.7"/>
<circle cx="197.49" cy="329.40" r="1.3" fill="none" stroke="#c0284a" stroke-width="0.7"/>
<circle cx="200.61" cy="329.49" r="1.3" fill="none" stroke="#c0284a" stroke-width="0.7"/>
<circle cx="203.06" cy="329.53" r="1.3" fill="none" stroke="#c0284a" stroke-width="0.7"/>
<circle cx="192.37" cy="330.39" r="1.3" fill="none" stroke="#c0284a" stroke-width="0.7"/>
<circle cx="195.05" cy="330.55" r="1.3" fill="none" stroke="#c0284a" stroke-width="0.7"/>
<circle cx="197.78" cy="330.78" r="1.3" fill="none" stroke="#c0284a" stroke-width="0.7"/>
<circle cx="192.57" cy="330.99" r="1.3" fill="none" stroke="#c0284a" stroke-width="0.7"/>
<circle cx="194.75" cy="331.03" r="1.3" fill="none" stroke="#c0284a" stroke-width="0.7"/>
<circle cx="197.55" cy="331.22" r="1.3" fill="none" stroke="#c0284a" stroke-width="0.7"/>
<circle cx="200.55" cy="332.28" r="1.3" fill="none" stroke="#c0284a" stroke-width="0.7"/>
<circle cx="202.91" cy="332.87" r="1.3" fill="none" stroke="#c0284a" stroke-width="0.7"/>
<circle cx="192.53" cy="333.28" r="1.3" fill="none" stroke="#c0284a" stroke-width="0.7"/>
<circle cx="194.78" cy="334.00" r="1.3" fill="none" stroke="#c0284a" stroke-width="0.7"/>
<circle cx="198.04" cy="334.00" r="1.3" fill="none" stroke="#c0284a" stroke-width="0.7"/>
<circle cx="200.63" cy="334.00" r="1.3" fill="none" stroke="#c0284a" stroke-width="0.7"/>
<circle cx="203.40" cy="334.00" r="1.3" fill="none" stroke="#c0284a" stroke-width="0.7"/>
<line x1="228.50" y1="334.40" x2="228.50" y2="337.20" stroke="#3a3a3a" stroke-width="1" />
<text x="228.75" y="348.30" font-size="8.4" text-anchor="middle" stroke="#262626" stroke-width="0.12" >pS6</text>
<line x1="221.50" y1="288.00" x2="221.50" y2="304.40" stroke="#2b5182" stroke-width="1.0" />
<line x1="221.50" y1="321.70" x2="221.50" y2="332.00" stroke="#2b5182" stroke-width="1.0" />
<line x1="217.00" y1="288.50" x2="225.00" y2="288.50" stroke="#2b5182" stroke-width="1.0" />
<line x1="217.00" y1="332.50" x2="225.00" y2="332.50" stroke="#2b5182" stroke-width="1.0" />
<rect x="213.50" y="304.50" width="15.00" height="17.00" fill="none" stroke="#2b5182" stroke-width="1.0"/>
<line x1="213.50" y1="312.50" x2="228.50" y2="312.50" stroke="#2b5182" stroke-width="1.0" />
<circle cx="221.21" cy="288.00" r="1.3" fill="none" stroke="#2b5182" stroke-width="0.7"/>
<circle cx="220.85" cy="299.72" r="1.3" fill="none" stroke="#2b5182" stroke-width="0.7"/>
<circle cx="219.43" cy="305.35" r="1.3" fill="none" stroke="#2b5182" stroke-width="0.7"/>
<circle cx="222.59" cy="305.84" r="1.3" fill="none" stroke="#2b5182" stroke-width="0.7"/>
<circle cx="221.17" cy="308.73" r="1.3" fill="none" stroke="#2b5182" stroke-width="0.7"/>
<circle cx="218.10" cy="308.91" r="1.3" fill="none" stroke="#2b5182" stroke-width="0.7"/>
<circle cx="221.01" cy="309.16" r="1.3" fill="none" stroke="#2b5182" stroke-width="0.7"/>
<circle cx="223.50" cy="310.20" r="1.3" fill="none" stroke="#2b5182" stroke-width="0.7"/>
<circle cx="219.75" cy="311.62" r="1.3" fill="none" stroke="#2b5182" stroke-width="0.7"/>
<circle cx="222.35" cy="311.94" r="1.3" fill="none" stroke="#2b5182" stroke-width="0.7"/>
<circle cx="219.40" cy="314.09" r="1.3" fill="none" stroke="#2b5182" stroke-width="0.7"/>
<circle cx="222.65" cy="314.12" r="1.3" fill="none" stroke="#2b5182" stroke-width="0.7"/>
<circle cx="219.74" cy="315.24" r="1.3" fill="none" stroke="#2b5182" stroke-width="0.7"/>
<circle cx="222.65" cy="316.60" r="1.3" fill="none" stroke="#2b5182" stroke-width="0.7"/>
<circle cx="219.52" cy="317.59" r="1.3" fill="none" stroke="#2b5182" stroke-width="0.7"/>
<circle cx="222.62" cy="318.27" r="1.3" fill="none" stroke="#2b5182" stroke-width="0.7"/>
<circle cx="219.71" cy="320.73" r="1.3" fill="none" stroke="#2b5182" stroke-width="0.7"/>
<circle cx="222.22" cy="321.13" r="1.3" fill="none" stroke="#2b5182" stroke-width="0.7"/>
<circle cx="219.68" cy="326.14" r="1.3" fill="none" stroke="#2b5182" stroke-width="0.7"/>
<circle cx="222.45" cy="326.52" r="1.3" fill="none" stroke="#2b5182" stroke-width="0.7"/>
<circle cx="220.75" cy="331.09" r="1.3" fill="none" stroke="#2b5182" stroke-width="0.7"/>
<circle cx="221.18" cy="332.00" r="1.3" fill="none" stroke="#2b5182" stroke-width="0.7"/>
<line x1="236.50" y1="284.60" x2="236.50" y2="323.70" stroke="#c0284a" stroke-width="1.0" />
<line x1="236.50" y1="333.00" x2="236.50" y2="333.50" stroke="#c0284a" stroke-width="1.0" />
<line x1="232.50" y1="284.50" x2="240.50" y2="284.50" stroke="#c0284a" stroke-width="1.0" />
<line x1="232.50" y1="333.50" x2="240.50" y2="333.50" stroke="#c0284a" stroke-width="1.0" />
<rect x="229.50" y="323.50" width="15.00" height="10.00" fill="none" stroke="#c0284a" stroke-width="1.0"/>
<line x1="229.50" y1="329.50" x2="244.50" y2="329.50" stroke="#c0284a" stroke-width="1.0" />
<circle cx="236.64" cy="284.60" r="1.3" fill="none" stroke="#c0284a" stroke-width="0.7"/>
<circle cx="236.69" cy="302.96" r="1.3" fill="none" stroke="#c0284a" stroke-width="0.7"/>
<circle cx="235.13" cy="313.12" r="1.3" fill="none" stroke="#c0284a" stroke-width="0.7"/>
<circle cx="237.90" cy="313.41" r="1.3" fill="none" stroke="#c0284a" stroke-width="0.7"/>
<circle cx="235.40" cy="323.70" r="1.3" fill="none" stroke="#c0284a" stroke-width="0.7"/>
<circle cx="237.61" cy="323.73" r="1.3" fill="none" stroke="#c0284a" stroke-width="0.7"/>
<circle cx="232.12" cy="324.30" r="1.3" fill="none" stroke="#c0284a" stroke-width="0.7"/>
<circle cx="235.04" cy="324.51" r="1.3" fill="none" stroke="#c0284a" stroke-width="0.7"/>
<circle cx="237.90" cy="324.80" r="1.3" fill="none" stroke="#c0284a" stroke-width="0.7"/>
<circle cx="240.63" cy="325.19" r="1.3" fill="none" stroke="#c0284a" stroke-width="0.7"/>
<circle cx="236.26" cy="326.65" r="1.3" fill="none" stroke="#c0284a" stroke-width="0.7"/>
<circle cx="234.87" cy="328.60" r="1.3" fill="none" stroke="#c0284a" stroke-width="0.7"/>
<circle cx="238.11" cy="329.42" r="1.3" fill="none" stroke="#c0284a" stroke-width="0.7"/>
<circle cx="231.22" cy="330.47" r="1.3" fill="none" stroke="#c0284a" stroke-width="0.7"/>
<circle cx="233.61" cy="330.85" r="1.3" fill="none" stroke="#c0284a" stroke-width="0.7"/>
<circle cx="236.29" cy="331.00" r="1.3" fill="none" stroke="#c0284a" stroke-width="0.7"/>
<circle cx="239.33" cy="331.19" r="1.3" fill="none" stroke="#c0284a" stroke-width="0.7"/>
<circle cx="241.85" cy="332.03" r="1.3" fill="none" stroke="#c0284a" stroke-width="0.7"/>
<circle cx="232.31" cy="333.09" r="1.3" fill="none" stroke="#c0284a" stroke-width="0.7"/>
<circle cx="234.85" cy="333.20" r="1.3" fill="none" stroke="#c0284a" stroke-width="0.7"/>
<circle cx="238.14" cy="333.40" r="1.3" fill="none" stroke="#c0284a" stroke-width="0.7"/>
<circle cx="240.66" cy="333.50" r="1.3" fill="none" stroke="#c0284a" stroke-width="0.7"/>
<line x1="65.80" y1="268.50" x2="80.80" y2="268.50" stroke="#333" stroke-width="0.8" />
<text x="73.30" y="268.70" font-size="8.6" text-anchor="middle" fill="#1a1a1a" stroke="#1a1a1a" stroke-width="0.12" >****</text>
<line x1="104.40" y1="289.50" x2="119.80" y2="289.50" stroke="#333" stroke-width="0.8" />
<text x="112.10" y="289.60" font-size="8.6" text-anchor="middle" fill="#1a1a1a" stroke="#1a1a1a" stroke-width="0.12" >*</text>
<line x1="144.40" y1="297.50" x2="159.60" y2="297.50" stroke="#333" stroke-width="0.8" />
<text x="152.00" y="297.20" font-size="8.6" text-anchor="middle" fill="#1a1a1a" stroke="#1a1a1a" stroke-width="0.12" >****</text>
<line x1="183.00" y1="312.50" x2="198.50" y2="312.50" stroke="#333" stroke-width="0.8" />
<text x="190.75" y="312.20" font-size="8.6" text-anchor="middle" fill="#1a1a1a" stroke="#1a1a1a" stroke-width="0.12" >****</text>
<line x1="221.50" y1="278.50" x2="237.00" y2="278.50" stroke="#333" stroke-width="0.8" />
<text x="229.25" y="278.70" font-size="8.6" text-anchor="middle" fill="#1a1a1a" stroke="#1a1a1a" stroke-width="0.12" >****</text>
<text x="151.00" y="256.60" font-size="10.5" text-anchor="middle" stroke="#262626" stroke-width="0.12" >CD8<tspan font-size="7" dx="0.6" dy="-3.8">+</tspan><tspan dy="3.8"> T</tspan></text>
<text x="35.40" y="297.60" font-size="9.4" text-anchor="middle" textLength="31.50" lengthAdjust="spacingAndGlyphs" transform="rotate(-90 35.40 297.60)" stroke="#262626" stroke-width="0.32" >Expression</text>
<line x1="300.50" y1="260.80" x2="300.50" y2="334.70" stroke="#3a3a3a" stroke-width="1" />
<line x1="297.10" y1="334.50" x2="300.20" y2="334.50" stroke="#3a3a3a" stroke-width="1" />
<text x="294.10" y="336.74" font-size="8.2" text-anchor="end" stroke="#262626" stroke-width="0.12" >0</text>
<line x1="297.10" y1="320.50" x2="300.20" y2="320.50" stroke="#3a3a3a" stroke-width="1" />
<text x="294.10" y="322.82" font-size="8.2" text-anchor="end" stroke="#262626" stroke-width="0.12" >1</text>
<line x1="297.10" y1="306.50" x2="300.20" y2="306.50" stroke="#3a3a3a" stroke-width="1" />
<text x="294.10" y="308.90" font-size="8.2" text-anchor="end" stroke="#262626" stroke-width="0.12" >2</text>
<line x1="297.10" y1="292.50" x2="300.20" y2="292.50" stroke="#3a3a3a" stroke-width="1" />
<text x="294.10" y="294.98" font-size="8.2" text-anchor="end" stroke="#262626" stroke-width="0.12" >3</text>
<line x1="297.10" y1="278.50" x2="300.20" y2="278.50" stroke="#3a3a3a" stroke-width="1" />
<text x="294.10" y="281.06" font-size="8.2" text-anchor="end" stroke="#262626" stroke-width="0.12" >4</text>
<line x1="297.10" y1="264.50" x2="300.20" y2="264.50" stroke="#3a3a3a" stroke-width="1" />
<text x="294.10" y="267.14" font-size="8.2" text-anchor="end" stroke="#262626" stroke-width="0.12" >5</text>
<line x1="299.70" y1="334.50" x2="499.60" y2="334.50" stroke="#3a3a3a" stroke-width="1" />
<line x1="322.50" y1="334.40" x2="322.50" y2="337.20" stroke="#3a3a3a" stroke-width="1" />
<text x="322.80" y="348.30" font-size="8.4" text-anchor="middle" stroke="#262626" stroke-width="0.12" >Bcl-2</text>
<line x1="315.50" y1="294.80" x2="315.50" y2="308.30" stroke="#2b5182" stroke-width="1.0" />
<line x1="315.50" y1="323.70" x2="315.50" y2="327.00" stroke="#2b5182" stroke-width="1.0" />
<line x1="311.05" y1="294.50" x2="319.05" y2="294.50" stroke="#2b5182" stroke-width="1.0" />
<line x1="311.05" y1="327.50" x2="319.05" y2="327.50" stroke="#2b5182" stroke-width="1.0" />
<rect x="307.50" y="308.50" width="15.00" height="15.00" fill="none" stroke="#2b5182" stroke-width="1.0"/>
<line x1="307.50" y1="317.50" x2="322.50" y2="317.50" stroke="#2b5182" stroke-width="1.0" />
<circle cx="313.63" cy="294.80" r="1.3" fill="none" stroke="#2b5182" stroke-width="0.7"/>
<circle cx="316.65" cy="296.18" r="1.3" fill="none" stroke="#2b5182" stroke-width="0.7"/>
<circle cx="315.27" cy="304.30" r="1.3" fill="none" stroke="#2b5182" stroke-width="0.7"/>
<circle cx="313.92" cy="305.25" r="1.3" fill="none" stroke="#2b5182" stroke-width="0.7"/>
<circle cx="316.37" cy="306.48" r="1.3" fill="none" stroke="#2b5182" stroke-width="0.7"/>
<circle cx="314.92" cy="309.23" r="1.3" fill="none" stroke="#2b5182" stroke-width="0.7"/>
<circle cx="309.71" cy="311.57" r="1.3" fill="none" stroke="#2b5182" stroke-width="0.7"/>
<circle cx="312.42" cy="311.82" r="1.3" fill="none" stroke="#2b5182" stroke-width="0.7"/>
<circle cx="314.92" cy="312.14" r="1.3" fill="none" stroke="#2b5182" stroke-width="0.7"/>
<circle cx="317.92" cy="312.21" r="1.3" fill="none" stroke="#2b5182" stroke-width="0.7"/>
<circle cx="320.74" cy="313.32" r="1.3" fill="none" stroke="#2b5182" stroke-width="0.7"/>
<circle cx="311.16" cy="322.15" r="1.3" fill="none" stroke="#2b5182" stroke-width="0.7"/>
<circle cx="313.49" cy="322.82" r="1.3" fill="none" stroke="#2b5182" stroke-width="0.7"/>
<circle cx="316.44" cy="323.62" r="1.3" fill="none" stroke="#2b5182" stroke-width="0.7"/>
<circle cx="319.27" cy="323.67" r="1.3" fill="none" stroke="#2b5182" stroke-width="0.7"/>
<circle cx="313.75" cy="324.42" r="1.3" fill="none" stroke="#2b5182" stroke-width="0.7"/>
<circle cx="316.26" cy="325.67" r="1.3" fill="none" stroke="#2b5182" stroke-width="0.7"/>
<circle cx="309.38" cy="326.25" r="1.3" fill="none" stroke="#2b5182" stroke-width="0.7"/>
<circle cx="312.39" cy="326.51" r="1.3" fill="none" stroke="#2b5182" stroke-width="0.7"/>
<circle cx="315.30" cy="326.84" r="1.3" fill="none" stroke="#2b5182" stroke-width="0.7"/>
<circle cx="317.53" cy="326.99" r="1.3" fill="none" stroke="#2b5182" stroke-width="0.7"/>
<circle cx="320.69" cy="327.00" r="1.3" fill="none" stroke="#2b5182" stroke-width="0.7"/>
<line x1="330.50" y1="317.00" x2="330.50" y2="324.60" stroke="#c0284a" stroke-width="1.0" />
<line x1="330.50" y1="328.80" x2="330.50" y2="330.40" stroke="#c0284a" stroke-width="1.0" />
<line x1="326.55" y1="317.50" x2="334.55" y2="317.50" stroke="#c0284a" stroke-width="1.0" />
<line x1="326.55" y1="330.50" x2="334.55" y2="330.50" stroke="#c0284a" stroke-width="1.0" />
<rect x="323.50" y="324.50" width="15.00" height="4.00" fill="none" stroke="#c0284a" stroke-width="1.0"/>
<line x1="323.50" y1="327.50" x2="338.50" y2="327.50" stroke="#c0284a" stroke-width="1.0" />
<circle cx="330.55" cy="317.00" r="1.3" fill="none" stroke="#c0284a" stroke-width="0.7"/>
<circle cx="330.56" cy="321.05" r="1.3" fill="none" stroke="#c0284a" stroke-width="0.7"/>
<circle cx="329.43" cy="321.99" r="1.3" fill="none" stroke="#c0284a" stroke-width="0.7"/>
<circle cx="332.10" cy="323.12" r="1.3" fill="none" stroke="#c0284a" stroke-width="0.7"/>
<circle cx="324.99" cy="323.34" r="1.3" fill="none" stroke="#c0284a" stroke-width="0.7"/>
<circle cx="327.74" cy="323.38" r="1.3" fill="none" stroke="#c0284a" stroke-width="0.7"/>
<circle cx="330.67" cy="323.85" r="1.3" fill="none" stroke="#c0284a" stroke-width="0.7"/>
<circle cx="333.42" cy="324.65" r="1.3" fill="none" stroke="#c0284a" stroke-width="0.7"/>
<circle cx="335.74" cy="324.91" r="1.3" fill="none" stroke="#c0284a" stroke-width="0.7"/>
<circle cx="325.04" cy="325.26" r="1.3" fill="none" stroke="#c0284a" stroke-width="0.7"/>
<circle cx="327.52" cy="325.29" r="1.3" fill="none" stroke="#c0284a" stroke-width="0.7"/>
<circle cx="326.57" cy="325.57" r="1.3" fill="none" stroke="#c0284a" stroke-width="0.7"/>
<circle cx="329.47" cy="325.90" r="1.3" fill="none" stroke="#c0284a" stroke-width="0.7"/>
<circle cx="331.72" cy="326.23" r="1.3" fill="none" stroke="#c0284a" stroke-width="0.7"/>
<circle cx="334.69" cy="326.40" r="1.3" fill="none" stroke="#c0284a" stroke-width="0.7"/>
<circle cx="325.35" cy="328.28" r="1.3" fill="none" stroke="#c0284a" stroke-width="0.7"/>
<circle cx="327.71" cy="328.56" r="1.3" fill="none" stroke="#c0284a" stroke-width="0.7"/>
<circle cx="330.28" cy="328.68" r="1.3" fill="none" stroke="#c0284a" stroke-width="0.7"/>
<circle cx="333.33" cy="329.10" r="1.3" fill="none" stroke="#c0284a" stroke-width="0.7"/>
<circle cx="336.07" cy="329.28" r="1.3" fill="none" stroke="#c0284a" stroke-width="0.7"/>
<circle cx="329.28" cy="329.75" r="1.3" fill="none" stroke="#c0284a" stroke-width="0.7"/>
<circle cx="332.14" cy="330.40" r="1.3" fill="none" stroke="#c0284a" stroke-width="0.7"/>
<line x1="361.50" y1="334.40" x2="361.50" y2="337.20" stroke="#3a3a3a" stroke-width="1" />
<text x="361.60" y="348.30" font-size="8.4" text-anchor="middle" stroke="#262626" stroke-width="0.12" >c-Myc</text>
<line x1="353.50" y1="309.00" x2="353.50" y2="318.80" stroke="#2b5182" stroke-width="1.0" />
<line x1="353.50" y1="326.50" x2="353.50" y2="329.40" stroke="#2b5182" stroke-width="1.0" />
<line x1="349.85" y1="309.50" x2="357.85" y2="309.50" stroke="#2b5182" stroke-width="1.0" />
<line x1="349.85" y1="329.50" x2="357.85" y2="329.50" stroke="#2b5182" stroke-width="1.0" />
<rect x="346.50" y="318.50" width="15.00" height="8.00" fill="none" stroke="#2b5182" stroke-width="1.0"/>
<line x1="346.50" y1="322.50" x2="361.50" y2="322.50" stroke="#2b5182" stroke-width="1.0" />
<circle cx="353.82" cy="309.00" r="1.3" fill="none" stroke="#2b5182" stroke-width="0.7"/>
<circle cx="353.67" cy="312.43" r="1.3" fill="none" stroke="#2b5182" stroke-width="0.7"/>
<circle cx="352.22" cy="313.43" r="1.3" fill="none" stroke="#2b5182" stroke-width="0.7"/>
<circle cx="355.00" cy="314.08" r="1.3" fill="none" stroke="#2b5182" stroke-width="0.7"/>
<circle cx="348.53" cy="315.66" r="1.3" fill="none" stroke="#2b5182" stroke-width="0.7"/>
<circle cx="351.05" cy="316.03" r="1.3" fill="none" stroke="#2b5182" stroke-width="0.7"/>
<circle cx="353.75" cy="316.58" r="1.3" fill="none" stroke="#2b5182" stroke-width="0.7"/>
<circle cx="356.78" cy="316.92" r="1.3" fill="none" stroke="#2b5182" stroke-width="0.7"/>
<circle cx="359.52" cy="317.30" r="1.3" fill="none" stroke="#2b5182" stroke-width="0.7"/>
<circle cx="352.75" cy="320.54" r="1.3" fill="none" stroke="#2b5182" stroke-width="0.7"/>
<circle cx="355.03" cy="321.05" r="1.3" fill="none" stroke="#2b5182" stroke-width="0.7"/>
<circle cx="350.88" cy="321.69" r="1.3" fill="none" stroke="#2b5182" stroke-width="0.7"/>
<circle cx="353.60" cy="321.92" r="1.3" fill="none" stroke="#2b5182" stroke-width="0.7"/>
<circle cx="356.52" cy="321.95" r="1.3" fill="none" stroke="#2b5182" stroke-width="0.7"/>
<circle cx="348.57" cy="323.92" r="1.3" fill="none" stroke="#2b5182" stroke-width="0.7"/>
<circle cx="351.33" cy="324.05" r="1.3" fill="none" stroke="#2b5182" stroke-width="0.7"/>
<circle cx="353.93" cy="324.08" r="1.3" fill="none" stroke="#2b5182" stroke-width="0.7"/>
<circle cx="356.78" cy="324.14" r="1.3" fill="none" stroke="#2b5182" stroke-width="0.7"/>
<circle cx="359.37" cy="325.09" r="1.3" fill="none" stroke="#2b5182" stroke-width="0.7"/>
<circle cx="348.17" cy="325.14" r="1.3" fill="none" stroke="#2b5182" stroke-width="0.7"/>
<circle cx="353.58" cy="326.84" r="1.3" fill="none" stroke="#2b5182" stroke-width="0.7"/>
<circle cx="353.63" cy="329.40" r="1.3" fill="none" stroke="#2b5182" stroke-width="0.7"/>
<line x1="369.50" y1="313.50" x2="369.50" y2="318.50" stroke="#c0284a" stroke-width="1.0" />
<line x1="369.50" y1="332.30" x2="369.50" y2="333.00" stroke="#c0284a" stroke-width="1.0" />
<line x1="365.35" y1="313.50" x2="373.35" y2="313.50" stroke="#c0284a" stroke-width="1.0" />
<line x1="365.35" y1="333.50" x2="373.35" y2="333.50" stroke="#c0284a" stroke-width="1.0" />
<rect x="361.50" y="318.50" width="15.00" height="14.00" fill="none" stroke="#c0284a" stroke-width="1.0"/>
<line x1="361.50" y1="330.50" x2="376.50" y2="330.50" stroke="#c0284a" stroke-width="1.0" />
<circle cx="369.12" cy="313.50" r="1.3" fill="none" stroke="#c0284a" stroke-width="0.7"/>
<circle cx="369.36" cy="317.04" r="1.3" fill="none" stroke="#c0284a" stroke-width="0.7"/>
<circle cx="364.10" cy="317.84" r="1.3" fill="none" stroke="#c0284a" stroke-width="0.7"/>
<circle cx="366.57" cy="317.92" r="1.3" fill="none" stroke="#c0284a" stroke-width="0.7"/>
<circle cx="369.62" cy="318.26" r="1.3" fill="none" stroke="#c0284a" stroke-width="0.7"/>
<circle cx="372.11" cy="318.26" r="1.3" fill="none" stroke="#c0284a" stroke-width="0.7"/>
<circle cx="374.84" cy="318.43" r="1.3" fill="none" stroke="#c0284a" stroke-width="0.7"/>
<circle cx="369.47" cy="320.69" r="1.3" fill="none" stroke="#c0284a" stroke-width="0.7"/>
<circle cx="367.97" cy="323.22" r="1.3" fill="none" stroke="#c0284a" stroke-width="0.7"/>
<circle cx="370.87" cy="323.34" r="1.3" fill="none" stroke="#c0284a" stroke-width="0.7"/>
<circle cx="369.39" cy="327.85" r="1.3" fill="none" stroke="#c0284a" stroke-width="0.7"/>
<circle cx="368.13" cy="328.08" r="1.3" fill="none" stroke="#c0284a" stroke-width="0.7"/>
<circle cx="370.48" cy="329.50" r="1.3" fill="none" stroke="#c0284a" stroke-width="0.7"/>
<circle cx="366.42" cy="330.57" r="1.3" fill="none" stroke="#c0284a" stroke-width="0.7"/>
<circle cx="369.10" cy="331.91" r="1.3" fill="none" stroke="#c0284a" stroke-width="0.7"/>
<circle cx="372.20" cy="332.14" r="1.3" fill="none" stroke="#c0284a" stroke-width="0.7"/>
<circle cx="364.14" cy="332.76" r="1.3" fill="none" stroke="#c0284a" stroke-width="0.7"/>
<circle cx="366.76" cy="332.81" r="1.3" fill="none" stroke="#c0284a" stroke-width="0.7"/>
<circle cx="369.48" cy="332.82" r="1.3" fill="none" stroke="#c0284a" stroke-width="0.7"/>
<circle cx="372.09" cy="332.89" r="1.3" fill="none" stroke="#c0284a" stroke-width="0.7"/>
<circle cx="374.93" cy="332.94" r="1.3" fill="none" stroke="#c0284a" stroke-width="0.7"/>
<circle cx="363.82" cy="333.00" r="1.3" fill="none" stroke="#c0284a" stroke-width="0.7"/>
<line x1="400.50" y1="334.40" x2="400.50" y2="337.20" stroke="#3a3a3a" stroke-width="1" />
<text x="400.40" y="348.30" font-size="8.4" text-anchor="middle" stroke="#262626" stroke-width="0.12" >pNF&#954;B</text>
<line x1="392.50" y1="312.70" x2="392.50" y2="318.80" stroke="#2b5182" stroke-width="1.0" />
<line x1="392.50" y1="328.00" x2="392.50" y2="329.40" stroke="#2b5182" stroke-width="1.0" />
<line x1="388.65" y1="312.50" x2="396.65" y2="312.50" stroke="#2b5182" stroke-width="1.0" />
<line x1="388.65" y1="329.50" x2="396.65" y2="329.50" stroke="#2b5182" stroke-width="1.0" />
<rect x="385.50" y="318.50" width="15.00" height="10.00" fill="none" stroke="#2b5182" stroke-width="1.0"/>
<line x1="385.50" y1="323.50" x2="400.50" y2="323.50" stroke="#2b5182" stroke-width="1.0" />
<circle cx="392.50" cy="312.70" r="1.3" fill="none" stroke="#2b5182" stroke-width="0.7"/>
<circle cx="392.47" cy="315.55" r="1.3" fill="none" stroke="#2b5182" stroke-width="0.7"/>
<circle cx="392.94" cy="318.31" r="1.3" fill="none" stroke="#2b5182" stroke-width="0.7"/>
<circle cx="387.02" cy="319.22" r="1.3" fill="none" stroke="#2b5182" stroke-width="0.7"/>
<circle cx="389.76" cy="319.66" r="1.3" fill="none" stroke="#2b5182" stroke-width="0.7"/>
<circle cx="392.50" cy="319.67" r="1.3" fill="none" stroke="#2b5182" stroke-width="0.7"/>
<circle cx="395.38" cy="319.72" r="1.3" fill="none" stroke="#2b5182" stroke-width="0.7"/>
<circle cx="397.93" cy="320.71" r="1.3" fill="none" stroke="#2b5182" stroke-width="0.7"/>
<circle cx="389.65" cy="321.86" r="1.3" fill="none" stroke="#2b5182" stroke-width="0.7"/>
<circle cx="392.56" cy="322.53" r="1.3" fill="none" stroke="#2b5182" stroke-width="0.7"/>
<circle cx="395.35" cy="322.56" r="1.3" fill="none" stroke="#2b5182" stroke-width="0.7"/>
<circle cx="386.90" cy="323.46" r="1.3" fill="none" stroke="#2b5182" stroke-width="0.7"/>
<circle cx="390.21" cy="323.69" r="1.3" fill="none" stroke="#2b5182" stroke-width="0.7"/>
<circle cx="392.42" cy="323.83" r="1.3" fill="none" stroke="#2b5182" stroke-width="0.7"/>
<circle cx="395.39" cy="324.19" r="1.3" fill="none" stroke="#2b5182" stroke-width="0.7"/>
<circle cx="398.39" cy="324.90" r="1.3" fill="none" stroke="#2b5182" stroke-width="0.7"/>
<circle cx="391.46" cy="325.52" r="1.3" fill="none" stroke="#2b5182" stroke-width="0.7"/>
<circle cx="394.25" cy="326.31" r="1.3" fill="none" stroke="#2b5182" stroke-width="0.7"/>
<circle cx="390.19" cy="328.15" r="1.3" fill="none" stroke="#2b5182" stroke-width="0.7"/>
<circle cx="392.76" cy="328.93" r="1.3" fill="none" stroke="#2b5182" stroke-width="0.7"/>
<circle cx="395.41" cy="329.07" r="1.3" fill="none" stroke="#2b5182" stroke-width="0.7"/>
<circle cx="392.69" cy="329.40" r="1.3" fill="none" stroke="#2b5182" stroke-width="0.7"/>
<line x1="408.50" y1="317.90" x2="408.50" y2="327.00" stroke="#c0284a" stroke-width="1.0" />
<line x1="408.50" y1="332.00" x2="408.50" y2="333.00" stroke="#c0284a" stroke-width="1.0" />
<line x1="404.15" y1="317.50" x2="412.15" y2="317.50" stroke="#c0284a" stroke-width="1.0" />
<line x1="404.15" y1="333.50" x2="412.15" y2="333.50" stroke="#c0284a" stroke-width="1.0" />
<rect x="400.50" y="327.50" width="15.00" height="5.00" fill="none" stroke="#c0284a" stroke-width="1.0"/>
<line x1="400.50" y1="330.50" x2="415.50" y2="330.50" stroke="#c0284a" stroke-width="1.0" />
<circle cx="407.88" cy="317.90" r="1.3" fill="none" stroke="#c0284a" stroke-width="0.7"/>
<circle cx="405.67" cy="325.20" r="1.3" fill="none" stroke="#c0284a" stroke-width="0.7"/>
<circle cx="408.45" cy="325.67" r="1.3" fill="none" stroke="#c0284a" stroke-width="0.7"/>
<circle cx="411.06" cy="325.72" r="1.3" fill="none" stroke="#c0284a" stroke-width="0.7"/>
<circle cx="402.62" cy="326.28" r="1.3" fill="none" stroke="#c0284a" stroke-width="0.7"/>
<circle cx="405.47" cy="327.07" r="1.3" fill="none" stroke="#c0284a" stroke-width="0.7"/>
<circle cx="408.33" cy="327.50" r="1.3" fill="none" stroke="#c0284a" stroke-width="0.7"/>
<circle cx="410.59" cy="327.81" r="1.3" fill="none" stroke="#c0284a" stroke-width="0.7"/>
<circle cx="413.69" cy="328.00" r="1.3" fill="none" stroke="#c0284a" stroke-width="0.7"/>
<circle cx="402.48" cy="328.34" r="1.3" fill="none" stroke="#c0284a" stroke-width="0.7"/>
<circle cx="405.15" cy="328.46" r="1.3" fill="none" stroke="#c0284a" stroke-width="0.7"/>
<circle cx="407.91" cy="329.40" r="1.3" fill="none" stroke="#c0284a" stroke-width="0.7"/>
<circle cx="411.17" cy="329.56" r="1.3" fill="none" stroke="#c0284a" stroke-width="0.7"/>
<circle cx="413.65" cy="329.72" r="1.3" fill="none" stroke="#c0284a" stroke-width="0.7"/>
<circle cx="402.58" cy="329.96" r="1.3" fill="none" stroke="#c0284a" stroke-width="0.7"/>
<circle cx="405.19" cy="330.14" r="1.3" fill="none" stroke="#c0284a" stroke-width="0.7"/>
<circle cx="408.10" cy="330.35" r="1.3" fill="none" stroke="#c0284a" stroke-width="0.7"/>
<circle cx="404.22" cy="331.55" r="1.3" fill="none" stroke="#c0284a" stroke-width="0.7"/>
<circle cx="407.06" cy="331.84" r="1.3" fill="none" stroke="#c0284a" stroke-width="0.7"/>
<circle cx="409.23" cy="332.08" r="1.3" fill="none" stroke="#c0284a" stroke-width="0.7"/>
<circle cx="412.06" cy="332.40" r="1.3" fill="none" stroke="#c0284a" stroke-width="0.7"/>
<circle cx="407.88" cy="333.00" r="1.3" fill="none" stroke="#c0284a" stroke-width="0.7"/>
<line x1="439.50" y1="334.40" x2="439.50" y2="337.20" stroke="#3a3a3a" stroke-width="1" />
<text x="439.20" y="348.30" font-size="8.4" text-anchor="middle" stroke="#262626" stroke-width="0.12" >Ki67</text>
<line x1="431.50" y1="326.00" x2="431.50" y2="327.00" stroke="#2b5182" stroke-width="1.0" />
<line x1="431.50" y1="333.70" x2="431.50" y2="334.00" stroke="#2b5182" stroke-width="1.0" />
<line x1="427.45" y1="326.50" x2="435.45" y2="326.50" stroke="#2b5182" stroke-width="1.0" />
<line x1="427.45" y1="334.50" x2="435.45" y2="334.50" stroke="#2b5182" stroke-width="1.0" />
<rect x="423.50" y="327.50" width="15.00" height="6.00" fill="none" stroke="#2b5182" stroke-width="1.0"/>
<line x1="423.50" y1="330.50" x2="438.50" y2="330.50" stroke="#2b5182" stroke-width="1.0" />
<circle cx="425.86" cy="326.00" r="1.3" fill="none" stroke="#2b5182" stroke-width="0.7"/>
<circle cx="428.70" cy="326.70" r="1.3" fill="none" stroke="#2b5182" stroke-width="0.7"/>
<circle cx="431.31" cy="326.83" r="1.3" fill="none" stroke="#2b5182" stroke-width="0.7"/>
<circle cx="434.01" cy="326.85" r="1.3" fill="none" stroke="#2b5182" stroke-width="0.7"/>
<circle cx="436.71" cy="326.93" r="1.3" fill="none" stroke="#2b5182" stroke-width="0.7"/>
<circle cx="426.05" cy="326.94" r="1.3" fill="none" stroke="#2b5182" stroke-width="0.7"/>
<circle cx="428.48" cy="327.26" r="1.3" fill="none" stroke="#2b5182" stroke-width="0.7"/>
<circle cx="431.43" cy="327.78" r="1.3" fill="none" stroke="#2b5182" stroke-width="0.7"/>
<circle cx="434.39" cy="328.07" r="1.3" fill="none" stroke="#2b5182" stroke-width="0.7"/>
<circle cx="425.71" cy="328.53" r="1.3" fill="none" stroke="#2b5182" stroke-width="0.7"/>
<circle cx="428.78" cy="329.02" r="1.3" fill="none" stroke="#2b5182" stroke-width="0.7"/>
<circle cx="431.19" cy="329.72" r="1.3" fill="none" stroke="#2b5182" stroke-width="0.7"/>
<circle cx="434.23" cy="329.79" r="1.3" fill="none" stroke="#2b5182" stroke-width="0.7"/>
<circle cx="437.11" cy="329.81" r="1.3" fill="none" stroke="#2b5182" stroke-width="0.7"/>
<circle cx="425.74" cy="332.93" r="1.3" fill="none" stroke="#2b5182" stroke-width="0.7"/>
<circle cx="428.90" cy="333.59" r="1.3" fill="none" stroke="#2b5182" stroke-width="0.7"/>
<circle cx="431.65" cy="333.74" r="1.3" fill="none" stroke="#2b5182" stroke-width="0.7"/>
<circle cx="434.23" cy="333.76" r="1.3" fill="none" stroke="#2b5182" stroke-width="0.7"/>
<circle cx="436.68" cy="333.82" r="1.3" fill="none" stroke="#2b5182" stroke-width="0.7"/>
<circle cx="426.28" cy="333.88" r="1.3" fill="none" stroke="#2b5182" stroke-width="0.7"/>
<circle cx="428.78" cy="333.90" r="1.3" fill="none" stroke="#2b5182" stroke-width="0.7"/>
<circle cx="431.44" cy="334.00" r="1.3" fill="none" stroke="#2b5182" stroke-width="0.7"/>
<line x1="446.50" y1="329.00" x2="446.50" y2="330.40" stroke="#c0284a" stroke-width="1.0" />
<line x1="446.50" y1="334.50" x2="446.50" y2="334.50" stroke="#c0284a" stroke-width="1.0" />
<line x1="442.95" y1="329.50" x2="450.95" y2="329.50" stroke="#c0284a" stroke-width="1.0" />
<line x1="442.95" y1="334.50" x2="450.95" y2="334.50" stroke="#c0284a" stroke-width="1.0" />
<rect x="439.50" y="330.50" width="15.00" height="4.00" fill="none" stroke="#c0284a" stroke-width="1.0"/>
<line x1="439.50" y1="332.50" x2="454.50" y2="332.50" stroke="#c0284a" stroke-width="1.0" />
<circle cx="441.62" cy="329.00" r="1.3" fill="none" stroke="#c0284a" stroke-width="0.7"/>
<circle cx="444.12" cy="329.62" r="1.3" fill="none" stroke="#c0284a" stroke-width="0.7"/>
<circle cx="446.67" cy="330.03" r="1.3" fill="none" stroke="#c0284a" stroke-width="0.7"/>
<circle cx="449.42" cy="330.06" r="1.3" fill="none" stroke="#c0284a" stroke-width="0.7"/>
<circle cx="452.33" cy="330.09" r="1.3" fill="none" stroke="#c0284a" stroke-width="0.7"/>
<circle cx="441.76" cy="330.17" r="1.3" fill="none" stroke="#c0284a" stroke-width="0.7"/>
<circle cx="444.24" cy="330.34" r="1.3" fill="none" stroke="#c0284a" stroke-width="0.7"/>
<circle cx="446.75" cy="330.77" r="1.3" fill="none" stroke="#c0284a" stroke-width="0.7"/>
<circle cx="449.52" cy="330.92" r="1.3" fill="none" stroke="#c0284a" stroke-width="0.7"/>
<circle cx="441.56" cy="331.18" r="1.3" fill="none" stroke="#c0284a" stroke-width="0.7"/>
<circle cx="444.10" cy="331.45" r="1.3" fill="none" stroke="#c0284a" stroke-width="0.7"/>
<circle cx="446.86" cy="331.87" r="1.3" fill="none" stroke="#c0284a" stroke-width="0.7"/>
<circle cx="449.97" cy="331.99" r="1.3" fill="none" stroke="#c0284a" stroke-width="0.7"/>
<circle cx="452.46" cy="332.48" r="1.3" fill="none" stroke="#c0284a" stroke-width="0.7"/>
<circle cx="441.42" cy="332.52" r="1.3" fill="none" stroke="#c0284a" stroke-width="0.7"/>
<circle cx="443.98" cy="333.09" r="1.3" fill="none" stroke="#c0284a" stroke-width="0.7"/>
<circle cx="441.47" cy="333.29" r="1.3" fill="none" stroke="#c0284a" stroke-width="0.7"/>
<circle cx="444.05" cy="333.38" r="1.3" fill="none" stroke="#c0284a" stroke-width="0.7"/>
<circle cx="447.20" cy="333.83" r="1.3" fill="none" stroke="#c0284a" stroke-width="0.7"/>
<circle cx="449.60" cy="334.00" r="1.3" fill="none" stroke="#c0284a" stroke-width="0.7"/>
<circle cx="452.52" cy="334.00" r="1.3" fill="none" stroke="#c0284a" stroke-width="0.7"/>
<circle cx="441.66" cy="334.00" r="1.3" fill="none" stroke="#c0284a" stroke-width="0.7"/>
<line x1="478.50" y1="334.40" x2="478.50" y2="337.20" stroke="#3a3a3a" stroke-width="1" />
<text x="478.00" y="348.30" font-size="8.4" text-anchor="middle" stroke="#262626" stroke-width="0.12" >pS6</text>
<line x1="470.50" y1="284.60" x2="470.50" y2="309.20" stroke="#2b5182" stroke-width="1.0" />
<line x1="470.50" y1="322.00" x2="470.50" y2="333.00" stroke="#2b5182" stroke-width="1.0" />
<line x1="466.25" y1="284.50" x2="474.25" y2="284.50" stroke="#2b5182" stroke-width="1.0" />
<line x1="466.25" y1="333.50" x2="474.25" y2="333.50" stroke="#2b5182" stroke-width="1.0" />
<rect x="462.50" y="309.50" width="15.00" height="13.00" fill="none" stroke="#2b5182" stroke-width="1.0"/>
<line x1="462.50" y1="315.50" x2="477.50" y2="315.50" stroke="#2b5182" stroke-width="1.0" />
<circle cx="470.37" cy="284.60" r="1.3" fill="none" stroke="#2b5182" stroke-width="0.7"/>
<circle cx="470.16" cy="289.01" r="1.3" fill="none" stroke="#2b5182" stroke-width="0.7"/>
<circle cx="470.27" cy="298.06" r="1.3" fill="none" stroke="#2b5182" stroke-width="0.7"/>
<circle cx="468.60" cy="301.61" r="1.3" fill="none" stroke="#2b5182" stroke-width="0.7"/>
<circle cx="471.35" cy="303.10" r="1.3" fill="none" stroke="#2b5182" stroke-width="0.7"/>
<circle cx="470.43" cy="306.62" r="1.3" fill="none" stroke="#2b5182" stroke-width="0.7"/>
<circle cx="467.69" cy="308.43" r="1.3" fill="none" stroke="#2b5182" stroke-width="0.7"/>
<circle cx="470.00" cy="309.31" r="1.3" fill="none" stroke="#2b5182" stroke-width="0.7"/>
<circle cx="472.74" cy="309.33" r="1.3" fill="none" stroke="#2b5182" stroke-width="0.7"/>
<circle cx="468.68" cy="310.17" r="1.3" fill="none" stroke="#2b5182" stroke-width="0.7"/>
<circle cx="471.47" cy="310.70" r="1.3" fill="none" stroke="#2b5182" stroke-width="0.7"/>
<circle cx="468.78" cy="312.03" r="1.3" fill="none" stroke="#2b5182" stroke-width="0.7"/>
<circle cx="471.34" cy="313.13" r="1.3" fill="none" stroke="#2b5182" stroke-width="0.7"/>
<circle cx="468.86" cy="314.43" r="1.3" fill="none" stroke="#2b5182" stroke-width="0.7"/>
<circle cx="471.36" cy="314.77" r="1.3" fill="none" stroke="#2b5182" stroke-width="0.7"/>
<circle cx="470.45" cy="316.30" r="1.3" fill="none" stroke="#2b5182" stroke-width="0.7"/>
<circle cx="469.09" cy="318.16" r="1.3" fill="none" stroke="#2b5182" stroke-width="0.7"/>
<circle cx="471.50" cy="319.49" r="1.3" fill="none" stroke="#2b5182" stroke-width="0.7"/>
<circle cx="470.30" cy="321.80" r="1.3" fill="none" stroke="#2b5182" stroke-width="0.7"/>
<circle cx="470.04" cy="322.65" r="1.3" fill="none" stroke="#2b5182" stroke-width="0.7"/>
<circle cx="470.54" cy="324.60" r="1.3" fill="none" stroke="#2b5182" stroke-width="0.7"/>
<circle cx="470.54" cy="333.00" r="1.3" fill="none" stroke="#2b5182" stroke-width="0.7"/>
<line x1="485.50" y1="275.60" x2="485.50" y2="326.50" stroke="#c0284a" stroke-width="1.0" />
<line x1="485.50" y1="332.30" x2="485.50" y2="333.00" stroke="#c0284a" stroke-width="1.0" />
<line x1="481.75" y1="275.50" x2="489.75" y2="275.50" stroke="#c0284a" stroke-width="1.0" />
<line x1="481.75" y1="333.50" x2="489.75" y2="333.50" stroke="#c0284a" stroke-width="1.0" />
<rect x="478.50" y="326.50" width="15.00" height="6.00" fill="none" stroke="#c0284a" stroke-width="1.0"/>
<line x1="478.50" y1="329.50" x2="493.50" y2="329.50" stroke="#c0284a" stroke-width="1.0" />
<circle cx="485.85" cy="275.60" r="1.3" fill="none" stroke="#c0284a" stroke-width="0.7"/>
<circle cx="485.68" cy="302.02" r="1.3" fill="none" stroke="#c0284a" stroke-width="0.7"/>
<circle cx="485.66" cy="314.41" r="1.3" fill="none" stroke="#c0284a" stroke-width="0.7"/>
<circle cx="484.55" cy="327.03" r="1.3" fill="none" stroke="#c0284a" stroke-width="0.7"/>
<circle cx="487.32" cy="327.54" r="1.3" fill="none" stroke="#c0284a" stroke-width="0.7"/>
<circle cx="480.47" cy="327.79" r="1.3" fill="none" stroke="#c0284a" stroke-width="0.7"/>
<circle cx="483.16" cy="328.55" r="1.3" fill="none" stroke="#c0284a" stroke-width="0.7"/>
<circle cx="485.74" cy="328.74" r="1.3" fill="none" stroke="#c0284a" stroke-width="0.7"/>
<circle cx="488.78" cy="328.89" r="1.3" fill="none" stroke="#c0284a" stroke-width="0.7"/>
<circle cx="491.20" cy="329.01" r="1.3" fill="none" stroke="#c0284a" stroke-width="0.7"/>
<circle cx="480.22" cy="329.88" r="1.3" fill="none" stroke="#c0284a" stroke-width="0.7"/>
<circle cx="482.85" cy="330.10" r="1.3" fill="none" stroke="#c0284a" stroke-width="0.7"/>
<circle cx="485.58" cy="331.24" r="1.3" fill="none" stroke="#c0284a" stroke-width="0.7"/>
<circle cx="488.19" cy="331.71" r="1.3" fill="none" stroke="#c0284a" stroke-width="0.7"/>
<circle cx="491.26" cy="331.72" r="1.3" fill="none" stroke="#c0284a" stroke-width="0.7"/>
<circle cx="480.55" cy="331.78" r="1.3" fill="none" stroke="#c0284a" stroke-width="0.7"/>
<circle cx="483.11" cy="332.02" r="1.3" fill="none" stroke="#c0284a" stroke-width="0.7"/>
<circle cx="486.01" cy="332.26" r="1.3" fill="none" stroke="#c0284a" stroke-width="0.7"/>
<circle cx="488.37" cy="332.37" r="1.3" fill="none" stroke="#c0284a" stroke-width="0.7"/>
<circle cx="491.50" cy="332.86" r="1.3" fill="none" stroke="#c0284a" stroke-width="0.7"/>
<circle cx="480.33" cy="332.99" r="1.3" fill="none" stroke="#c0284a" stroke-width="0.7"/>
<circle cx="482.89" cy="333.00" r="1.3" fill="none" stroke="#c0284a" stroke-width="0.7"/>
<line x1="316.00" y1="290.50" x2="331.30" y2="290.50" stroke="#333" stroke-width="0.8" />
<text x="323.65" y="290.60" font-size="8.6" text-anchor="middle" fill="#1a1a1a" stroke="#1a1a1a" stroke-width="0.12" >****</text>
<line x1="353.80" y1="305.50" x2="369.20" y2="305.50" stroke="#333" stroke-width="0.8" />
<text x="361.50" y="305.20" font-size="8.6" text-anchor="middle" fill="#1a1a1a" stroke="#1a1a1a" stroke-width="0.12" >*</text>
<line x1="392.90" y1="308.50" x2="407.70" y2="308.50" stroke="#333" stroke-width="0.8" />
<text x="400.30" y="308.90" font-size="8.6" text-anchor="middle" fill="#1a1a1a" stroke="#1a1a1a" stroke-width="0.12" >****</text>
<line x1="430.40" y1="322.50" x2="445.80" y2="322.50" stroke="#333" stroke-width="0.8" />
<text x="438.10" y="322.20" font-size="8.6" text-anchor="middle" fill="#1a1a1a" stroke="#1a1a1a" stroke-width="0.12" >****</text>
<line x1="469.80" y1="269.50" x2="485.80" y2="269.50" stroke="#333" stroke-width="0.8" />
<text x="477.80" y="269.80" font-size="8.6" text-anchor="middle" fill="#1a1a1a" stroke="#1a1a1a" stroke-width="0.12" >***</text>
<text x="399.90" y="256.60" font-size="10.5" text-anchor="middle" textLength="41.00" lengthAdjust="spacingAndGlyphs" stroke="#262626" stroke-width="0.12" >Fibroblast</text>
<text x="284.20" y="297.60" font-size="9.4" text-anchor="middle" textLength="31.50" lengthAdjust="spacingAndGlyphs" transform="rotate(-90 284.20 297.60)" stroke="#262626" stroke-width="0.32" >Expression</text>
<text x="13.00" y="378.30" font-size="11" fill="#111" font-weight="bold" stroke="#111" stroke-width="0.12" >C</text>
<text x="172.30" y="379.20" font-size="9.6" text-anchor="middle" textLength="127.40" lengthAdjust="spacingAndGlyphs" stroke="#262626" stroke-width="0.12" >IHC of DLBCL patient tissues</text>
<line x1="52.00" y1="383.50" x2="281.80" y2="383.50" stroke="#8a8a8a" stroke-width="1" />
<text x="89.10" y="395.80" font-size="8.6" text-anchor="middle" textLength="32.70" lengthAdjust="spacingAndGlyphs" stroke="#262626" stroke-width="0.12" >p-S6 low</text>
<text x="249.00" y="395.80" font-size="8.6" text-anchor="middle" textLength="35.50" lengthAdjust="spacingAndGlyphs" stroke="#262626" stroke-width="0.12" >p-S6 high</text>
<line x1="50.20" y1="399.50" x2="127.00" y2="399.50" stroke="#8a8a8a" stroke-width="1" />
<line x1="211.70" y1="399.50" x2="287.70" y2="399.50" stroke="#8a8a8a" stroke-width="1" />
<line x1="47.30" y1="407.50" x2="50.30" y2="407.50" stroke="#333" stroke-width="0.9" />
<text x="129.60" y="411.00" font-size="8.5" text-anchor="middle" stroke="#262626" stroke-width="0.12" >+</text>
<text x="205.80" y="411.00" font-size="8.5" text-anchor="middle" textLength="9.00" lengthAdjust="spacingAndGlyphs" stroke="#262626" stroke-width="0.12" >++</text>
<text x="283.10" y="411.00" font-size="8.5" text-anchor="middle" textLength="15.50" lengthAdjust="spacingAndGlyphs" stroke="#262626" stroke-width="0.12" >+++</text>
<defs>
<filter id="mot" x="0" y="0" width="100%" height="100%"><feTurbulence type="fractalNoise" baseFrequency="0.22" numOctaves="2" seed="11"/><feColorMatrix type="matrix" values="0 0 0 0 1  0 0 0 0 1  0 0 0 0 1  2.2 0 0 0 -1.0"/><feComposite in2="SourceGraphic" operator="in"/></filter>
<filter id="dark" x="0" y="0" width="100%" height="100%"><feTurbulence type="fractalNoise" baseFrequency="0.6" numOctaves="2" seed="4"/><feColorMatrix type="matrix" values="0 0 0 0 0.30  0 0 0 0 0.30  0 0 0 0 0.55  0 1.6 0 0 -0.7"/><feComposite in2="SourceGraphic" operator="in"/></filter>
<filter id="speck" x="0" y="0" width="100%" height="100%"><feTurbulence type="fractalNoise" baseFrequency="0.7" numOctaves="2" seed="9"/><feColorMatrix type="matrix" values="0 0 0 0 0.50  0 0 0 0 0.22  0 0 0 0 0.16  2.0 0 0 0 -0.85"/><feComposite in2="SourceGraphic" operator="in"/></filter>
</defs>
<g><polygon points="40.5,427.3 43.9,422.1 55.2,417.8 67.3,416.9 74.2,418.7 75.9,425.6 73.3,432.5 71.6,436.0 76.8,437.7 81.1,444.6 84.0,453.3 87.0,460.0 87.0,487.0 53.3,487.0 53.3,483.3 50.9,482.1 40.0,479.7 29.2,474.9 22.0,470.1 17.2,464.1 14.8,455.7 16.0,449.7 20.8,444.9 31.6,442.5 38.8,437.6 46.0,430.4" fill="#adb1dc"/>
<polygon points="40.5,427.3 43.9,422.1 55.2,417.8 67.3,416.9 74.2,418.7 75.9,425.6 73.3,432.5 71.6,436.0 76.8,437.7 81.1,444.6 84.0,453.3 87.0,460.0 87.0,487.0 53.3,487.0 53.3,483.3 50.9,482.1 40.0,479.7 29.2,474.9 22.0,470.1 17.2,464.1 14.8,455.7 16.0,449.7 20.8,444.9 31.6,442.5 38.8,437.6 46.0,430.4" fill="#fff" filter="url(#mot)" opacity="0.22"/>
<polygon points="40.5,427.3 43.9,422.1 55.2,417.8 67.3,416.9 74.2,418.7 75.9,425.6 73.3,432.5 71.6,436.0 76.8,437.7 81.1,444.6 84.0,453.3 87.0,460.0 87.0,487.0 53.3,487.0 53.3,483.3 50.9,482.1 40.0,479.7 29.2,474.9 22.0,470.1 17.2,464.1 14.8,455.7 16.0,449.7 20.8,444.9 31.6,442.5 38.8,437.6 46.0,430.4" fill="#fff" filter="url(#dark)" opacity="0.35"/>
</g>
<path d="M31.6,444.9 L55.7,446 M56,440 L66,441" stroke="#e2e5f5" stroke-width="0.8" fill="none"/>
<rect x="56.6" y="440.8" width="7.6" height="6.9" fill="none" stroke="#7a7fae" stroke-width="0.6"/>
<g><rect x="53.1" y="453.3" width="34.1" height="34.2" fill="#b0b3dc"/>
<rect x="53.1" y="453.3" width="34.1" height="34.2" fill="#fff" filter="url(#mot)" opacity="0.3"/>
<rect x="53.1" y="453.3" width="34.1" height="34.2" fill="#fff" filter="url(#dark)" opacity="0.55"/>
</g>
<path d="M54,472.5 Q58,470 62,470.8 Q66,472.5 69,475.5 Q71,477.5 73,478.5 L72,479.6 Q68,477.5 65,475 Q61,472.8 58,473.2 Q56,473.8 54,474.2 Z" fill="#f2f3fb" opacity="0.9"/>
<rect x="53.1" y="453.3" width="34.1" height="34.2" fill="none" stroke="#4a4a5a" stroke-width="0.9"/>
<line x1="14.80" y1="483.60" x2="33.40" y2="483.60" stroke="#333" stroke-width="1.5" />
<path d="M97,450 Q101,446 108,449 Q114,447 120,452 Q126,456 124,463 Q128,470 124,476 Q118,482 110,480 Q102,478 98,472 Q93,466 95,459 Q94,454 97,450 Z" fill="#fbfbfc"/>
<path d="M97,450 Q101,446 108,449 Q114,447 120,452 Q126,456 124,463 Q128,470 124,476 Q118,482 110,480 Q102,478 98,472 Q93,466 95,459 Q94,454 97,450 Z M100,458 Q106,462 112,470 M104,475 Q110,466 118,460 M108,452 Q114,466 119,477" stroke="#e9e9ee" stroke-width="0.6" fill="none"/>
<g><path d="M109.7,430 Q111,425 115,424 Q120,421 127,420.2 L133,418 Q137,416.5 142,417.2 Q147,417.5 148,419.5 Q151,421 150.2,425.5 Q150,430 148,433 Q146,437 143.5,439 Q140,441 136,442 L127,444.2 Q122,445.5 118,445.7 Q113,446 112,444.2 Q109.5,442 109,439 Q108.5,435 109.7,430 Z" fill="#8f93d1"/>
<path d="M109.7,430 Q111,425 115,424 Q120,421 127,420.2 L133,418 Q137,416.5 142,417.2 Q147,417.5 148,419.5 Q151,421 150.2,425.5 Q150,430 148,433 Q146,437 143.5,439 Q140,441 136,442 L127,444.2 Q122,445.5 118,445.7 Q113,446 112,444.2 Q109.5,442 109,439 Q108.5,435 109.7,430 Z" fill="#fff" filter="url(#mot)" opacity="0.18"/>
<path d="M109.7,430 Q111,425 115,424 Q120,421 127,420.2 L133,418 Q137,416.5 142,417.2 Q147,417.5 148,419.5 Q151,421 150.2,425.5 Q150,430 148,433 Q146,437 143.5,439 Q140,441 136,442 L127,444.2 Q122,445.5 118,445.7 Q113,446 112,444.2 Q109.5,442 109,439 Q108.5,435 109.7,430 Z" fill="#fff" filter="url(#dark)" opacity="0.35"/>
</g>
<path d="M125.5,424 Q128,433 128.5,443.5" stroke="#7f84c6" stroke-width="0.7" fill="none"/>
<path d="M122.5,481.5 Q123,477 127,475.7 Q129.5,476 128.5,479 Q126,481.5 122.5,481.5 Z" fill="#7176c2"/>
<line x1="137.50" y1="442.00" x2="161.50" y2="451.70" stroke="#c8c8d4" stroke-width="0.7" />
<path d="M122,480 Q124,475 128,476 Q129,480 124,481 Z" fill="#6f75c2"/>
<g><rect x="130.8" y="452.9" width="33.8" height="34.6" fill="#a6a9da"/>
<rect x="130.8" y="452.9" width="33.8" height="34.6" fill="#fff" filter="url(#mot)" opacity="0.3"/>
<rect x="130.8" y="452.9" width="33.8" height="34.6" fill="#fff" filter="url(#dark)" opacity="0.5"/>
</g>
<path d="M143.5,455.5 L145,478 M147.2,461.5 L148,478" stroke="#e4e6f6" stroke-width="0.6"/>
<rect x="130.8" y="452.9" width="33.8" height="34.6" fill="none" stroke="#4a4a5a" stroke-width="0.9"/>
<g><path d="M168.6,437.5 Q169.0,434.5 169.8,431.5 Q170.5,428.5 172.8,426.2 Q175.0,424.0 178.0,422.5 Q181.0,421.0 184.0,419.9 Q187.0,418.7 190.0,418.4 Q193.0,418.0 194.5,416.9 Q196.0,415.7 200.5,415.4 Q205.0,415.0 208.8,415.8 Q212.5,416.5 214.8,418.0 Q217.0,419.5 217.3,422.5 Q217.7,425.5 218.1,429.2 Q218.5,433.0 217.8,436.0 Q217.0,439.0 215.5,441.2 Q214.0,443.5 212.5,445.0 Q211.0,446.5 213.2,448.0 Q215.5,449.5 217.0,450.6 Q218.5,451.7 213.2,452.4 Q208.0,453.0 207.9,470.0 Q207.8,487.0 207.2,485.5 Q206.5,484.0 204.2,482.5 Q202.0,481.0 199.0,479.5 Q196.0,478.0 193.8,476.5 Q191.5,475.0 189.2,471.2 Q187.0,467.5 187.8,464.5 Q188.5,461.5 187.8,459.2 Q187.0,457.0 184.8,455.5 Q182.5,454.0 178.8,451.8 Q175.0,449.5 172.8,447.2 Q170.5,445.0 169.3,442.8 Q168.2,440.5 168.6,437.5 Z" fill="#9899cb"/>
<path d="M168.6,437.5 Q169.0,434.5 169.8,431.5 Q170.5,428.5 172.8,426.2 Q175.0,424.0 178.0,422.5 Q181.0,421.0 184.0,419.9 Q187.0,418.7 190.0,418.4 Q193.0,418.0 194.5,416.9 Q196.0,415.7 200.5,415.4 Q205.0,415.0 208.8,415.8 Q212.5,416.5 214.8,418.0 Q217.0,419.5 217.3,422.5 Q217.7,425.5 218.1,429.2 Q218.5,433.0 217.8,436.0 Q217.0,439.0 215.5,441.2 Q214.0,443.5 212.5,445.0 Q211.0,446.5 213.2,448.0 Q215.5,449.5 217.0,450.6 Q218.5,451.7 213.2,452.4 Q208.0,453.0 207.9,470.0 Q207.8,487.0 207.2,485.5 Q206.5,484.0 204.2,482.5 Q202.0,481.0 199.0,479.5 Q196.0,478.0 193.8,476.5 Q191.5,475.0 189.2,471.2 Q187.0,467.5 187.8,464.5 Q188.5,461.5 187.8,459.2 Q187.0,457.0 184.8,455.5 Q182.5,454.0 178.8,451.8 Q175.0,449.5 172.8,447.2 Q170.5,445.0 169.3,442.8 Q168.2,440.5 168.6,437.5 Z" fill="#fff" filter="url(#mot)" opacity="0.4"/>
<path d="M168.6,437.5 Q169.0,434.5 169.8,431.5 Q170.5,428.5 172.8,426.2 Q175.0,424.0 178.0,422.5 Q181.0,421.0 184.0,419.9 Q187.0,418.7 190.0,418.4 Q193.0,418.0 194.5,416.9 Q196.0,415.7 200.5,415.4 Q205.0,415.0 208.8,415.8 Q212.5,416.5 214.8,418.0 Q217.0,419.5 217.3,422.5 Q217.7,425.5 218.1,429.2 Q218.5,433.0 217.8,436.0 Q217.0,439.0 215.5,441.2 Q214.0,443.5 212.5,445.0 Q211.0,446.5 213.2,448.0 Q215.5,449.5 217.0,450.6 Q218.5,451.7 213.2,452.4 Q208.0,453.0 207.9,470.0 Q207.8,487.0 207.2,485.5 Q206.5,484.0 204.2,482.5 Q202.0,481.0 199.0,479.5 Q196.0,478.0 193.8,476.5 Q191.5,475.0 189.2,471.2 Q187.0,467.5 187.8,464.5 Q188.5,461.5 187.8,459.2 Q187.0,457.0 184.8,455.5 Q182.5,454.0 178.8,451.8 Q175.0,449.5 172.8,447.2 Q170.5,445.0 169.3,442.8 Q168.2,440.5 168.6,437.5 Z" fill="#fff" filter="url(#dark)" opacity="0.5"/>
<path d="M168.6,437.5 Q169.0,434.5 169.8,431.5 Q170.5,428.5 172.8,426.2 Q175.0,424.0 178.0,422.5 Q181.0,421.0 184.0,419.9 Q187.0,418.7 190.0,418.4 Q193.0,418.0 194.5,416.9 Q196.0,415.7 200.5,415.4 Q205.0,415.0 208.8,415.8 Q212.5,416.5 214.8,418.0 Q217.0,419.5 217.3,422.5 Q217.7,425.5 218.1,429.2 Q218.5,433.0 217.8,436.0 Q217.0,439.0 215.5,441.2 Q214.0,443.5 212.5,445.0 Q211.0,446.5 213.2,448.0 Q215.5,449.5 217.0,450.6 Q218.5,451.7 213.2,452.4 Q208.0,453.0 207.9,470.0 Q207.8,487.0 207.2,485.5 Q206.5,484.0 204.2,482.5 Q202.0,481.0 199.0,479.5 Q196.0,478.0 193.8,476.5 Q191.5,475.0 189.2,471.2 Q187.0,467.5 187.8,464.5 Q188.5,461.5 187.8,459.2 Q187.0,457.0 184.8,455.5 Q182.5,454.0 178.8,451.8 Q175.0,449.5 172.8,447.2 Q170.5,445.0 169.3,442.8 Q168.2,440.5 168.6,437.5 Z" fill="#fff" filter="url(#speck)" opacity="0.2"/>
</g>
<path d="M183,456 Q190,458 192,466 Q196,474 204,480 L207.8,482 L207.8,470 Q200,462 196,458 Q190,452 183,456 Z" fill="#ffffff" opacity="0.22"/>
<path d="M197,462 Q204,463 207.8,466 L207.8,476 Q202,474 198,470 Z" fill="#7f86c8" opacity="0.35"/>
<path d="M185,440 l3,-3 l2,3 z M190,439 l3,-3 l1,3 z" fill="#f2f2f8"/>
<rect x="200" y="431.6" width="9.6" height="10.4" fill="none" stroke="#7f7aa6" stroke-width="0.6"/>
<line x1="219.00" y1="443.70" x2="236.40" y2="451.50" stroke="#c8c4d0" stroke-width="0.7" />
<g><rect x="207.8" y="452.9" width="34.2" height="34.6" fill="#a7a3cc"/>
<rect x="207.8" y="452.9" width="34.2" height="34.6" fill="#fff" filter="url(#mot)" opacity="0.25"/>
<rect x="207.8" y="452.9" width="34.2" height="34.6" fill="#fff" filter="url(#dark)" opacity="0.4"/>
<rect x="207.8" y="452.9" width="34.2" height="34.6" fill="#fff" filter="url(#speck)" opacity="0.3"/>
</g>
<rect x="207.8" y="452.9" width="34.2" height="34.6" fill="none" stroke="#4a4a5a" stroke-width="0.9"/>
<path d="M260,424 Q262,418 268,418.5 Q275,419 279,424 Q276,430 268,431 Q261,430 260,424 Z" fill="#eceaf2"/>
<path d="M265.5,420.5 Q269,418.8 273,420.5 Q271.5,423.5 267,423.5 Z" fill="#b4aed0"/>
<circle cx="279.1" cy="422.2" r="1.2" fill="#1a1a1a"/>
<polygon points="288.6,422.2 292.2,421.9 314.2,431 315.6,435.4 312.7,437.6 289.3,426.6" fill="#8b82aa"/>
<path d="M258.6,443.2 L274.7,441.4 L282,443.3 L295.3,451.3" stroke="#8b82aa" stroke-width="3.8" fill="none" stroke-linejoin="round"/>
<path d="M250.3,446.5 L251.6,456 L255.8,466.2 L279.3,462.7" stroke="#8b82aa" stroke-width="4.6" fill="none" stroke-linejoin="round"/>
<ellipse cx="251.8" cy="445.6" rx="3.2" ry="2.4" fill="#8b82aa"/>
<path d="M260.5,442 l2,0 M266,441.5 l1.5,0 M271,441.2 l1.5,0 M276,442.2 l1.2,0.3" stroke="#6e6490" stroke-width="1.2"/>
<ellipse cx="283.5" cy="463.2" rx="2.3" ry="3" fill="#8d88ad"/>
<path d="M266,474 Q272,472 280,474 Q284,479 278,482 Q270,483 266,479 Z" fill="#f0eff4"/>
<ellipse cx="260" cy="476" rx="2.8" ry="1.8" fill="#9a94b8"/>
<rect x="285" y="453.3" width="34.3" height="34.2" fill="#fbf8f8"/>
<g><polygon points="290.5,453.5 296.2,453.5 310.7,458.5 319.6,468.2 319.6,487.6 304.2,487.6 285.3,471.4 285.3,466 287.5,460" fill="#8e6e86"/>
<polygon points="290.5,453.5 296.2,453.5 310.7,458.5 319.6,468.2 319.6,487.6 304.2,487.6 285.3,471.4 285.3,466 287.5,460" fill="#fff" filter="url(#mot)" opacity="0.2"/>
<polygon points="290.5,453.5 296.2,453.5 310.7,458.5 319.6,468.2 319.6,487.6 304.2,487.6 285.3,471.4 285.3,466 287.5,460" fill="#fff" filter="url(#dark)" opacity="0.3"/>
<polygon points="290.5,453.5 296.2,453.5 310.7,458.5 319.6,468.2 319.6,487.6 304.2,487.6 285.3,471.4 285.3,466 287.5,460" fill="#fff" filter="url(#speck)" opacity="0.75"/>
</g>
<rect x="285" y="453.3" width="34.3" height="34.2" fill="none" stroke="#4a4a5a" stroke-width="0.9"/>
<rect x="12.3" y="413" width="74.9" height="74.5" fill="none" stroke="#8f8f8f" stroke-width="1"/>
<rect x="90.2" y="413" width="74.4" height="74.5" fill="none" stroke="#8f8f8f" stroke-width="1"/>
<rect x="167.2" y="413" width="74.8" height="74.5" fill="none" stroke="#8f8f8f" stroke-width="1"/>
<rect x="244.6" y="413" width="74.7" height="74.5" fill="none" stroke="#8f8f8f" stroke-width="1"/>
<text x="337.30" y="378.00" font-size="11" fill="#111" font-weight="bold" stroke="#111" stroke-width="0.12" >D</text>
<path d="M369.50,384.00 L380.70,384.00 L380.70,386.60 L386.30,386.60 L386.30,389.20 L458.00,389.20 L458.00,405.50 L400.20,405.50 L400.20,400.00 L386.30,400.00 L386.30,396.00 L380.70,396.00 L380.70,391.00 L369.50,391.00 Z" fill="#f4c0c0"/>
<path d="M369.50,384.00 L374.00,384.00 L374.00,386.00 L377.00,386.00 L377.00,389.00 L379.50,389.00 L379.50,392.50 L381.60,392.50 L381.60,396.60 L400.20,396.60 L400.20,411.20 L426.20,411.20 L426.20,445.80 L426.20,445.80 L405.00,445.80 L405.00,441.00 L400.20,441.00 L400.20,426.50 L385.80,426.50 L385.80,421.00 L381.90,421.00 L381.90,411.20 L377.10,411.20 L377.10,404.40 L369.50,404.40 Z" fill="#bfc5e3" opacity="0.9"/>
<path d="M369.50,384.00 L380.70,384.00 L380.70,386.60 L386.30,386.60 L386.30,389.20 L458.00,389.20" fill="none" stroke="#3a2a2a" stroke-width="1" stroke-dasharray="2.2,1.4"/>
<path d="M458.00,405.50 L400.20,405.50 L400.20,400.00 L386.30,400.00 L386.30,396.00 L380.70,396.00 L380.70,391.00 L369.50,391.00" fill="none" stroke="#3a2a2a" stroke-width="1" stroke-dasharray="2.2,1.4"/>
<path d="M369.50,384.00 L374.00,384.00 L374.00,386.00 L377.00,386.00 L377.00,389.00 L379.50,389.00 L379.50,392.50 L381.60,392.50 L381.60,396.60 L400.20,396.60 L400.20,411.20 L426.20,411.20 L426.20,445.80" fill="none" stroke="#2a2a3a" stroke-width="1" stroke-dasharray="2.2,1.4"/>
<path d="M426.20,445.80 L405.00,445.80 L405.00,441.00 L400.20,441.00 L400.20,426.50 L385.80,426.50 L385.80,421.00 L381.90,421.00 L381.90,411.20 L377.10,411.20 L377.10,404.40 L369.50,404.40" fill="none" stroke="#2a2a3a" stroke-width="1" stroke-dasharray="2.2,1.4"/>
<path d="M369.50,384.00 L374.00,384.00 L374.00,387.00 L377.00,387.00 L377.00,391.00 L380.00,391.00 L380.00,395.00 L382.40,395.00 L382.40,399.20 L384.60,399.20 L384.60,407.40 L400.20,407.40 L400.20,421.50 L404.20,421.50 L404.20,428.20 L426.20,428.20 L426.20,455.40" fill="none" stroke="#3d5a88" stroke-width="1"/>
<path d="M369.50,384.00 L376.00,384.00 L376.00,386.00 L380.70,386.00 L380.70,390.00 L384.60,390.00 L384.60,394.30 L458.00,394.30" fill="none" stroke="#c23a50" stroke-width="1"/>
<line x1="388.50" y1="392.80" x2="388.50" y2="395.80" stroke="#8a2a3a" stroke-width="0.7" />
<line x1="392.50" y1="392.80" x2="392.50" y2="395.80" stroke="#8a2a3a" stroke-width="0.7" />
<line x1="395.50" y1="392.80" x2="395.50" y2="395.80" stroke="#8a2a3a" stroke-width="0.7" />
<line x1="398.50" y1="392.80" x2="398.50" y2="395.80" stroke="#8a2a3a" stroke-width="0.7" />
<line x1="401.50" y1="392.80" x2="401.50" y2="395.80" stroke="#8a2a3a" stroke-width="0.7" />
<line x1="404.50" y1="392.80" x2="404.50" y2="395.80" stroke="#8a2a3a" stroke-width="0.7" />
<line x1="406.50" y1="392.80" x2="406.50" y2="395.80" stroke="#8a2a3a" stroke-width="0.7" />
<line x1="409.50" y1="392.80" x2="409.50" y2="395.80" stroke="#8a2a3a" stroke-width="0.7" />
<line x1="412.50" y1="392.80" x2="412.50" y2="395.80" stroke="#8a2a3a" stroke-width="0.7" />
<line x1="415.50" y1="392.80" x2="415.50" y2="395.80" stroke="#8a2a3a" stroke-width="0.7" />
<line x1="419.50" y1="392.80" x2="419.50" y2="395.80" stroke="#8a2a3a" stroke-width="0.7" />
<line x1="423.50" y1="392.80" x2="423.50" y2="395.80" stroke="#8a2a3a" stroke-width="0.7" />
<line x1="447.50" y1="392.80" x2="447.50" y2="395.80" stroke="#8a2a3a" stroke-width="0.7" />
<line x1="452.50" y1="392.80" x2="452.50" y2="395.80" stroke="#8a2a3a" stroke-width="0.7" />
<line x1="455.50" y1="392.80" x2="455.50" y2="395.80" stroke="#8a2a3a" stroke-width="0.7" />
<line x1="389.50" y1="405.90" x2="389.50" y2="408.90" stroke="#2a3a6a" stroke-width="0.7" />
<line x1="392.50" y1="405.90" x2="392.50" y2="408.90" stroke="#2a3a6a" stroke-width="0.7" />
<line x1="396.50" y1="405.90" x2="396.50" y2="408.90" stroke="#2a3a6a" stroke-width="0.7" />
<line x1="419.50" y1="405.90" x2="419.50" y2="408.90" stroke="#2a3a6a" stroke-width="0.7" />
<line x1="369.50" y1="373.70" x2="369.50" y2="455.40" stroke="#3a3a3a" stroke-width="1" />
<line x1="369.30" y1="455.50" x2="484.40" y2="455.50" stroke="#3a3a3a" stroke-width="1" />
<line x1="366.80" y1="383.50" x2="369.80" y2="383.50" stroke="#3a3a3a" stroke-width="1" />
<text x="364.50" y="386.80" font-size="8.6" text-anchor="end" stroke="#262626" stroke-width="0.12" >100</text>
<line x1="366.80" y1="419.50" x2="369.80" y2="419.50" stroke="#3a3a3a" stroke-width="1" />
<text x="364.50" y="422.90" font-size="8.6" text-anchor="end" stroke="#262626" stroke-width="0.12" >50</text>
<line x1="366.80" y1="455.50" x2="369.80" y2="455.50" stroke="#3a3a3a" stroke-width="1" />
<text x="364.50" y="458.50" font-size="8.6" text-anchor="end" stroke="#262626" stroke-width="0.12" >0</text>
<line x1="369.50" y1="455.40" x2="369.50" y2="458.40" stroke="#3a3a3a" stroke-width="1" />
<text x="373.40" y="464.60" font-size="8.6" text-anchor="end" transform="rotate(-45 373.40 464.60)" stroke="#262626" stroke-width="0.12" >0</text>
<line x1="392.50" y1="455.40" x2="392.50" y2="458.40" stroke="#3a3a3a" stroke-width="1" />
<text x="395.75" y="464.60" font-size="8.6" text-anchor="end" transform="rotate(-45 395.75 464.60)" stroke="#262626" stroke-width="0.12" >500</text>
<line x1="414.50" y1="455.40" x2="414.50" y2="458.40" stroke="#3a3a3a" stroke-width="1" />
<text x="418.10" y="464.60" font-size="8.6" text-anchor="end" transform="rotate(-45 418.10 464.60)" stroke="#262626" stroke-width="0.12" >1000</text>
<line x1="436.50" y1="455.40" x2="436.50" y2="458.40" stroke="#3a3a3a" stroke-width="1" />
<text x="440.45" y="464.60" font-size="8.6" text-anchor="end" transform="rotate(-45 440.45 464.60)" stroke="#262626" stroke-width="0.12" >1500</text>
<line x1="459.50" y1="455.40" x2="459.50" y2="458.40" stroke="#3a3a3a" stroke-width="1" />
<text x="462.80" y="464.60" font-size="8.6" text-anchor="end" transform="rotate(-45 462.80 464.60)" stroke="#262626" stroke-width="0.12" >2000</text>
<line x1="481.50" y1="455.40" x2="481.50" y2="458.40" stroke="#3a3a3a" stroke-width="1" />
<text x="485.15" y="464.60" font-size="8.6" text-anchor="end" transform="rotate(-45 485.15 464.60)" stroke="#262626" stroke-width="0.12" >2500</text>
<text x="428.10" y="491.80" font-size="10" text-anchor="middle" textLength="14.20" lengthAdjust="spacingAndGlyphs" stroke="#262626" stroke-width="0.3" >Days</text>
<text x="345.00" y="413.80" font-size="10" text-anchor="middle" textLength="48.40" lengthAdjust="spacingAndGlyphs" transform="rotate(-90 345.00 413.80)" stroke="#262626" stroke-width="0.3" >Percent survival</text>
<line x1="430.60" y1="418.50" x2="439.20" y2="418.50" stroke="#c23a50" stroke-width="0.9" />
<line x1="434.50" y1="417.00" x2="434.50" y2="420.00" stroke="#c23a50" stroke-width="0.7" />
<text x="442.10" y="421.00" font-size="7.3" textLength="55.80" lengthAdjust="spacingAndGlyphs" stroke="#262626" stroke-width="0.12" >p-S6 low (n = 22)</text>
<line x1="430.60" y1="430.50" x2="439.20" y2="430.50" stroke="#4a6a9a" stroke-width="0.9" />
<line x1="434.50" y1="428.90" x2="434.50" y2="431.90" stroke="#4a6a9a" stroke-width="0.7" />
<text x="442.10" y="432.80" font-size="7.3" textLength="57.70" lengthAdjust="spacingAndGlyphs" stroke="#262626" stroke-width="0.12" >p-S6 high (n = 49)</text>
<text x="431.20" y="448.30" font-size="7.6" textLength="32.10" lengthAdjust="spacingAndGlyphs" stroke="#262626" stroke-width="0.12" ><tspan font-style="italic">P</tspan> = .0013</text>
<text x="10.80" y="522.70" font-size="11" fill="#111" font-weight="bold" stroke="#111" stroke-width="0.05" >E</text>
<text x="92.50" y="532.50" font-size="9.4" text-anchor="middle" textLength="62.50" lengthAdjust="spacingAndGlyphs" stroke="#262626" stroke-width="0.05" >Overall survival</text>
<line x1="40.50" y1="537.50" x2="40.50" y2="610.00" stroke="#3a3a3a" stroke-width="1" />
<line x1="40.00" y1="610.50" x2="143.00" y2="610.50" stroke="#3a3a3a" stroke-width="1" />
<line x1="37.50" y1="540.50" x2="40.50" y2="540.50" stroke="#3a3a3a" stroke-width="1" />
<text x="33.70" y="543.40" font-size="8.2" text-anchor="end" stroke="#262626" stroke-width="0.12" >1</text>
<line x1="37.50" y1="557.50" x2="40.50" y2="557.50" stroke="#3a3a3a" stroke-width="1" />
<text x="33.70" y="560.30" font-size="8.2" text-anchor="end" stroke="#262626" stroke-width="0.12" >.75</text>
<line x1="37.50" y1="574.50" x2="40.50" y2="574.50" stroke="#3a3a3a" stroke-width="1" />
<text x="33.70" y="577.20" font-size="8.2" text-anchor="end" stroke="#262626" stroke-width="0.12" >50</text>
<line x1="37.50" y1="591.50" x2="40.50" y2="591.50" stroke="#3a3a3a" stroke-width="1" />
<text x="33.70" y="594.00" font-size="8.2" text-anchor="end" stroke="#262626" stroke-width="0.12" >.25</text>
<line x1="37.50" y1="607.50" x2="40.50" y2="607.50" stroke="#3a3a3a" stroke-width="1" />
<text x="33.70" y="610.40" font-size="8.2" text-anchor="end" stroke="#262626" stroke-width="0.12" >0</text>
<line x1="44.50" y1="610.00" x2="44.50" y2="613.00" stroke="#3a3a3a" stroke-width="1" />
<text x="48.10" y="620.60" font-size="8.4" text-anchor="end" transform="rotate(-45 48.10 620.60)" stroke="#262626" stroke-width="0.08" >0</text>
<line x1="76.50" y1="610.00" x2="76.50" y2="613.00" stroke="#3a3a3a" stroke-width="1" />
<text x="79.85" y="620.60" font-size="8.4" text-anchor="end" transform="rotate(-45 79.85 620.60)" stroke="#262626" stroke-width="0.08" >2000</text>
<line x1="108.50" y1="610.00" x2="108.50" y2="613.00" stroke="#3a3a3a" stroke-width="1" />
<text x="111.60" y="620.60" font-size="8.4" text-anchor="end" transform="rotate(-45 111.60 620.60)" stroke="#262626" stroke-width="0.08" >4000</text>
<line x1="139.50" y1="610.00" x2="139.50" y2="613.00" stroke="#3a3a3a" stroke-width="1" />
<text x="143.35" y="620.60" font-size="8.4" text-anchor="end" transform="rotate(-45 143.35 620.60)" stroke="#262626" stroke-width="0.08" >6000</text>
<line x1="44.50" y1="540.50" x2="143.80" y2="540.50" stroke="#7f96bd" stroke-width="1.0" />
<ellipse cx="51.00" cy="540.5" rx="0.8" ry="1.2" fill="#2a3f6a"/>
<ellipse cx="53.40" cy="540.5" rx="0.8" ry="1.2" fill="#2a3f6a"/>
<ellipse cx="56.75" cy="540.5" rx="0.8" ry="1.2" fill="#2a3f6a"/>
<ellipse cx="58.50" cy="540.5" rx="0.8" ry="1.2" fill="#2a3f6a"/>
<ellipse cx="61.00" cy="540.5" rx="0.8" ry="1.2" fill="#2a3f6a"/>
<ellipse cx="66.40" cy="540.5" rx="0.8" ry="1.2" fill="#2a3f6a"/>
<ellipse cx="78.40" cy="540.5" rx="0.8" ry="1.2" fill="#2a3f6a"/>
<path d="M44.50,540.50 L45.50,540.50 L45.50,546.50 L48.50,546.50 L48.50,552.50 L49.50,552.50 L49.50,557.50 L51.50,557.50 L51.50,562.50 L55.50,562.50 L55.50,569.50 L140.50,569.50" fill="none" stroke="#d2687c" stroke-width="1"/>
<ellipse cx="55.80" cy="562.50" rx="0.9" ry="1.2" fill="#8a2036"/>
<ellipse cx="70.20" cy="569.50" rx="0.9" ry="1.2" fill="#8a2036"/>
<ellipse cx="140.00" cy="569.50" rx="0.9" ry="1.2" fill="#8a2036"/>
<text x="101.40" y="549.80" font-size="5.8" textLength="38.60" lengthAdjust="spacingAndGlyphs" stroke="#262626" stroke-width="0.05" >HR = 2.96e+09</text>
<line x1="45.00" y1="584.50" x2="48.50" y2="584.50" stroke="#5f88b8" stroke-width="0.9" />
<text x="49.50" y="587.20" font-size="6.2" fill="#5f8cc4" textLength="45.00" lengthAdjust="spacingAndGlyphs" stroke="#5f8cc4" stroke-width="0.05" >p-S6 low (n = 21)</text>
<line x1="45.00" y1="594.50" x2="48.50" y2="594.50" stroke="#c44a62" stroke-width="0.9" />
<text x="49.50" y="596.70" font-size="6.2" fill="#d85a74" textLength="46.00" lengthAdjust="spacingAndGlyphs" stroke="#d85a74" stroke-width="0.05" >p-S6 high (n = 12)</text>
<text x="100.40" y="587.20" font-size="6.2" textLength="20.70" lengthAdjust="spacingAndGlyphs" stroke="#262626" stroke-width="0.05" ><tspan font-style="italic">P</tspan> = .026</text>
<text x="100.40" y="596.70" font-size="6.2" textLength="41.50" lengthAdjust="spacingAndGlyphs" stroke="#262626" stroke-width="0.05" >p-S6 (S235/236)</text>
<text x="224.00" y="532.50" font-size="9.4" text-anchor="middle" textLength="102.00" lengthAdjust="spacingAndGlyphs" stroke="#262626" stroke-width="0.05" >Disease specific survival</text>
<line x1="172.50" y1="537.50" x2="172.50" y2="610.00" stroke="#3a3a3a" stroke-width="1" />
<line x1="171.80" y1="610.50" x2="275.50" y2="610.50" stroke="#3a3a3a" stroke-width="1" />
<line x1="169.30" y1="540.50" x2="172.30" y2="540.50" stroke="#3a3a3a" stroke-width="1" />
<text x="165.50" y="543.40" font-size="8.2" text-anchor="end" stroke="#262626" stroke-width="0.12" >1</text>
<line x1="169.30" y1="557.50" x2="172.30" y2="557.50" stroke="#3a3a3a" stroke-width="1" />
<text x="165.50" y="560.30" font-size="8.2" text-anchor="end" stroke="#262626" stroke-width="0.12" >.75</text>
<line x1="169.30" y1="574.50" x2="172.30" y2="574.50" stroke="#3a3a3a" stroke-width="1" />
<text x="165.50" y="577.20" font-size="8.2" text-anchor="end" stroke="#262626" stroke-width="0.12" >.50</text>
<line x1="169.30" y1="591.50" x2="172.30" y2="591.50" stroke="#3a3a3a" stroke-width="1" />
<text x="165.50" y="594.00" font-size="8.2" text-anchor="end" stroke="#262626" stroke-width="0.12" >.25</text>
<line x1="169.30" y1="607.50" x2="172.30" y2="607.50" stroke="#3a3a3a" stroke-width="1" />
<text x="165.50" y="610.40" font-size="8.2" text-anchor="end" stroke="#262626" stroke-width="0.12" >0</text>
<line x1="176.50" y1="610.00" x2="176.50" y2="613.00" stroke="#3a3a3a" stroke-width="1" />
<text x="180.10" y="620.60" font-size="8.4" text-anchor="end" transform="rotate(-45 180.10 620.60)" stroke="#262626" stroke-width="0.08" >0</text>
<line x1="208.50" y1="610.00" x2="208.50" y2="613.00" stroke="#3a3a3a" stroke-width="1" />
<text x="211.60" y="620.60" font-size="8.4" text-anchor="end" transform="rotate(-45 211.60 620.60)" stroke="#262626" stroke-width="0.08" >2000</text>
<line x1="239.50" y1="610.00" x2="239.50" y2="613.00" stroke="#3a3a3a" stroke-width="1" />
<text x="243.10" y="620.60" font-size="8.4" text-anchor="end" transform="rotate(-45 243.10 620.60)" stroke="#262626" stroke-width="0.08" >4000</text>
<line x1="271.50" y1="610.00" x2="271.50" y2="613.00" stroke="#3a3a3a" stroke-width="1" />
<text x="274.60" y="620.60" font-size="8.4" text-anchor="end" transform="rotate(-45 274.60 620.60)" stroke="#262626" stroke-width="0.08" >6000</text>
<line x1="176.50" y1="540.50" x2="275.00" y2="540.50" stroke="#7f96bd" stroke-width="1.0" />
<ellipse cx="177.00" cy="540.5" rx="0.8" ry="1.2" fill="#2a3f6a"/>
<ellipse cx="179.00" cy="540.5" rx="0.8" ry="1.2" fill="#2a3f6a"/>
<ellipse cx="181.00" cy="540.5" rx="0.8" ry="1.2" fill="#2a3f6a"/>
<ellipse cx="183.00" cy="540.5" rx="0.8" ry="1.2" fill="#2a3f6a"/>
<ellipse cx="188.20" cy="540.5" rx="0.8" ry="1.2" fill="#2a3f6a"/>
<ellipse cx="194.00" cy="540.5" rx="0.8" ry="1.2" fill="#2a3f6a"/>
<ellipse cx="198.50" cy="540.5" rx="0.8" ry="1.2" fill="#2a3f6a"/>
<ellipse cx="202.20" cy="540.5" rx="0.8" ry="1.2" fill="#2a3f6a"/>
<ellipse cx="210.30" cy="540.5" rx="0.8" ry="1.2" fill="#2a3f6a"/>
<path d="M176.50,540.50 L182.50,540.50 L182.50,553.50 L182.50,553.50 L182.50,567.50 L188.50,567.50" fill="none" stroke="#d2687c" stroke-width="1"/>
<ellipse cx="188.70" cy="567.50" rx="0.9" ry="1.2" fill="#8a2036"/>
<text x="233.00" y="549.80" font-size="5.8" textLength="39.00" lengthAdjust="spacingAndGlyphs" stroke="#262626" stroke-width="0.05" >HR = 6.57e+09</text>
<line x1="177.00" y1="584.50" x2="180.50" y2="584.50" stroke="#5f88b8" stroke-width="0.9" />
<text x="181.50" y="587.20" font-size="6.2" fill="#5f8cc4" textLength="43.50" lengthAdjust="spacingAndGlyphs" stroke="#5f8cc4" stroke-width="0.05" >p-S6 low (n = 28)</text>
<line x1="177.00" y1="594.50" x2="180.50" y2="594.50" stroke="#c44a62" stroke-width="0.9" />
<text x="181.50" y="596.70" font-size="6.2" fill="#d85a74" textLength="41.00" lengthAdjust="spacingAndGlyphs" stroke="#d85a74" stroke-width="0.05" >p-S6 high (n = 5)</text>
<text x="232.50" y="587.20" font-size="6.2" textLength="23.75" lengthAdjust="spacingAndGlyphs" stroke="#262626" stroke-width="0.05" ><tspan font-style="italic">P</tspan> = .0021</text>
<text x="232.50" y="596.70" font-size="6.2" textLength="40.50" lengthAdjust="spacingAndGlyphs" stroke="#262626" stroke-width="0.05" >p-S6 (S235/236)</text>
<text x="16.50" y="574.20" font-size="10.2" text-anchor="middle" textLength="56.50" lengthAdjust="spacingAndGlyphs" transform="rotate(-90 16.50 574.20)" stroke="#262626" stroke-width="0.3" >Survival probability</text>
<text x="163.90" y="647.60" font-size="10.4" text-anchor="middle" textLength="38.00" lengthAdjust="spacingAndGlyphs" stroke="#262626" stroke-width="0.3" >Time in days</text>
<text x="291.20" y="523.00" font-size="11" fill="#111" font-weight="bold" stroke="#111" stroke-width="0.1" >F</text>
<line x1="298.80" y1="526.50" x2="503.90" y2="526.50" stroke="#777" stroke-width="1.1" />
<line x1="298.80" y1="540.50" x2="503.90" y2="540.50" stroke="#777" stroke-width="1.1" />
<line x1="299.20" y1="652.50" x2="503.90" y2="652.50" stroke="#777" stroke-width="1.2" />
<text x="324.65" y="536.70" font-size="7.8" text-anchor="middle" textLength="49.90" lengthAdjust="spacingAndGlyphs" stroke="#262626" stroke-width="0.08" >Characteristics</text>
<text x="379.75" y="536.70" font-size="7.8" text-anchor="middle" textLength="21.50" lengthAdjust="spacingAndGlyphs" stroke="#262626" stroke-width="0.08" >Group</text>
<text x="419.65" y="536.70" font-size="7.8" text-anchor="middle" textLength="15.30" lengthAdjust="spacingAndGlyphs" stroke="#262626" stroke-width="0.08" >Total</text>
<text x="452.00" y="536.70" font-size="7.8" text-anchor="middle" textLength="11.50" lengthAdjust="spacingAndGlyphs" stroke="#262626" stroke-width="0.08" >HR</text>
<text x="490.60" y="536.70" font-size="7.8" text-anchor="middle" textLength="24.30" lengthAdjust="spacingAndGlyphs" stroke="#262626" stroke-width="0.08" ><tspan font-style="italic">P</tspan> value</text>
<text x="325.90" y="557.30" font-size="7.8" text-anchor="middle" textLength="12.70" lengthAdjust="spacingAndGlyphs" stroke="#262626" stroke-width="0.08" >Age</text>
<text x="372.50" y="557.30" font-size="7.8" text-anchor="middle" textLength="39.50" lengthAdjust="spacingAndGlyphs" stroke="#262626" stroke-width="0.08" >&gt;60 vs &lt;60</text>
<text x="418.70" y="557.30" font-size="7.8" text-anchor="middle" stroke="#262626" stroke-width="0.08" >31</text>
<text x="452.50" y="554.40" font-size="7.8" text-anchor="middle" stroke="#262626" stroke-width="0.08" >0.380</text>
<text x="452.30" y="561.30" font-size="5.0" text-anchor="middle" textLength="33.20" lengthAdjust="spacingAndGlyphs" stroke="#262626" stroke-width="0.08" >(0.063-2.281)</text>
<text x="490.20" y="557.30" font-size="7.8" text-anchor="middle" stroke="#262626" stroke-width="0.08" >.29</text>
<text x="325.90" y="578.00" font-size="7.8" text-anchor="middle" textLength="17.00" lengthAdjust="spacingAndGlyphs" stroke="#262626" stroke-width="0.08" >Race</text>
<text x="377.20" y="578.00" font-size="7.8" text-anchor="middle" textLength="49.60" lengthAdjust="spacingAndGlyphs" stroke="#262626" stroke-width="0.08" >White vs Asian</text>
<text x="418.70" y="578.00" font-size="7.8" text-anchor="middle" stroke="#262626" stroke-width="0.08" >31</text>
<text x="452.50" y="575.10" font-size="7.8" text-anchor="middle" stroke="#262626" stroke-width="0.08" >4.204</text>
<text x="452.30" y="582.00" font-size="5.0" text-anchor="middle" textLength="35.80" lengthAdjust="spacingAndGlyphs" stroke="#262626" stroke-width="0.08" >(0.469-37.708)</text>
<text x="490.20" y="578.00" font-size="7.8" text-anchor="middle" stroke="#262626" stroke-width="0.08" >.199</text>
<text x="325.90" y="598.80" font-size="7.8" text-anchor="middle" textLength="25.40" lengthAdjust="spacingAndGlyphs" stroke="#262626" stroke-width="0.08" >Gender</text>
<text x="377.30" y="598.80" font-size="7.8" text-anchor="middle" textLength="50.80" lengthAdjust="spacingAndGlyphs" stroke="#262626" stroke-width="0.08" >Male vs Female</text>
<text x="418.70" y="598.80" font-size="7.8" text-anchor="middle" stroke="#262626" stroke-width="0.08" >31</text>
<text x="452.50" y="595.90" font-size="7.8" text-anchor="middle" stroke="#262626" stroke-width="0.08" >0.785</text>
<text x="452.30" y="602.80" font-size="5.0" text-anchor="middle" textLength="32.30" lengthAdjust="spacingAndGlyphs" stroke="#262626" stroke-width="0.08" >(0.131-4.717)</text>
<text x="490.20" y="598.80" font-size="7.8" text-anchor="middle" stroke="#262626" stroke-width="0.08" >.791</text>
<text x="325.90" y="615.40" font-size="7.8" text-anchor="middle" textLength="32.40" lengthAdjust="spacingAndGlyphs" stroke="#262626" stroke-width="0.08" >Treatment</text>
<text x="325.90" y="624.60" font-size="7.8" text-anchor="middle" textLength="29.10" lengthAdjust="spacingAndGlyphs" stroke="#262626" stroke-width="0.08" >outcome</text>
<text x="377.20" y="615.40" font-size="7.8" text-anchor="middle" textLength="35.70" lengthAdjust="spacingAndGlyphs" stroke="#262626" stroke-width="0.08" >CR&amp;PR vs</text>
<text x="377.20" y="624.60" font-size="7.8" text-anchor="middle" textLength="26.10" lengthAdjust="spacingAndGlyphs" stroke="#262626" stroke-width="0.08" >SD&amp;PD</text>
<text x="418.70" y="620.00" font-size="7.8" text-anchor="middle" stroke="#262626" stroke-width="0.08" >31</text>
<text x="452.50" y="617.10" font-size="7.8" text-anchor="middle" stroke="#262626" stroke-width="0.08" >4.452</text>
<text x="452.30" y="624.00" font-size="5.0" text-anchor="middle" textLength="36.20" lengthAdjust="spacingAndGlyphs" stroke="#262626" stroke-width="0.08" >(0.739-26.802)</text>
<text x="490.20" y="620.00" font-size="7.8" text-anchor="middle" stroke="#262626" stroke-width="0.08" >.103</text>
<text x="325.90" y="640.30" font-size="7.8" text-anchor="middle" textLength="16.20" lengthAdjust="spacingAndGlyphs" stroke="#262626" stroke-width="0.08" >p-S6</text>
<text x="377.20" y="640.30" font-size="7.8" text-anchor="middle" textLength="40.40" lengthAdjust="spacingAndGlyphs" stroke="#262626" stroke-width="0.08" >High vs Low</text>
<text x="418.70" y="640.30" font-size="7.8" text-anchor="middle" stroke="#262626" stroke-width="0.08" >31</text>
<text x="452.50" y="637.40" font-size="7.8" text-anchor="middle" stroke="#262626" stroke-width="0.08" >2.541</text>
<text x="452.30" y="644.30" font-size="5.0" text-anchor="middle" textLength="33.50" lengthAdjust="spacingAndGlyphs" stroke="#262626" stroke-width="0.08" >(1.022-6.320)</text>
<text x="490.20" y="640.30" font-size="7.8" text-anchor="middle" fill="#c8204a" stroke="#c8204a" stroke-width="0.08" >.045*</text>
</g></svg>
<div id="frame"></div>
</body></html>
